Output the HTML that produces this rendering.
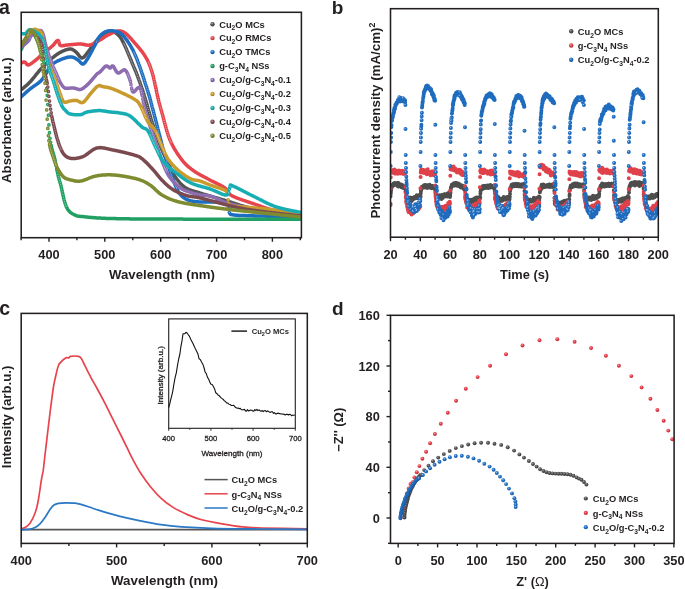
<!DOCTYPE html><html><head><meta charset="utf-8"><style>html,body{margin:0;padding:0;background:#fff;}svg{display:block;will-change:transform;}</style></head><body>
<svg width="685" height="589" viewBox="0 0 685 589" font-family='"Liberation Sans", sans-serif'>
<rect width="685" height="589" fill="#fff"/>
<defs><clipPath id="ca"><rect x="21.2" y="12.3" width="280.2" height="225.4"/></clipPath></defs>
<g clip-path="url(#ca)" fill="none" stroke-linejoin="round" stroke-linecap="round">
<path d="M21 90L21.6 89.5L22.1 89.1L22.7 88.6L23.2 88.1L23.8 87.7L24.4 87.2L24.9 86.7L25.5 86.2L26 85.8L26.6 85.3L27.1 84.8L27.7 84.3L28.3 83.7L28.8 83.2L29.4 82.6L29.9 82.1L30.5 81.5L31.1 80.8L31.6 80.2L32.2 79.5L32.7 78.9L33.3 78.2L33.8 77.5L34.4 76.8L35 76.1L35.5 75.4L36.1 74.7L36.6 74L37.2 73.3L37.8 72.6L38.3 71.9L38.9 71.3L39.4 70.6L40 70L40.5 69.4L41.1 68.8L41.7 68.2L42.2 67.6L42.8 67L43.3 66.4L43.9 65.8L44.5 65.3L45 64.7L45.6 64.1L46.1 63.6L46.7 63.1L47.2 62.5L47.8 62L48.4 61.5L48.9 61L49.5 60.5L50 60L50.6 59.5L51.2 59L51.7 58.5L52.3 58L52.8 57.6L53.4 57.1L54 56.7L54.5 56.2L55.1 55.8L55.6 55.4L56.2 55L56.7 54.6L57.3 54.2L57.9 53.8L58.4 53.4L59 53.1L59.5 52.8L60.1 52.4L60.7 52.1L61.2 51.9L61.8 51.6L62.3 51.3L62.9 51.1L63.4 50.8L64 50.6L64.6 50.4L65.1 50.1L65.7 49.9L66.2 49.8L66.8 49.6L67.4 49.4L67.9 49.3L68.5 49.2L69 49.1L69.6 49L70.1 49L70.7 49L71.3 49.1L71.8 49.2L72.4 49.4L72.9 49.7L73.5 50.1L74.1 50.5L74.6 50.9L75.2 51.4L75.7 51.8L76.3 52.2L76.8 52.8L77.4 53.5L78 54.2L78.5 54.9L79.1 55.7L79.6 56.4L80.2 57L80.8 57.5L81.3 57.8L81.9 58L82.4 57.9L83 57.7L83.6 57.3L84.1 56.9L84.7 56.3L85.2 55.6L85.8 54.9L86.3 54.2L86.9 53.4L87.5 52.7L88 52L88.6 51.3L89.1 50.5L89.7 49.7L90.3 48.9L90.8 48.1L91.4 47.2L91.9 46.4L92.5 45.7L93 44.9L93.6 44.2L94.2 43.6L94.7 42.9L95.3 42.2L95.8 41.5L96.4 40.8L97 40.2L97.5 39.6L98.1 39L98.6 38.4L99.2 37.8L99.7 37.2L100.3 36.7L100.9 36.2L101.4 35.7L102 35.2L102.5 34.8L103.1 34.3L103.7 33.9L104.2 33.5L104.8 33.1L105.3 32.8L105.9 32.5L106.5 32.2L107 32L107.6 31.8L108.1 31.6L108.7 31.5L109.2 31.3L109.8 31.2L110.4 31.2L110.9 31.2L111.5 31.2L112 31.3L112.6 31.4L113.2 31.6L113.7 31.9L114.3 32.1L114.8 32.4L115.4 32.8L115.9 33.1L116.5 33.5L117.1 33.9L117.6 34.3L118.2 34.8L118.7 35.4L119.3 36L119.9 36.7L120.4 37.5L121 38.3L121.5 39.2L122.1 40.2L122.6 41.2L123.2 42.3L123.8 43.4L124.3 44.6L124.9 45.8L125.4 47L126 48.3L126.6 49.6L127.1 50.9L127.7 52.2L128.2 53.5L128.8 54.8L129.3 56.2L129.9 57.5L130.5 58.9L131 60.3L131.6 61.6L132.1 63L132.7 64.3L133.3 65.6L133.8 66.9L134.4 68.2L134.9 69.6L135.5 70.9L136.1 72.3L136.6 73.7L137.2 75.1L137.7 76.6L138.3 78.1L138.8 79.6L139.4 81.1L140 82.7L140.5 84.3L141.1 85.9L141.6 87.5L142.2 89.2L142.8 90.9L143.3 92.6L143.9 94.4L144.4 96.2L145 98L145.5 99.8L146.1 101.7L146.7 103.6L147.2 105.6L147.8 107.6L148.3 109.6L148.9 111.5L149.5 113.5L150 115.4L150.6 117.3L151.1 119.2L151.7 121L152.2 122.8L152.8 124.5L153.4 126.2L153.9 127.9L154.5 129.6L155 131.3L155.6 132.9L156.2 134.5L156.7 136.1L157.3 137.7L157.8 139.2L158.4 140.8L158.9 142.3L159.5 143.7L160.1 145.2L160.6 146.6L161.2 148L161.7 149.3L162.3 150.6L162.9 151.9L163.4 153.2L164 154.4L164.5 155.7L165.1 156.9L165.7 158.1L166.2 159.3L166.8 160.4L167.3 161.6L167.9 162.8L168.4 163.9L169 165.1L169.6 166.3L170.1 167.4L170.7 168.6L171.2 169.7L171.8 170.8L172.4 171.9L172.9 173L173.5 174L174 175L174.6 175.9L175.1 176.8L175.7 177.6L176.3 178.4L176.8 179.1L177.4 179.9L177.9 180.6L178.5 181.2L179.1 181.9L179.6 182.5L180.2 183.2L180.7 183.7L181.3 184.3L181.8 184.8L182.4 185.3L183 185.8L183.5 186.3L184.1 186.7L184.6 187.1L185.2 187.5L185.8 187.8L186.3 188.2L186.9 188.5L187.4 188.8L188 189.1L188.6 189.4L189.1 189.6L189.7 189.8L190.2 190.1L190.8 190.2L191.3 190.4L191.9 190.6L192.5 190.8L193 190.9L193.6 191.1L194.1 191.3L194.7 191.4L195.3 191.6L195.8 191.7L196.4 191.9L196.9 192.1L197.5 192.2L198 192.4L198.6 192.6L199.2 192.7L199.7 192.9L200.3 193.1L200.8 193.3L201.4 193.4L202 193.6L202.5 193.8L203.1 194L203.6 194.1L204.2 194.3L204.7 194.5L205.3 194.6L205.9 194.8L206.4 195L207 195.1L207.5 195.3L208.1 195.5L208.7 195.6L209.2 195.8L209.8 195.9L210.3 196.1L210.9 196.3L211.4 196.4L212 196.6L212.6 196.8L213.1 196.9L213.7 197.1L214.2 197.3L214.8 197.4L215.4 197.6L215.9 197.7L216.5 197.9L217 198.1L217.6 198.2L218.2 198.4L218.7 198.6L219.3 198.7L219.8 198.9L220.4 199L220.9 199.2L221.5 199.4L222.1 199.5L222.6 199.7L223.2 199.9L223.7 200L224.3 200.2L224.9 200.4L225.4 200.5L226 200.7L226.5 200.9L227.1 201L227.6 201.2L228.2 201.4L228.8 201.5L229.3 201.7L229.9 201.9L230.4 202.1L231 202.2L231.6 202.4L232.1 202.6L232.7 202.8L233.2 203L233.8 203.2L234.3 203.3L234.9 203.5L235.5 203.7L236 203.9L236.6 204.1L237.1 204.3L237.7 204.4L238.3 204.6L238.8 204.8L239.4 205L239.9 205.2L240.5 205.4L241 205.5L241.6 205.7L242.2 205.9L242.7 206L243.3 206.2L243.8 206.4L244.4 206.5L245 206.7L245.5 206.9L246.1 207L246.6 207.2L247.2 207.3L247.8 207.5L248.3 207.6L248.9 207.7L249.4 207.9L250 208L250.5 208.1L251.1 208.2L251.7 208.4L252.2 208.5L252.8 208.6L253.3 208.7L253.9 208.8L254.5 208.9L255 209L255.6 209.1L256.1 209.2L256.7 209.3L257.2 209.4L257.8 209.5L258.4 209.6L258.9 209.7L259.5 209.8L260 209.9L260.6 210L261.2 210.1L261.7 210.2L262.3 210.2L262.8 210.3L263.4 210.4L263.9 210.5L264.5 210.6L265.1 210.6L265.6 210.7L266.2 210.8L266.7 210.9L267.3 211L267.9 211L268.4 211.1L269 211.2L269.5 211.3L270.1 211.3L270.6 211.4L271.2 211.5L271.8 211.6L272.3 211.6L272.9 211.7L273.4 211.8L274 211.9L274.6 211.9L275.1 212L275.7 212.1L276.2 212.2L276.8 212.2L277.4 212.3L277.9 212.4L278.5 212.5L279 212.5L279.6 212.6L280.1 212.7L280.7 212.7L281.3 212.8L281.8 212.9L282.4 212.9L282.9 213L283.5 213.1L284.1 213.1L284.6 213.2L285.2 213.3L285.7 213.3L286.3 213.4L286.8 213.4L287.4 213.5L288 213.6L288.5 213.6L289.1 213.7L289.6 213.8L290.2 213.8L290.8 213.9L291.3 213.9L291.9 214L292.4 214.1L293 214.1L293.5 214.2L294.1 214.2L294.7 214.3L295.2 214.4L295.8 214.4L296.3 214.5L296.9 214.5L297.5 214.6L298 214.7L298.6 214.7L299.1 214.8L299.7 214.9L300.2 214.9L300.8 215" stroke="#535353" stroke-width="3.5"/>
<path d="M123.8 43.4h0M124.3 44.6h0M124.9 45.8h0M125.4 47h0M126 48.3h0M126.6 49.6h0M127.1 50.9h0M127.7 52.2h0M128.2 53.5h0M128.8 54.8h0M129.3 56.2h0M129.9 57.5h0M130.5 58.9h0M131 60.3h0M131.6 61.6h0M132.1 63h0M132.7 64.3h0M133.3 65.6h0M133.8 66.9h0M134.4 68.2h0M134.9 69.6h0M135.5 70.9h0M136.1 72.3h0M136.6 73.7h0M137.2 75.1h0M137.7 76.6h0M138.3 78.1h0M138.8 79.6h0M139.4 81.1h0M140 82.7h0M140.5 84.3h0M141.1 85.9h0M141.6 87.5h0M142.2 89.2h0M142.8 90.9h0M143.3 92.6h0M143.9 94.4h0M144.4 96.2h0M145 98h0M145.5 99.8h0M146.1 101.7h0M146.7 103.6h0M147.2 105.6h0M147.8 107.6h0M148.3 109.6h0M148.9 111.5h0M149.5 113.5h0M150 115.4h0M150.6 117.3h0M151.1 119.2h0M151.7 121h0M152.2 122.8h0M152.8 124.5h0M153.4 126.2h0M153.9 127.9h0M154.5 129.6h0M155 131.3h0M155.6 132.9h0M156.2 134.5h0M156.7 136.1h0M157.3 137.7h0M157.8 139.2h0M158.4 140.8h0M158.9 142.3h0M159.5 143.7h0M160.1 145.2h0M160.6 146.6h0M161.2 148h0M161.7 149.3h0M162.3 150.6h0M162.9 151.9h0M163.4 153.2h0M164 154.4h0M164.5 155.7h0M165.1 156.9h0M165.7 158.1h0M166.2 159.3h0M166.8 160.4h0M167.3 161.6h0M167.9 162.8h0M168.4 163.9h0M169 165.1h0M169.6 166.3h0M170.1 167.4h0M170.7 168.6h0" stroke="#fff" stroke-opacity="0.6" stroke-width="1"/>
<path d="M21 63.3L21.6 63L22.1 62.7L22.7 62.5L23.2 62.2L23.8 62.1L24.4 62L24.9 62L25.5 62.5L26 63.2L26.6 64.1L27.1 64.7L27.7 65L28.3 65L28.8 64.9L29.4 64.6L29.9 64.4L30.5 64L31.1 63.7L31.6 63.3L32.2 62.9L32.7 62.5L33.3 62L33.8 61.6L34.4 61.2L35 60.7L35.5 60.3L36.1 59.8L36.6 59.3L37.2 58.8L37.8 58.3L38.3 57.8L38.9 57.3L39.4 56.8L40 56.3L40.5 55.7L41.1 55.2L41.7 54.7L42.2 54.2L42.8 53.7L43.3 53.2L43.9 52.8L44.5 52.3L45 51.9L45.6 51.4L46.1 51L46.7 50.5L47.2 50.1L47.8 49.7L48.4 49.2L48.9 48.8L49.5 48.4L50 47.9L50.6 47.5L51.2 47L51.7 46.5L52.3 46L52.8 45.5L53.4 44.9L54 44.3L54.5 43.6L55.1 42.9L55.6 42.3L56.2 41.6L56.7 41.1L57.3 40.6L57.9 40.4L58.4 40.6L59 42.1L59.5 44.3L60.1 45.3L60.7 45.6L61.2 45.7L61.8 45.8L62.3 45.7L62.9 45.7L63.4 45.6L64 45.5L64.6 45.4L65.1 45.3L65.7 45.2L66.2 45.1L66.8 45L67.4 45L67.9 44.9L68.5 44.9L69 44.8L69.6 44.8L70.1 44.7L70.7 44.7L71.3 44.6L71.8 44.6L72.4 44.5L72.9 44.5L73.5 44.4L74.1 44.3L74.6 44.3L75.2 44.2L75.7 44.2L76.3 44.2L76.8 44.1L77.4 44.1L78 44.1L78.5 44L79.1 44L79.6 44L80.2 44L80.8 44L81.3 44.1L81.9 44.1L82.4 44.2L83 44.3L83.6 44.4L84.1 44.5L84.7 44.6L85.2 44.8L85.8 44.9L86.3 45L86.9 45.1L87.5 45.1L88 45.2L88.6 45.2L89.1 45.1L89.7 45.1L90.3 44.9L90.8 44.8L91.4 44.6L91.9 44.4L92.5 44.2L93 43.9L93.6 43.7L94.2 43.4L94.7 43.1L95.3 42.8L95.8 42.5L96.4 42.1L97 41.8L97.5 41.5L98.1 41.1L98.6 40.8L99.2 40.5L99.7 40.1L100.3 39.8L100.9 39.5L101.4 39.2L102 38.8L102.5 38.4L103.1 38.1L103.7 37.7L104.2 37.3L104.8 36.9L105.3 36.5L105.9 36.2L106.5 35.8L107 35.5L107.6 35.2L108.1 34.9L108.7 34.7L109.2 34.4L109.8 34.1L110.4 33.8L110.9 33.6L111.5 33.3L112 33L112.6 32.8L113.2 32.5L113.7 32.3L114.3 32.1L114.8 31.8L115.4 31.6L115.9 31.5L116.5 31.3L117.1 31.2L117.6 31.1L118.2 31L118.7 30.9L119.3 30.9L119.9 30.9L120.4 31L121 31.1L121.5 31.2L122.1 31.4L122.6 31.6L123.2 31.9L123.8 32.2L124.3 32.6L124.9 32.9L125.4 33.3L126 33.7L126.6 34.2L127.1 34.7L127.7 35.2L128.2 35.7L128.8 36.3L129.3 36.9L129.9 37.5L130.5 38.1L131 38.7L131.6 39.4L132.1 40L132.7 40.7L133.3 41.3L133.8 41.9L134.4 42.6L134.9 43.2L135.5 43.8L136.1 44.5L136.6 45.1L137.2 45.8L137.7 46.4L138.3 47.1L138.8 47.7L139.4 48.4L140 49.1L140.5 49.8L141.1 50.5L141.6 51.2L142.2 51.9L142.8 52.7L143.3 53.5L143.9 54.3L144.4 55.1L145 56L145.5 56.9L146.1 57.9L146.7 58.8L147.2 59.9L147.8 61L148.3 62.1L148.9 63.4L149.5 64.7L150 66.1L150.6 67.7L151.1 69.3L151.7 71L152.2 72.8L152.8 74.8L153.4 77L153.9 79.4L154.5 81.8L155 84.4L155.6 87L156.2 89.6L156.7 92.3L157.3 94.9L157.8 97.3L158.4 99.6L158.9 101.9L159.5 104L160.1 106.1L160.6 108.2L161.2 110.1L161.7 112.1L162.3 114.1L162.9 116.1L163.4 118.3L164 120.4L164.5 122.6L165.1 124.7L165.7 126.7L166.2 128.7L166.8 130.7L167.3 132.5L167.9 134.3L168.4 135.9L169 137.5L169.6 138.9L170.1 140.3L170.7 141.5L171.2 142.7L171.8 143.9L172.4 145L172.9 146.1L173.5 147.1L174 148.1L174.6 149.1L175.1 150L175.7 150.9L176.3 151.8L176.8 152.7L177.4 153.6L177.9 154.4L178.5 155.2L179.1 156L179.6 156.8L180.2 157.6L180.7 158.3L181.3 159.1L181.8 159.8L182.4 160.5L183 161.2L183.5 161.9L184.1 162.5L184.6 163.1L185.2 163.7L185.8 164.3L186.3 164.9L186.9 165.4L187.4 165.9L188 166.4L188.6 166.9L189.1 167.3L189.7 167.8L190.2 168.2L190.8 168.7L191.3 169.1L191.9 169.5L192.5 169.9L193 170.3L193.6 170.7L194.1 171.1L194.7 171.5L195.3 171.9L195.8 172.2L196.4 172.6L196.9 172.9L197.5 173.3L198 173.6L198.6 173.9L199.2 174.2L199.7 174.6L200.3 174.9L200.8 175.2L201.4 175.5L202 175.8L202.5 176.1L203.1 176.4L203.6 176.7L204.2 176.9L204.7 177.2L205.3 177.5L205.9 177.8L206.4 178.1L207 178.4L207.5 178.7L208.1 179L208.7 179.3L209.2 179.6L209.8 179.9L210.3 180.2L210.9 180.5L211.4 180.8L212 181.1L212.6 181.3L213.1 181.6L213.7 181.9L214.2 182.2L214.8 182.4L215.4 182.7L215.9 183L216.5 183.2L217 183.5L217.6 183.8L218.2 184.1L218.7 184.3L219.3 184.6L219.8 184.9L220.4 185.2L220.9 185.5L221.5 185.8L222.1 186.1L222.6 186.4L223.2 186.8L223.7 187.1L224.3 187.5L224.9 187.9L225.4 188.4L226 188.9L226.5 189.6L227.1 190.4L227.6 191.4L228.2 192.3L228.8 193.1L229.3 193.8L229.9 194.3L230.4 194.8L231 195.2L231.6 195.5L232.1 195.9L232.7 196.2L233.2 196.4L233.8 196.7L234.3 196.9L234.9 197.2L235.5 197.4L236 197.7L236.6 197.9L237.1 198.1L237.7 198.3L238.3 198.5L238.8 198.7L239.4 198.9L239.9 199.1L240.5 199.3L241 199.5L241.6 199.7L242.2 199.9L242.7 200.1L243.3 200.3L243.8 200.5L244.4 200.7L245 200.9L245.5 201L246.1 201.2L246.6 201.4L247.2 201.6L247.8 201.8L248.3 202L248.9 202.1L249.4 202.3L250 202.5L250.5 202.7L251.1 202.9L251.7 203.1L252.2 203.3L252.8 203.4L253.3 203.6L253.9 203.8L254.5 204L255 204.2L255.6 204.4L256.1 204.6L256.7 204.8L257.2 205L257.8 205.2L258.4 205.4L258.9 205.6L259.5 205.8L260 206L260.6 206.2L261.2 206.4L261.7 206.6L262.3 206.8L262.8 207L263.4 207.2L263.9 207.4L264.5 207.6L265.1 207.8L265.6 208L266.2 208.1L266.7 208.3L267.3 208.5L267.9 208.7L268.4 208.9L269 209.1L269.5 209.2L270.1 209.4L270.6 209.6L271.2 209.7L271.8 209.9L272.3 210.1L272.9 210.2L273.4 210.4L274 210.5L274.6 210.7L275.1 210.8L275.7 211L276.2 211.1L276.8 211.3L277.4 211.4L277.9 211.5L278.5 211.7L279 211.8L279.6 211.9L280.1 212L280.7 212.2L281.3 212.3L281.8 212.4L282.4 212.5L282.9 212.6L283.5 212.7L284.1 212.9L284.6 213L285.2 213.1L285.7 213.2L286.3 213.3L286.8 213.4L287.4 213.5L288 213.6L288.5 213.7L289.1 213.8L289.6 213.9L290.2 214L290.8 214.1L291.3 214.2L291.9 214.3L292.4 214.4L293 214.5L293.5 214.6L294.1 214.7L294.7 214.8L295.2 214.9L295.8 215L296.3 215.1L296.9 215.2L297.5 215.3L298 215.4L298.6 215.5L299.1 215.6L299.7 215.8L300.2 215.9L300.8 216" stroke="#e8444d" stroke-width="3.5"/>
<path d="M59 42.1h0M148.3 62.1h0M148.9 63.4h0M149.5 64.7h0M150 66.1h0M150.6 67.7h0M151.1 69.3h0M151.7 71h0M152.2 72.8h0M152.8 74.8h0M153.4 77h0M153.9 79.4h0M154.5 81.8h0M155 84.4h0M155.6 87h0M156.2 89.6h0M156.7 92.3h0M157.3 94.9h0M157.8 97.3h0M158.4 99.6h0M158.9 101.9h0M159.5 104h0M160.1 106.1h0M160.6 108.2h0M161.2 110.1h0M161.7 112.1h0M162.3 114.1h0M162.9 116.1h0M163.4 118.3h0M164 120.4h0M164.5 122.6h0M165.1 124.7h0M165.7 126.7h0M166.2 128.7h0M166.8 130.7h0M167.3 132.5h0M167.9 134.3h0M168.4 135.9h0M169 137.5h0M169.6 138.9h0M170.1 140.3h0M170.7 141.5h0M171.2 142.7h0" stroke="#fff" stroke-opacity="0.6" stroke-width="1"/>
<path d="M21 97L21.6 96.5L22.1 96L22.7 95.5L23.2 95L23.8 94.5L24.4 93.9L24.9 93.4L25.5 92.9L26 92.4L26.6 91.9L27.1 91.4L27.7 90.9L28.3 90.5L28.8 90L29.4 89.5L29.9 89.1L30.5 88.6L31.1 88.2L31.6 87.8L32.2 87.4L32.7 87L33.3 86.6L33.8 86.2L34.4 85.8L35 85.5L35.5 85.1L36.1 84.7L36.6 84.3L37.2 83.9L37.8 83.5L38.3 83.1L38.9 82.6L39.4 82.2L40 81.7L40.5 81.2L41.1 80.6L41.7 80L42.2 79.4L42.8 78.7L43.3 77.9L43.9 77.1L44.5 76.3L45 75.4L45.6 74.4L46.1 73.5L46.7 72.5L47.2 71.5L47.8 70.5L48.4 69.5L48.9 68.6L49.5 67.7L50 66.9L50.6 66.2L51.2 65.5L51.7 64.8L52.3 64.3L52.8 63.8L53.4 63.4L54 63L54.5 62.7L55.1 62.4L55.6 62L56.2 61.7L56.7 61.4L57.3 61.2L57.9 60.9L58.4 60.6L59 60.4L59.5 60.1L60.1 59.9L60.7 59.6L61.2 59.4L61.8 59.2L62.3 59L62.9 58.7L63.4 58.5L64 58.3L64.6 58.1L65.1 58L65.7 57.8L66.2 57.6L66.8 57.5L67.4 57.3L67.9 57.2L68.5 57.1L69 57L69.6 56.9L70.1 56.9L70.7 56.9L71.3 56.9L71.8 57L72.4 57.1L72.9 57.2L73.5 57.4L74.1 57.6L74.6 57.9L75.2 58.2L75.7 58.5L76.3 58.9L76.8 59.3L77.4 59.6L78 60L78.5 60.4L79.1 60.9L79.6 61.5L80.2 62.2L80.8 62.8L81.3 63.3L81.9 63.7L82.4 64L83 64L83.6 63.8L84.1 63.4L84.7 62.9L85.2 62.3L85.8 61.5L86.3 60.6L86.9 59.8L87.5 58.9L88 58L88.6 57L89.1 56.1L89.7 55.1L90.3 54L90.8 53L91.4 51.9L91.9 50.9L92.5 49.8L93 48.7L93.6 47.6L94.2 46.6L94.7 45.5L95.3 44.5L95.8 43.4L96.4 42.2L97 41L97.5 39.8L98.1 38.8L98.6 37.8L99.2 37L99.7 36.3L100.3 35.7L100.9 35.1L101.4 34.6L102 34L102.5 33.6L103.1 33.1L103.7 32.7L104.2 32.4L104.8 32.1L105.3 31.8L105.9 31.6L106.5 31.4L107 31.2L107.6 31.1L108.1 31L108.7 30.9L109.2 30.9L109.8 30.8L110.4 30.8L110.9 30.8L111.5 30.8L112 30.8L112.6 30.8L113.2 30.9L113.7 30.9L114.3 31L114.8 31.1L115.4 31.2L115.9 31.3L116.5 31.5L117.1 31.6L117.6 31.8L118.2 32.1L118.7 32.3L119.3 32.6L119.9 32.9L120.4 33.3L121 33.7L121.5 34.1L122.1 34.6L122.6 35.1L123.2 35.7L123.8 36.3L124.3 36.9L124.9 37.6L125.4 38.3L126 39L126.6 39.8L127.1 40.6L127.7 41.4L128.2 42.2L128.8 43.1L129.3 44L129.9 44.9L130.5 45.8L131 46.7L131.6 47.7L132.1 48.7L132.7 49.7L133.3 50.8L133.8 52L134.4 53.2L134.9 54.4L135.5 55.7L136.1 57.1L136.6 58.4L137.2 59.9L137.7 61.3L138.3 62.8L138.8 64.3L139.4 65.8L140 67.4L140.5 69L141.1 70.6L141.6 72.3L142.2 73.9L142.8 75.6L143.3 77.3L143.9 79L144.4 80.7L145 82.5L145.5 84.2L146.1 86L146.7 87.7L147.2 89.5L147.8 91.3L148.3 93.1L148.9 94.9L149.5 96.8L150 98.7L150.6 100.8L151.1 102.9L151.7 105L152.2 107.1L152.8 109.3L153.4 111.4L153.9 113.5L154.5 115.6L155 117.8L155.6 119.9L156.2 122.1L156.7 124.3L157.3 126.4L157.8 128.6L158.4 130.8L158.9 132.9L159.5 135.1L160.1 137.3L160.6 139.4L161.2 141.7L161.7 144L162.3 146.3L162.9 148.5L163.4 150.6L164 152.6L164.5 154.5L165.1 156.3L165.7 158.1L166.2 159.8L166.8 161.5L167.3 163.2L167.9 164.9L168.4 166.5L169 168.2L169.6 169.8L170.1 171.4L170.7 173L171.2 174.6L171.8 176.1L172.4 177.7L172.9 179.2L173.5 180.6L174 182.1L174.6 183.5L175.1 184.9L175.7 186.2L176.3 187.5L176.8 188.7L177.4 189.9L177.9 190.9L178.5 191.9L179.1 192.7L179.6 193.5L180.2 194.2L180.7 194.9L181.3 195.5L181.8 196.1L182.4 196.6L183 197.1L183.5 197.5L184.1 198L184.6 198.3L185.2 198.7L185.8 199L186.3 199.3L186.9 199.5L187.4 199.8L188 200L188.6 200.2L189.1 200.4L189.7 200.6L190.2 200.8L190.8 200.9L191.3 201L191.9 201.1L192.5 201.2L193 201.3L193.6 201.4L194.1 201.5L194.7 201.5L195.3 201.6L195.8 201.7L196.4 201.7L196.9 201.8L197.5 201.8L198 201.8L198.6 201.9L199.2 201.9L199.7 202L200.3 202L200.8 202.1L201.4 202.1L202 202.1L202.5 202.1L203.1 202.1L203.6 202.1L204.2 202.1L204.7 202.1L205.3 202.1L205.9 202.1L206.4 202.1L207 202.1L207.5 202.1L208.1 202.1L208.7 202.1L209.2 202.1L209.8 202.1L210.3 202.1L210.9 202.1L211.4 202.1L212 202.1L212.6 202.1L213.1 202.1L213.7 202.1L214.2 202.1L214.8 202.1L215.4 202.1L215.9 202.1L216.5 202.1L217 202.1L217.6 202.1L218.2 202.1L218.7 202.1L219.3 202.1L219.8 202.2L220.4 202.2L220.9 202.2L221.5 202.3L222.1 202.3L222.6 202.4L223.2 202.4L223.7 202.5L224.3 202.6L224.9 202.7L225.4 202.8L226 203L226.5 203.2L227.1 203.5L227.6 204L228.2 204.6L228.8 206.4M229.3 212.5L229.9 213.8L230.4 214.3L231 214.5L231.6 214.6L232.1 214.7L232.7 214.8L233.2 214.9L233.8 215L234.3 215L234.9 215.1L235.5 215.2L236 215.2L236.6 215.3L237.1 215.3L237.7 215.3L238.3 215.4L238.8 215.4L239.4 215.4L239.9 215.5L240.5 215.5L241 215.5L241.6 215.5L242.2 215.5L242.7 215.6L243.3 215.6L243.8 215.6L244.4 215.6L245 215.6L245.5 215.6L246.1 215.7L246.6 215.7L247.2 215.7L247.8 215.7L248.3 215.7L248.9 215.7L249.4 215.7L250 215.8L250.5 215.8L251.1 215.8L251.7 215.8L252.2 215.8L252.8 215.8L253.3 215.8L253.9 215.8L254.5 215.9L255 215.9L255.6 215.9L256.1 215.9L256.7 215.9L257.2 215.9L257.8 215.9L258.4 216L258.9 216L259.5 216L260 216L260.6 216L261.2 216L261.7 216L262.3 216.1L262.8 216.1L263.4 216.1L263.9 216.1L264.5 216.1L265.1 216.1L265.6 216.2L266.2 216.2L266.7 216.2L267.3 216.2L267.9 216.2L268.4 216.2L269 216.2L269.5 216.3L270.1 216.3L270.6 216.3L271.2 216.3L271.8 216.3L272.3 216.3L272.9 216.3L273.4 216.4L274 216.4L274.6 216.4L275.1 216.4L275.7 216.4L276.2 216.4L276.8 216.4L277.4 216.4L277.9 216.5L278.5 216.5L279 216.5L279.6 216.5L280.1 216.5L280.7 216.5L281.3 216.5L281.8 216.6L282.4 216.6L282.9 216.6L283.5 216.6L284.1 216.6L284.6 216.6L285.2 216.6L285.7 216.6L286.3 216.7L286.8 216.7L287.4 216.7L288 216.7L288.5 216.7L289.1 216.7L289.6 216.7L290.2 216.7L290.8 216.8L291.3 216.8L291.9 216.8L292.4 216.8L293 216.8L293.5 216.8L294.1 216.8L294.7 216.9L295.2 216.9L295.8 216.9L296.3 216.9L296.9 216.9L297.5 216.9L298 216.9L298.6 216.9L299.1 217L299.7 217L300.2 217L300.8 217" stroke="#1d6dc1" stroke-width="3.5"/>
<path d="M96.4 42.2h0M97 41h0M133.8 52h0M134.4 53.2h0M134.9 54.4h0M135.5 55.7h0M136.1 57.1h0M136.6 58.4h0M137.2 59.9h0M137.7 61.3h0M138.3 62.8h0M138.8 64.3h0M139.4 65.8h0M140 67.4h0M140.5 69h0M141.1 70.6h0M141.6 72.3h0M142.2 73.9h0M142.8 75.6h0M143.3 77.3h0M143.9 79h0M144.4 80.7h0M145 82.5h0M145.5 84.2h0M146.1 86h0M146.7 87.7h0M147.2 89.5h0M147.8 91.3h0M148.3 93.1h0M148.9 94.9h0M149.5 96.8h0M150 98.7h0M150.6 100.8h0M151.1 102.9h0M151.7 105h0M152.2 107.1h0M152.8 109.3h0M153.4 111.4h0M153.9 113.5h0M154.5 115.6h0M155 117.8h0M155.6 119.9h0M156.2 122.1h0M156.7 124.3h0M157.3 126.4h0M157.8 128.6h0M158.4 130.8h0M158.9 132.9h0M159.5 135.1h0M160.1 137.3h0M160.6 139.4h0M161.2 141.7h0M161.7 144h0M162.3 146.3h0M162.9 148.5h0M163.4 150.6h0M164 152.6h0M164.5 154.5h0M165.1 156.3h0M165.7 158.1h0M166.2 159.8h0M166.8 161.5h0M167.3 163.2h0M167.9 164.9h0M168.4 166.5h0M169 168.2h0M169.6 169.8h0M170.1 171.4h0M170.7 173h0M171.2 174.6h0M171.8 176.1h0M172.4 177.7h0M172.9 179.2h0M173.5 180.6h0M174 182.1h0M174.6 183.5h0M175.1 184.9h0M175.7 186.2h0M176.3 187.5h0M176.8 188.7h0M228.8 206.4h0M229.3 212.5h0" stroke="#fff" stroke-opacity="0.6" stroke-width="1"/>
<path d="M21 50L21.6 48.9L22.1 47.8L22.7 46.6L23.2 45.5L23.8 44.4L24.4 43.3L24.9 42.2L25.5 41.1L26 39.9L26.6 38.7L27.1 37.3L27.7 35.9L28.3 34.5L28.8 33.3L29.4 32.5L29.9 32L30.5 31.9L31.1 31.9L31.6 32.2L32.2 32.5L32.7 33L33.3 33.6L33.8 34.3L34.4 35.1L35 35.9L35.5 36.9L36.1 37.9L36.6 39.1L37.2 40.3L37.8 41.7L38.3 43.1L38.9 44.6L39.4 46.2L40 48L40.5 49.8L41.1 51.7L41.7 53.8L42.2 56L42.8 58.4L43.3 61.2M51.2 145.4L51.7 147.9L52.3 150.1L52.8 152.1L53.4 154L54 155.9L54.5 158L55.1 160.3L55.6 163L56.2 165.9M56.7 168.8L57.3 171.7L57.9 174.4L58.4 176.7L59 178.8L59.5 180.7L60.1 182.6L60.7 184.7L61.2 186.9L61.8 189.3L62.3 191.9L62.9 194.5L63.4 197L64 199.4L64.6 201.5L65.1 203.4L65.7 205L66.2 206.4L66.8 207.7L67.4 208.7L67.9 209.6L68.5 210.3L69 211L69.6 211.6L70.1 212.2L70.7 212.6L71.3 213L71.8 213.4L72.4 213.7L72.9 214L73.5 214.3L74.1 214.6L74.6 214.8L75.2 215.1L75.7 215.4L76.3 215.7L76.8 215.9L77.4 216.1L78 216.1L78.5 216.2L79.1 216.3L79.6 216.3L80.2 216.4L80.8 216.4L81.3 216.5L81.9 216.5L82.4 216.6L83 216.6L83.6 216.7L84.1 216.8L84.7 216.8L85.2 216.9L85.8 216.9L86.3 217L86.9 217.1L87.5 217.1L88 217.2L88.6 217.2L89.1 217.3L89.7 217.3L90.3 217.4L90.8 217.4L91.4 217.5L91.9 217.5L92.5 217.6L93 217.6L93.6 217.7L94.2 217.7L94.7 217.8L95.3 217.8L95.8 217.8L96.4 217.9L97 217.9L97.5 217.9L98.1 218L98.6 218L99.2 218L99.7 218.1L100.3 218.1L100.9 218.1L101.4 218.2L102 218.2L102.5 218.2L103.1 218.2L103.7 218.3L104.2 218.3L104.8 218.3L105.3 218.3L105.9 218.4L106.5 218.4L107 218.4L107.6 218.4L108.1 218.4L108.7 218.5L109.2 218.5L109.8 218.5L110.4 218.5L110.9 218.5L111.5 218.5L112 218.6L112.6 218.6L113.2 218.6L113.7 218.6L114.3 218.6L114.8 218.6L115.4 218.6L115.9 218.6L116.5 218.7L117.1 218.7L117.6 218.7L118.2 218.7L118.7 218.7L119.3 218.7L119.9 218.7L120.4 218.7L121 218.7L121.5 218.7L122.1 218.8L122.6 218.8L123.2 218.8L123.8 218.8L124.3 218.8L124.9 218.8L125.4 218.8L126 218.8L126.6 218.8L127.1 218.8L127.7 218.8L128.2 218.8L128.8 218.8L129.3 218.8L129.9 218.9L130.5 218.9L131 218.9L131.6 218.9L132.1 218.9L132.7 218.9L133.3 218.9L133.8 218.9L134.4 218.9L134.9 218.9L135.5 218.9L136.1 218.9L136.6 218.9L137.2 218.9L137.7 218.9L138.3 218.9L138.8 218.9L139.4 218.9L140 218.9L140.5 219L141.1 219L141.6 219L142.2 219L142.8 219L143.3 219L143.9 219L144.4 219L145 219L145.5 219L146.1 219L146.7 219L147.2 219L147.8 219L148.3 219L148.9 219L149.5 219L150 219L150.6 219L151.1 219L151.7 219L152.2 219L152.8 219L153.4 219L153.9 219L154.5 219L155 219L155.6 219L156.2 219L156.7 219.1L157.3 219.1L157.8 219.1L158.4 219.1L158.9 219.1L159.5 219.1L160.1 219.1L160.6 219.1L161.2 219.1L161.7 219.1L162.3 219.1L162.9 219.1L163.4 219.1L164 219.1L164.5 219.1L165.1 219.1L165.7 219.1L166.2 219.1L166.8 219.1L167.3 219.1L167.9 219.1L168.4 219.1L169 219.1L169.6 219.1L170.1 219.1L170.7 219.1L171.2 219.1L171.8 219.1L172.4 219.1L172.9 219.1L173.5 219.1L174 219.1L174.6 219.1L175.1 219.1L175.7 219.1L176.3 219.1L176.8 219.1L177.4 219.1L177.9 219.1L178.5 219.1L179.1 219.1L179.6 219.1L180.2 219.1L180.7 219.1L181.3 219.1L181.8 219.1L182.4 219.1L183 219.1L183.5 219.2L184.1 219.2L184.6 219.2L185.2 219.2L185.8 219.2L186.3 219.2L186.9 219.2L187.4 219.2L188 219.2L188.6 219.2L189.1 219.2L189.7 219.2L190.2 219.2L190.8 219.2L191.3 219.2L191.9 219.2L192.5 219.2L193 219.2L193.6 219.2L194.1 219.2L194.7 219.2L195.3 219.2L195.8 219.2L196.4 219.2L196.9 219.2L197.5 219.2L198 219.2L198.6 219.2L199.2 219.2L199.7 219.2L200.3 219.2L200.8 219.2L201.4 219.2L202 219.2L202.5 219.2L203.1 219.2L203.6 219.2L204.2 219.2L204.7 219.2L205.3 219.2L205.9 219.2L206.4 219.2L207 219.2L207.5 219.2L208.1 219.2L208.7 219.2L209.2 219.2L209.8 219.2L210.3 219.2L210.9 219.2L211.4 219.2L212 219.2L212.6 219.2L213.1 219.2L213.7 219.2L214.2 219.2L214.8 219.2L215.4 219.2L215.9 219.2L216.5 219.2L217 219.2L217.6 219.2L218.2 219.2L218.7 219.2L219.3 219.2L219.8 219.2L220.4 219.2L220.9 219.2L221.5 219.2L222.1 219.2L222.6 219.2L223.2 219.2L223.7 219.2L224.3 219.2L224.9 219.2L225.4 219.2L226 219.2L226.5 219.2L227.1 219.2L227.6 219.2L228.2 219.2L228.8 219.2L229.3 219.2L229.9 219.2L230.4 219.2L231 219.2L231.6 219.2L232.1 219.2L232.7 219.2L233.2 219.2L233.8 219.2L234.3 219.2L234.9 219.2L235.5 219.2L236 219.2L236.6 219.2L237.1 219.2L237.7 219.2L238.3 219.2L238.8 219.2L239.4 219.2L239.9 219.2L240.5 219.2L241 219.2L241.6 219.2L242.2 219.2L242.7 219.2L243.3 219.2L243.8 219.2L244.4 219.2L245 219.2L245.5 219.2L246.1 219.2L246.6 219.2L247.2 219.2L247.8 219.2L248.3 219.2L248.9 219.2L249.4 219.2L250 219.2L250.5 219.2L251.1 219.2L251.7 219.2L252.2 219.2L252.8 219.2L253.3 219.2L253.9 219.2L254.5 219.2L255 219.2L255.6 219.2L256.1 219.2L256.7 219.2L257.2 219.2L257.8 219.2L258.4 219.2L258.9 219.2L259.5 219.2L260 219.2L260.6 219.2L261.2 219.2L261.7 219.2L262.3 219.2L262.8 219.2L263.4 219.2L263.9 219.2L264.5 219.2L265.1 219.2L265.6 219.2L266.2 219.2L266.7 219.2L267.3 219.2L267.9 219.2L268.4 219.2L269 219.2L269.5 219.2L270.1 219.2L270.6 219.2L271.2 219.2L271.8 219.2L272.3 219.2L272.9 219.2L273.4 219.2L274 219.2L274.6 219.2L275.1 219.2L275.7 219.2L276.2 219.2L276.8 219.2L277.4 219.2L277.9 219.2L278.5 219.2L279 219.2L279.6 219.2L280.1 219.2L280.7 219.2L281.3 219.2L281.8 219.2L282.4 219.2L282.9 219.2L283.5 219.2L284.1 219.2L284.6 219.2L285.2 219.2L285.7 219.2L286.3 219.2L286.8 219.2L287.4 219.2L288 219.2L288.5 219.2L289.1 219.2L289.6 219.2L290.2 219.2L290.8 219.2L291.3 219.2L291.9 219.2L292.4 219.2L293 219.2L293.5 219.2L294.1 219.2L294.7 219.2L295.2 219.2L295.8 219.2L296.3 219.2L296.9 219.2L297.5 219.2L298 219.2L298.6 219.2L299.1 219.2L299.7 219.2L300.2 219.2L300.8 219.2" stroke="#22a064" stroke-width="3.5"/>
<path d="M43.9 64.4h0M44.5 68h0M45 72.1h0M45.6 76.8h0M46.1 82.2h0M46.7 88.3h0M47.2 95.3h0M47.8 104.6h0M48.4 115.2h0M48.9 124.9h0M49.5 132.7h0M50 138.3h0M50.6 142.3h0" stroke="#22a064" stroke-width="3.7"/>
<path d="M26 39.9h0M26.6 38.7h0M27.1 37.3h0M27.7 35.9h0M28.3 34.5h0M36.6 39.1h0M37.2 40.3h0M37.8 41.7h0M38.3 43.1h0M38.9 44.6h0M39.4 46.2h0M40 48h0M40.5 49.8h0M41.1 51.7h0M41.7 53.8h0M42.2 56h0M42.8 58.4h0M43.3 61.2h0M43.9 64.4h0M44.5 68h0M45 72.1h0M45.6 76.8h0M46.1 82.2h0M46.7 88.3h0M47.2 95.3h0M47.8 104.6h0M48.4 115.2h0M48.9 124.9h0M49.5 132.7h0M50 138.3h0M50.6 142.3h0M51.2 145.4h0M51.7 147.9h0M52.3 150.1h0M52.8 152.1h0M53.4 154h0M54 155.9h0M54.5 158h0M55.1 160.3h0M55.6 163h0M56.2 165.9h0M56.7 168.8h0M57.3 171.7h0M57.9 174.4h0M58.4 176.7h0M59 178.8h0M59.5 180.7h0M60.1 182.6h0M60.7 184.7h0M61.2 186.9h0M61.8 189.3h0M62.3 191.9h0M62.9 194.5h0M63.4 197h0M64 199.4h0M64.6 201.5h0M65.1 203.4h0M65.7 205h0M66.2 206.4h0" stroke="#fff" stroke-opacity="0.6" stroke-width="1"/>
<path d="M21 47.2L21.6 46.8L22.1 46.3L22.7 45.9L23.2 45.5L23.8 45L24.4 44.6L24.9 44.2L25.5 43.7L26 43.2L26.6 42.8L27.1 42.3L27.7 41.7L28.3 41.1L28.8 40.4L29.4 39.3L29.9 38L30.5 36.8L31.1 35.9L31.6 35.3L32.2 34.8L32.7 34.3L33.3 33.9L33.8 33.4L34.4 33L35 32.6L35.5 32.3L36.1 31.9L36.6 31.6L37.2 31.3L37.8 31L38.3 30.7L38.9 30.5L39.4 30.4L40 30.4L40.5 30.4L41.1 30.7L41.7 31.2L42.2 32.2L42.8 33.5L43.3 35L43.9 37.1L44.5 39.6L45 42.2L45.6 44.6L46.1 46.7L46.7 48.6L47.2 50.3L47.8 52L48.4 53.7L48.9 55.3L49.5 56.8L50 58.4L50.6 59.9L51.2 61.4L51.7 62.9L52.3 64.4L52.8 65.9L53.4 67.3L54 68.6L54.5 69.9L55.1 71L55.6 72.1L56.2 73.3L56.7 74.6L57.3 75.9L57.9 77.3L58.4 78.6L59 79.9L59.5 81.1L60.1 82.2L60.7 83.1L61.2 84L61.8 84.9L62.3 85.6L62.9 86.4L63.4 87L64 87.5L64.6 87.9L65.1 88.2L65.7 88.3L66.2 88.3L66.8 88.3L67.4 88.3L67.9 88.3L68.5 88.3L69 88.2L69.6 88.2L70.1 88.1L70.7 88.1L71.3 88L71.8 88L72.4 88L72.9 88L73.5 88L74.1 88.1L74.6 88.2L75.2 88.3L75.7 88.5L76.3 88.7L76.8 88.9L77.4 89.1L78 89.2L78.5 89.4L79.1 89.5L79.6 89.5L80.2 89.5L80.8 89.4L81.3 89.3L81.9 89L82.4 88.7L83 88.4L83.6 88L84.1 87.5L84.7 87.1L85.2 86.6L85.8 86.2L86.3 85.7L86.9 85.2L87.5 84.7L88 84.2L88.6 83.6L89.1 83L89.7 82.4L90.3 81.8L90.8 81.2L91.4 80.5L91.9 79.9L92.5 79.2L93 78.6L93.6 77.9L94.2 77.2L94.7 76.6L95.3 75.9L95.8 75.3L96.4 74.6L97 74L97.5 73.5L98.1 73.1L98.6 72.9L99.2 72.6L99.7 72.2L100.3 71.7L100.9 71.1L101.4 70.5L102 69.8L102.5 69.2L103.1 68.6L103.7 68L104.2 67.4L104.8 66.8L105.3 66.4L105.9 66.1L106.5 65.9L107 66L107.6 66.3L108.1 66.7L108.7 67.2L109.2 67.7L109.8 68L110.4 67.9L110.9 67.4L111.5 66.6L112 66L112.6 65.9L113.2 66.1L113.7 66.8L114.3 67.7L114.8 68.8L115.4 69.8L115.9 70.8L116.5 71.7L117.1 72.3L117.6 72.8L118.2 73L118.7 73L119.3 72.8L119.9 72.5L120.4 72.1L121 71.7L121.5 71.3L122.1 70.9L122.6 70.5L123.2 70.1L123.8 69.9L124.3 69.8L124.9 69.9L125.4 70.3L126 70.9L126.6 71.7L127.1 72.7L127.7 73.9L128.2 75.2L128.8 76.7L129.3 78.2L129.9 79.7L130.5 81.6M131.6 88.1L132.1 90.5L132.7 91.7L133.3 92.1L133.8 92L134.4 91.6L134.9 91.1L135.5 90.4L136.1 89.8L136.6 89.1L137.2 88.5L137.7 88L138.3 87.6L138.8 87.4L139.4 87.4L140 88L140.5 89L141.1 90.7L141.6 93L142.2 95.8M143.9 105.1L144.4 107.7L145 110L145.5 111.9L146.1 113.8L146.7 115.7L147.2 117.5L147.8 119.2L148.3 121L148.9 122.7L149.5 124.4L150 126.1L150.6 127.8L151.1 129.4L151.7 131.1L152.2 132.8L152.8 134.4L153.4 136.1L153.9 137.7L154.5 139.4L155 141L155.6 142.6L156.2 144.2L156.7 145.8L157.3 147.3L157.8 148.9L158.4 150.5L158.9 152L159.5 153.6L160.1 155.2L160.6 156.8L161.2 158.5L161.7 160.2L162.3 161.8L162.9 163.2L163.4 164.6L164 165.9L164.5 167.2L165.1 168.5L165.7 169.8L166.2 171L166.8 172.2L167.3 173.3L167.9 174.3L168.4 175.3L169 176.1L169.6 177L170.1 177.7L170.7 178.4L171.2 179.1L171.8 179.8L172.4 180.5L172.9 181.1L173.5 181.7L174 182.3L174.6 182.8L175.1 183.4L175.7 183.9L176.3 184.5L176.8 185L177.4 185.5L177.9 186L178.5 186.4L179.1 186.9L179.6 187.3L180.2 187.8L180.7 188.2L181.3 188.5L181.8 188.9L182.4 189.2L183 189.5L183.5 189.8L184.1 190L184.6 190.3L185.2 190.5L185.8 190.7L186.3 191L186.9 191.2L187.4 191.3L188 191.5L188.6 191.7L189.1 191.9L189.7 192.1L190.2 192.3L190.8 192.5L191.3 192.6L191.9 192.8L192.5 193L193 193.2L193.6 193.4L194.1 193.6L194.7 193.7L195.3 193.9L195.8 194L196.4 194.1L196.9 194.3L197.5 194.4L198 194.5L198.6 194.6L199.2 194.7L199.7 194.8L200.3 194.9L200.8 195L201.4 195.1L202 195.2L202.5 195.2L203.1 195.2L203.6 195.3L204.2 195.3L204.7 195.3L205.3 195.4L205.9 195.4L206.4 195.4L207 195.5L207.5 195.6L208.1 195.6L208.7 195.7L209.2 195.8L209.8 195.9L210.3 196.1L210.9 196.2L211.4 196.4L212 196.6L212.6 196.8L213.1 197L213.7 197.3L214.2 197.5L214.8 197.7L215.4 198L215.9 198.2L216.5 198.4L217 198.7L217.6 198.9L218.2 199.2L218.7 199.4L219.3 199.7L219.8 199.9L220.4 200.2L220.9 200.4L221.5 200.7L222.1 201.1L222.6 201.4L223.2 201.7L223.7 201.9L224.3 202.2L224.9 202.4L225.4 202.5L226 202.7L226.5 202.9L227.1 203L227.6 203.2L228.2 203.3L228.8 203.5L229.3 203.6L229.9 203.8L230.4 203.9L231 204.1L231.6 204.2L232.1 204.4L232.7 204.5L233.2 204.6L233.8 204.8L234.3 204.9L234.9 205.1L235.5 205.2L236 205.3L236.6 205.4L237.1 205.6L237.7 205.7L238.3 205.8L238.8 205.9L239.4 206L239.9 206.2L240.5 206.3L241 206.4L241.6 206.5L242.2 206.6L242.7 206.7L243.3 206.8L243.8 206.9L244.4 207L245 207.1L245.5 207.2L246.1 207.3L246.6 207.4L247.2 207.5L247.8 207.6L248.3 207.7L248.9 207.8L249.4 207.9L250 208L250.5 208.1L251.1 208.2L251.7 208.3L252.2 208.3L252.8 208.4L253.3 208.5L253.9 208.6L254.5 208.7L255 208.8L255.6 208.9L256.1 208.9L256.7 209L257.2 209.1L257.8 209.2L258.4 209.3L258.9 209.3L259.5 209.4L260 209.5L260.6 209.6L261.2 209.7L261.7 209.7L262.3 209.8L262.8 209.9L263.4 210L263.9 210L264.5 210.1L265.1 210.2L265.6 210.3L266.2 210.4L266.7 210.4L267.3 210.5L267.9 210.6L268.4 210.7L269 210.7L269.5 210.8L270.1 210.9L270.6 211L271.2 211L271.8 211.1L272.3 211.2L272.9 211.3L273.4 211.3L274 211.4L274.6 211.5L275.1 211.6L275.7 211.6L276.2 211.7L276.8 211.8L277.4 211.9L277.9 211.9L278.5 212L279 212.1L279.6 212.2L280.1 212.2L280.7 212.3L281.3 212.4L281.8 212.5L282.4 212.5L282.9 212.6L283.5 212.7L284.1 212.8L284.6 212.8L285.2 212.9L285.7 213L286.3 213.1L286.8 213.1L287.4 213.2L288 213.3L288.5 213.3L289.1 213.4L289.6 213.5L290.2 213.6L290.8 213.6L291.3 213.7L291.9 213.8L292.4 213.9L293 213.9L293.5 214L294.1 214.1L294.7 214.2L295.2 214.2L295.8 214.3L296.3 214.4L296.9 214.4L297.5 214.5L298 214.6L298.6 214.7L299.1 214.7L299.7 214.8L300.2 214.9L300.8 215" stroke="#8d6cb0" stroke-width="3.5"/>
<path d="M131 84.6h0M142.8 99h0M143.3 102.2h0" stroke="#8d6cb0" stroke-width="3.7"/>
<path d="M29.9 38h0M42.8 33.5h0M43.3 35h0M43.9 37.1h0M44.5 39.6h0M45 42.2h0M45.6 44.6h0M46.1 46.7h0M46.7 48.6h0M47.2 50.3h0M47.8 52h0M48.4 53.7h0M48.9 55.3h0M49.5 56.8h0M50 58.4h0M50.6 59.9h0M51.2 61.4h0M51.7 62.9h0M52.3 64.4h0M52.8 65.9h0M53.4 67.3h0M54 68.6h0M54.5 69.9h0M55.1 71h0M55.6 72.1h0M56.2 73.3h0M56.7 74.6h0M57.3 75.9h0M57.9 77.3h0M58.4 78.6h0M59 79.9h0M127.7 73.9h0M128.2 75.2h0M128.8 76.7h0M129.3 78.2h0M129.9 79.7h0M130.5 81.6h0M131 84.6h0M131.6 88.1h0M132.1 90.5h0M141.1 90.7h0M141.6 93h0M142.2 95.8h0M142.8 99h0M143.3 102.2h0M143.9 105.1h0M144.4 107.7h0M145 110h0M145.5 111.9h0M146.1 113.8h0M146.7 115.7h0M147.2 117.5h0M147.8 119.2h0M148.3 121h0M148.9 122.7h0M149.5 124.4h0M150 126.1h0M150.6 127.8h0M151.1 129.4h0M151.7 131.1h0M152.2 132.8h0M152.8 134.4h0M153.4 136.1h0M153.9 137.7h0M154.5 139.4h0M155 141h0M155.6 142.6h0M156.2 144.2h0M156.7 145.8h0M157.3 147.3h0M157.8 148.9h0M158.4 150.5h0M158.9 152h0M159.5 153.6h0M160.1 155.2h0M160.6 156.8h0M161.2 158.5h0M161.7 160.2h0M162.3 161.8h0M162.9 163.2h0M163.4 164.6h0M164 165.9h0M164.5 167.2h0M165.1 168.5h0M165.7 169.8h0M166.2 171h0" stroke="#fff" stroke-opacity="0.6" stroke-width="1"/>
<path d="M21 45L21.6 44.2L22.1 43.4L22.7 42.5L23.2 41.7L23.8 40.9L24.4 40.2L24.9 39.4L25.5 38.7L26 38L26.6 37.3L27.1 36.6L27.7 35.9L28.3 35.1L28.8 34.5L29.4 33.8L29.9 33.1L30.5 32.5L31.1 31.8L31.6 31.2L32.2 30.7L32.7 30.2L33.3 29.8L33.8 29.5L34.4 29.3L35 29.3L35.5 29.3L36.1 29.5L36.6 29.8L37.2 30.1L37.8 30.4L38.3 30.6L38.9 30.8L39.4 31L40 31.2L40.5 31.7L41.1 32.6L41.7 34L42.2 36.4M43.9 46.2L44.5 48.6L45 50.9L45.6 53.1L46.1 55.2L46.7 57.2L47.2 59.2L47.8 61.1L48.4 62.9L48.9 64.7L49.5 66.3L50 67.8L50.6 69.2L51.2 70.6L51.7 71.9L52.3 73.1L52.8 74.3L53.4 75.6L54 76.8L54.5 78.1L55.1 79.4L55.6 80.9L56.2 82.4L56.7 84L57.3 85.7L57.9 87.3L58.4 89L59 90.6L59.5 92.1L60.1 93.6L60.7 95.2L61.2 96.8L61.8 98.3L62.3 99.6L62.9 100.7L63.4 101.4L64 102L64.6 102.2L65.1 102.3L65.7 102.3L66.2 102.2L66.8 102L67.4 101.8L67.9 101.6L68.5 101.4L69 101.2L69.6 101.1L70.1 101L70.7 100.9L71.3 100.8L71.8 100.7L72.4 100.6L72.9 100.6L73.5 100.5L74.1 100.4L74.6 100.4L75.2 100.3L75.7 100.4L76.3 100.4L76.8 100.5L77.4 100.7L78 101L78.5 101.3L79.1 101.6L79.6 102L80.2 102.2L80.8 102.5L81.3 102.6L81.9 102.7L82.4 102.6L83 102.4L83.6 102.1L84.1 101.6L84.7 101.1L85.2 100.5L85.8 99.8L86.3 99.1L86.9 98.4L87.5 97.6L88 96.9L88.6 96.1L89.1 95.4L89.7 94.7L90.3 94L90.8 93.4L91.4 92.7L91.9 92.1L92.5 91.5L93 90.8L93.6 90.2L94.2 89.5L94.7 88.9L95.3 88.3L95.8 87.8L96.4 87.2L97 86.7L97.5 86.3L98.1 86L98.6 85.7L99.2 85.6L99.7 85.6L100.3 85.7L100.9 85.9L101.4 86.2L102 86.4L102.5 86.6L103.1 86.7L103.7 86.8L104.2 86.9L104.8 87L105.3 87L105.9 87.1L106.5 87.2L107 87.3L107.6 87.4L108.1 87.5L108.7 87.6L109.2 87.8L109.8 87.9L110.4 88.1L110.9 88.3L111.5 88.5L112 88.7L112.6 88.9L113.2 89.1L113.7 89.3L114.3 89.5L114.8 89.8L115.4 90L115.9 90.2L116.5 90.4L117.1 90.7L117.6 90.9L118.2 91.2L118.7 91.4L119.3 91.7L119.9 91.9L120.4 92.2L121 92.4L121.5 92.7L122.1 93L122.6 93.2L123.2 93.5L123.8 93.7L124.3 94L124.9 94.2L125.4 94.5L126 94.8L126.6 95L127.1 95.3L127.7 95.6L128.2 95.9L128.8 96.1L129.3 96.4L129.9 96.7L130.5 97L131 97.3L131.6 97.6L132.1 97.9L132.7 98.2L133.3 98.5L133.8 98.9L134.4 99.2L134.9 99.6L135.5 100L136.1 100.3L136.6 100.7L137.2 101.2L137.7 101.7L138.3 102.4L138.8 103.2L139.4 104L140 104.9L140.5 105.9L141.1 107L141.6 108.2L142.2 109.4L142.8 110.6L143.3 111.9L143.9 113.2L144.4 114.5L145 115.8L145.5 117.1L146.1 118.3L146.7 119.5L147.2 120.6L147.8 121.6L148.3 122.5L148.9 123.3L149.5 124L150 124.7L150.6 125.2L151.1 125.8L151.7 126.2L152.2 126.7L152.8 127.2L153.4 127.8L153.9 128.4L154.5 129.2L155 130.1L155.6 131.1L156.2 132.2L156.7 133.4L157.3 134.8L157.8 136.1L158.4 137.6L158.9 139L159.5 140.4L160.1 141.8L160.6 143.1L161.2 144.4L161.7 145.7L162.3 147.1L162.9 148.4L163.4 149.8L164 151.1L164.5 152.4L165.1 153.7L165.7 154.8L166.2 156L166.8 157L167.3 157.9L167.9 158.8L168.4 159.7L169 160.4L169.6 161.2L170.1 161.9L170.7 162.6L171.2 163.3L171.8 163.9L172.4 164.5L172.9 165.1L173.5 165.7L174 166.3L174.6 166.9L175.1 167.4L175.7 168L176.3 168.5L176.8 169L177.4 169.6L177.9 170.1L178.5 170.6L179.1 171L179.6 171.5L180.2 172L180.7 172.4L181.3 172.9L181.8 173.3L182.4 173.7L183 174.1L183.5 174.5L184.1 174.9L184.6 175.3L185.2 175.7L185.8 176L186.3 176.4L186.9 176.7L187.4 177.1L188 177.4L188.6 177.7L189.1 178L189.7 178.3L190.2 178.6L190.8 178.9L191.3 179.2L191.9 179.4L192.5 179.6L193 179.8L193.6 179.9L194.1 180L194.7 180.1L195.3 180.2L195.8 180.3L196.4 180.3L196.9 180.4L197.5 180.5L198 180.5L198.6 180.6L199.2 180.8L199.7 180.9L200.3 181.1L200.8 181.3L201.4 181.5L202 181.7L202.5 181.9L203.1 182.1L203.6 182.4L204.2 182.6L204.7 182.8L205.3 183.1L205.9 183.3L206.4 183.5L207 183.8L207.5 184L208.1 184.2L208.7 184.5L209.2 184.7L209.8 184.9L210.3 185.1L210.9 185.3L211.4 185.5L212 185.7L212.6 185.9L213.1 186.1L213.7 186.2L214.2 186.4L214.8 186.6L215.4 186.8L215.9 186.9L216.5 187.1L217 187.3L217.6 187.5L218.2 187.6L218.7 187.8L219.3 188L219.8 188.2L220.4 188.4L220.9 188.6L221.5 188.8L222.1 189L222.6 189.2L223.2 189.5L223.7 189.7L224.3 190L224.9 190.3L225.4 190.6L226 191L226.5 191.5L227.1 192.2L227.6 193.5M228.8 203.7L229.3 204.5L229.9 204.9L230.4 205.2L231 205.5L231.6 205.7L232.1 205.8L232.7 206L233.2 206.1L233.8 206.2L234.3 206.3L234.9 206.4L235.5 206.4L236 206.5L236.6 206.5L237.1 206.6L237.7 206.6L238.3 206.7L238.8 206.7L239.4 206.8L239.9 206.8L240.5 206.8L241 206.9L241.6 206.9L242.2 206.9L242.7 207L243.3 207L243.8 207L244.4 207.1L245 207.1L245.5 207.1L246.1 207.2L246.6 207.2L247.2 207.3L247.8 207.3L248.3 207.3L248.9 207.4L249.4 207.4L250 207.5L250.5 207.6L251.1 207.6L251.7 207.7L252.2 207.7L252.8 207.8L253.3 207.8L253.9 207.9L254.5 207.9L255 208L255.6 208L256.1 208.1L256.7 208.1L257.2 208.2L257.8 208.3L258.4 208.3L258.9 208.4L259.5 208.4L260 208.5L260.6 208.5L261.2 208.6L261.7 208.6L262.3 208.7L262.8 208.7L263.4 208.8L263.9 208.8L264.5 208.9L265.1 208.9L265.6 209L266.2 209.1L266.7 209.1L267.3 209.2L267.9 209.2L268.4 209.3L269 209.3L269.5 209.4L270.1 209.5L270.6 209.5L271.2 209.6L271.8 209.6L272.3 209.7L272.9 209.8L273.4 209.8L274 209.9L274.6 209.9L275.1 210L275.7 210.1L276.2 210.1L276.8 210.2L277.4 210.3L277.9 210.4L278.5 210.4L279 210.5L279.6 210.6L280.1 210.6L280.7 210.7L281.3 210.8L281.8 210.9L282.4 210.9L282.9 211L283.5 211.1L284.1 211.2L284.6 211.2L285.2 211.3L285.7 211.4L286.3 211.5L286.8 211.5L287.4 211.6L288 211.7L288.5 211.8L289.1 211.8L289.6 211.9L290.2 212L290.8 212.1L291.3 212.1L291.9 212.2L292.4 212.3L293 212.4L293.5 212.5L294.1 212.5L294.7 212.6L295.2 212.7L295.8 212.8L296.3 212.9L296.9 212.9L297.5 213L298 213.1L298.6 213.2L299.1 213.2L299.7 213.3L300.2 213.4L300.8 213.5" stroke="#c99a2c" stroke-width="3.5"/>
<path d="M42.8 39.7h0M43.3 43.2h0M228.2 199.8h0" stroke="#c99a2c" stroke-width="3.7"/>
<path d="M41.7 34h0M42.2 36.4h0M42.8 39.7h0M43.3 43.2h0M43.9 46.2h0M44.5 48.6h0M45 50.9h0M45.6 53.1h0M46.1 55.2h0M46.7 57.2h0M47.2 59.2h0M47.8 61.1h0M48.4 62.9h0M48.9 64.7h0M49.5 66.3h0M50 67.8h0M50.6 69.2h0M51.2 70.6h0M51.7 71.9h0M52.3 73.1h0M52.8 74.3h0M53.4 75.6h0M54 76.8h0M54.5 78.1h0M55.1 79.4h0M55.6 80.9h0M56.2 82.4h0M56.7 84h0M57.3 85.7h0M57.9 87.3h0M58.4 89h0M59 90.6h0M59.5 92.1h0M60.1 93.6h0M60.7 95.2h0M61.2 96.8h0M61.8 98.3h0M141.6 108.2h0M142.2 109.4h0M142.8 110.6h0M143.3 111.9h0M143.9 113.2h0M144.4 114.5h0M145 115.8h0M145.5 117.1h0M146.1 118.3h0M156.2 132.2h0M156.7 133.4h0M157.3 134.8h0M157.8 136.1h0M158.4 137.6h0M158.9 139h0M159.5 140.4h0M160.1 141.8h0M160.6 143.1h0M161.2 144.4h0M161.7 145.7h0M162.3 147.1h0M162.9 148.4h0M163.4 149.8h0M164 151.1h0M164.5 152.4h0M165.1 153.7h0M227.6 193.5h0M228.2 199.8h0" stroke="#fff" stroke-opacity="0.6" stroke-width="1"/>
<path d="M21 33.6L21.6 33.6L22.1 33.7L22.7 33.8L23.2 33.8L23.8 33.8L24.4 33.8L24.9 33.8L25.5 33.6L26 33.3L26.6 32.8L27.1 32L27.7 31.1L28.3 30.6L28.8 30.1L29.4 29.8L29.9 29.7L30.5 29.8L31.1 29.9L31.6 30.1L32.2 30.3L32.7 30.6L33.3 30.8L33.8 31.1L34.4 31.4L35 31.7L35.5 32L36.1 32.3L36.6 32.7L37.2 33L37.8 33.4L38.3 33.8L38.9 34.3L39.4 34.9L40 35.6L40.5 36.3L41.1 37L41.7 37.8L42.2 38.8L42.8 40L43.3 41.5L43.9 43.5L44.5 45.9L45 48.5L45.6 51.4L46.1 54.3L46.7 57.2L47.2 59.9L47.8 62.8L48.4 65.6L48.9 68.2L49.5 70.3L50 72.1L50.6 73.6L51.2 75L51.7 76.4L52.3 77.9L52.8 79.5L53.4 81.2L54 83L54.5 84.8L55.1 86.7L55.6 88.5L56.2 90.3L56.7 92.1L57.3 93.9L57.9 95.6L58.4 97.2L59 98.8L59.5 100.3L60.1 101.8L60.7 103.1L61.2 104.4L61.8 105.6L62.3 106.6L62.9 107.5L63.4 108.3L64 109L64.6 109.6L65.1 110.1L65.7 110.7L66.2 111.2L66.8 111.8L67.4 112.4L67.9 112.9L68.5 113.3L69 113.6L69.6 113.8L70.1 114L70.7 114.1L71.3 114.2L71.8 114.3L72.4 114.4L72.9 114.5L73.5 114.6L74.1 114.6L74.6 114.7L75.2 114.7L75.7 114.7L76.3 114.8L76.8 114.8L77.4 114.8L78 114.8L78.5 114.8L79.1 114.8L79.6 114.8L80.2 114.7L80.8 114.6L81.3 114.5L81.9 114.4L82.4 114.1L83 113.9L83.6 113.5L84.1 113.2L84.7 112.9L85.2 112.6L85.8 112.4L86.3 112.2L86.9 112.1L87.5 111.9L88 111.8L88.6 111.7L89.1 111.6L89.7 111.5L90.3 111.4L90.8 111.4L91.4 111.3L91.9 111.2L92.5 111.1L93 111.1L93.6 111L94.2 110.9L94.7 110.9L95.3 110.8L95.8 110.8L96.4 110.7L97 110.7L97.5 110.7L98.1 110.6L98.6 110.6L99.2 110.6L99.7 110.6L100.3 110.6L100.9 110.6L101.4 110.7L102 110.7L102.5 110.8L103.1 110.9L103.7 110.9L104.2 111L104.8 111.1L105.3 111.2L105.9 111.3L106.5 111.4L107 111.5L107.6 111.6L108.1 111.7L108.7 111.8L109.2 111.9L109.8 112L110.4 112L110.9 112.1L111.5 112.1L112 112.2L112.6 112.2L113.2 112.3L113.7 112.3L114.3 112.3L114.8 112.4L115.4 112.4L115.9 112.5L116.5 112.5L117.1 112.6L117.6 112.6L118.2 112.7L118.7 112.8L119.3 112.9L119.9 113L120.4 113.1L121 113.2L121.5 113.3L122.1 113.4L122.6 113.5L123.2 113.5L123.8 113.6L124.3 113.8L124.9 113.9L125.4 114L126 114.2L126.6 114.3L127.1 114.5L127.7 114.8L128.2 115L128.8 115.3L129.3 115.6L129.9 115.9L130.5 116.3L131 116.7L131.6 117.2L132.1 117.6L132.7 118.1L133.3 118.6L133.8 119.1L134.4 119.6L134.9 120.2L135.5 120.7L136.1 121.2L136.6 121.8L137.2 122.4L137.7 122.9L138.3 123.5L138.8 124L139.4 124.6L140 125.1L140.5 125.7L141.1 126.2L141.6 126.7L142.2 127.2L142.8 127.6L143.3 127.9L143.9 128.2L144.4 128.4L145 128.5L145.5 128.7L146.1 129L146.7 129.4L147.2 130L147.8 130.7L148.3 131.5L148.9 132.5L149.5 133.6L150 134.7L150.6 135.9L151.1 137.1L151.7 138.4L152.2 139.7L152.8 141L153.4 142.2L153.9 143.5L154.5 144.8L155 146L155.6 147.2L156.2 148.3L156.7 149.5L157.3 150.6L157.8 151.8L158.4 153L158.9 154.2L159.5 155.3L160.1 156.4L160.6 157.5L161.2 158.5L161.7 159.4L162.3 160.2L162.9 161L163.4 161.8L164 162.5L164.5 163.1L165.1 163.7L165.7 164.3L166.2 164.8L166.8 165.4L167.3 165.9L167.9 166.4L168.4 166.9L169 167.3L169.6 167.8L170.1 168.3L170.7 168.7L171.2 169.1L171.8 169.6L172.4 170L172.9 170.4L173.5 170.9L174 171.3L174.6 171.7L175.1 172.1L175.7 172.6L176.3 173L176.8 173.4L177.4 173.8L177.9 174.3L178.5 174.7L179.1 175.1L179.6 175.6L180.2 176L180.7 176.4L181.3 176.9L181.8 177.3L182.4 177.7L183 178.1L183.5 178.5L184.1 178.9L184.6 179.3L185.2 179.7L185.8 180L186.3 180.4L186.9 180.7L187.4 181.1L188 181.4L188.6 181.7L189.1 182L189.7 182.3L190.2 182.6L190.8 182.9L191.3 183.2L191.9 183.4L192.5 183.7L193 183.9L193.6 184.1L194.1 184.3L194.7 184.5L195.3 184.7L195.8 184.9L196.4 185.1L196.9 185.3L197.5 185.4L198 185.6L198.6 185.8L199.2 185.9L199.7 186.1L200.3 186.2L200.8 186.4L201.4 186.5L202 186.7L202.5 186.8L203.1 187L203.6 187.1L204.2 187.3L204.7 187.4L205.3 187.6L205.9 187.7L206.4 187.9L207 188.1L207.5 188.2L208.1 188.4L208.7 188.6L209.2 188.7L209.8 188.9L210.3 189.1L210.9 189.3L211.4 189.5L212 189.7L212.6 190L213.1 190.2L213.7 190.4L214.2 190.7L214.8 190.9L215.4 191.2L215.9 191.4L216.5 191.7L217 191.9L217.6 192.2L218.2 192.4L218.7 192.7L219.3 192.9L219.8 193.2L220.4 193.4L220.9 193.6L221.5 193.9L222.1 194.1L222.6 194.3L223.2 194.5L223.7 194.6L224.3 194.8L224.9 194.9L225.4 195L226 195L226.5 195L227.1 194.8L227.6 194.5L228.2 193.9L228.8 192.6M229.3 189.5L229.9 186.7L230.4 185L231 185.2L231.6 185.4L232.1 185.6L232.7 185.9L233.2 186.1L233.8 186.3L234.3 186.6L234.9 186.9L235.5 187.1L236 187.4L236.6 187.7L237.1 187.9L237.7 188.2L238.3 188.5L238.8 188.8L239.4 189.1L239.9 189.4L240.5 189.6L241 189.9L241.6 190.2L242.2 190.5L242.7 190.8L243.3 191.1L243.8 191.4L244.4 191.6L245 191.9L245.5 192.2L246.1 192.5L246.6 192.8L247.2 193.1L247.8 193.4L248.3 193.7L248.9 193.9L249.4 194.2L250 194.5L250.5 194.8L251.1 195.1L251.7 195.3L252.2 195.6L252.8 195.9L253.3 196.2L253.9 196.4L254.5 196.7L255 197L255.6 197.3L256.1 197.6L256.7 197.8L257.2 198.1L257.8 198.4L258.4 198.7L258.9 199L259.5 199.3L260 199.6L260.6 199.9L261.2 200.1L261.7 200.4L262.3 200.7L262.8 201L263.4 201.3L263.9 201.6L264.5 201.9L265.1 202.1L265.6 202.4L266.2 202.7L266.7 203L267.3 203.2L267.9 203.5L268.4 203.7L269 204L269.5 204.3L270.1 204.5L270.6 204.7L271.2 205L271.8 205.2L272.3 205.4L272.9 205.7L273.4 205.9L274 206.1L274.6 206.3L275.1 206.5L275.7 206.7L276.2 206.9L276.8 207.1L277.4 207.2L277.9 207.4L278.5 207.6L279 207.7L279.6 207.9L280.1 208L280.7 208.2L281.3 208.3L281.8 208.5L282.4 208.6L282.9 208.7L283.5 208.9L284.1 209L284.6 209.1L285.2 209.3L285.7 209.4L286.3 209.5L286.8 209.6L287.4 209.8L288 209.9L288.5 210L289.1 210.1L289.6 210.2L290.2 210.3L290.8 210.5L291.3 210.6L291.9 210.7L292.4 210.8L293 210.9L293.5 211L294.1 211.1L294.7 211.2L295.2 211.3L295.8 211.4L296.3 211.6L296.9 211.7L297.5 211.8L298 211.9L298.6 212L299.1 212.1L299.7 212.2L300.2 212.3L300.8 212.5" stroke="#18adb2" stroke-width="3.5"/>
<path d="M42.8 40h0M43.3 41.5h0M43.9 43.5h0M44.5 45.9h0M45 48.5h0M45.6 51.4h0M46.1 54.3h0M46.7 57.2h0M47.2 59.9h0M47.8 62.8h0M48.4 65.6h0M48.9 68.2h0M49.5 70.3h0M50 72.1h0M50.6 73.6h0M51.2 75h0M51.7 76.4h0M52.3 77.9h0M52.8 79.5h0M53.4 81.2h0M54 83h0M54.5 84.8h0M55.1 86.7h0M55.6 88.5h0M56.2 90.3h0M56.7 92.1h0M57.3 93.9h0M57.9 95.6h0M58.4 97.2h0M59 98.8h0M59.5 100.3h0M60.1 101.8h0M60.7 103.1h0M61.2 104.4h0M150 134.7h0M150.6 135.9h0M151.1 137.1h0M151.7 138.4h0M152.2 139.7h0M152.8 141h0M153.4 142.2h0M153.9 143.5h0M154.5 144.8h0M155 146h0M155.6 147.2h0M156.2 148.3h0M156.7 149.5h0M157.3 150.6h0M157.8 151.8h0M158.4 153h0M158.9 154.2h0M228.8 192.6h0M229.3 189.5h0M229.9 186.7h0" stroke="#fff" stroke-opacity="0.6" stroke-width="1"/>
<path d="M21 46L21.6 45.1L22.1 44.2L22.7 43.3L23.2 42.4L23.8 41.6L24.4 40.7L24.9 39.8L25.5 38.9L26 38L26.6 37L27.1 35.8L27.7 34.7L28.3 33.5L28.8 32.4L29.4 31.5L29.9 30.9L30.5 30.5L31.1 30.4L31.6 30.7L32.2 31.1L32.7 31.8L33.3 32.6L33.8 33.4L34.4 34.2L35 34.9L35.5 35.6L36.1 36.3L36.6 36.9L37.2 37.5L37.8 38.1L38.3 38.7L38.9 39.4L39.4 40.2L40 41.1L40.5 42.1L41.1 43.4L41.7 45L42.2 47.5M45 74.1L45.6 76.5L46.1 78.7L46.7 80.9L47.2 83.6M51.7 116L52.3 118.8L52.8 121.3L53.4 123.7L54 126L54.5 128.3L55.1 130.6L55.6 132.8L56.2 134.9L56.7 137L57.3 139L57.9 140.8L58.4 142.6L59 144.3L59.5 145.8L60.1 147.2L60.7 148.5L61.2 149.7L61.8 150.9L62.3 151.9L62.9 152.8L63.4 153.7L64 154.4L64.6 155.1L65.1 155.6L65.7 156.1L66.2 156.5L66.8 156.9L67.4 157.2L67.9 157.5L68.5 157.7L69 157.9L69.6 158.1L70.1 158.2L70.7 158.3L71.3 158.4L71.8 158.4L72.4 158.5L72.9 158.5L73.5 158.5L74.1 158.5L74.6 158.5L75.2 158.4L75.7 158.4L76.3 158.3L76.8 158.2L77.4 158.1L78 158L78.5 157.9L79.1 157.8L79.6 157.7L80.2 157.5L80.8 157.4L81.3 157.2L81.9 157L82.4 156.8L83 156.6L83.6 156.3L84.1 156L84.7 155.7L85.2 155.4L85.8 155L86.3 154.6L86.9 154.2L87.5 153.8L88 153.4L88.6 153L89.1 152.5L89.7 152.1L90.3 151.7L90.8 151.3L91.4 150.9L91.9 150.5L92.5 150.1L93 149.7L93.6 149.4L94.2 149.1L94.7 148.8L95.3 148.6L95.8 148.3L96.4 148.2L97 148L97.5 147.9L98.1 147.8L98.6 147.7L99.2 147.7L99.7 147.7L100.3 147.6L100.9 147.7L101.4 147.7L102 147.7L102.5 147.8L103.1 147.9L103.7 148L104.2 148L104.8 148.2L105.3 148.3L105.9 148.4L106.5 148.5L107 148.6L107.6 148.8L108.1 148.9L108.7 149L109.2 149.2L109.8 149.3L110.4 149.4L110.9 149.6L111.5 149.7L112 149.8L112.6 149.9L113.2 150L113.7 150.1L114.3 150.2L114.8 150.4L115.4 150.5L115.9 150.6L116.5 150.7L117.1 150.8L117.6 150.9L118.2 151.1L118.7 151.2L119.3 151.3L119.9 151.4L120.4 151.6L121 151.7L121.5 151.8L122.1 151.9L122.6 152.1L123.2 152.2L123.8 152.3L124.3 152.5L124.9 152.6L125.4 152.7L126 152.9L126.6 153L127.1 153.1L127.7 153.3L128.2 153.4L128.8 153.6L129.3 153.7L129.9 153.9L130.5 154L131 154.2L131.6 154.3L132.1 154.5L132.7 154.6L133.3 154.8L133.8 154.9L134.4 155.1L134.9 155.3L135.5 155.5L136.1 155.6L136.6 155.8L137.2 156L137.7 156.2L138.3 156.4L138.8 156.6L139.4 156.9L140 157.3L140.5 157.6L141.1 158.1L141.6 158.5L142.2 158.9L142.8 159.3L143.3 159.8L143.9 160.3L144.4 160.8L145 161.3L145.5 161.8L146.1 162.4L146.7 162.9L147.2 163.5L147.8 164.1L148.3 164.6L148.9 165.2L149.5 165.8L150 166.4L150.6 167L151.1 167.6L151.7 168.2L152.2 168.8L152.8 169.4L153.4 170L153.9 170.6L154.5 171.3L155 171.9L155.6 172.6L156.2 173.3L156.7 174L157.3 174.7L157.8 175.4L158.4 176.1L158.9 176.8L159.5 177.4L160.1 178.1L160.6 178.7L161.2 179.3L161.7 179.9L162.3 180.5L162.9 181.1L163.4 181.6L164 182.2L164.5 182.7L165.1 183.3L165.7 183.8L166.2 184.3L166.8 184.8L167.3 185.3L167.9 185.8L168.4 186.3L169 186.8L169.6 187.2L170.1 187.6L170.7 188.1L171.2 188.5L171.8 188.8L172.4 189.2L172.9 189.6L173.5 189.9L174 190.2L174.6 190.6L175.1 190.9L175.7 191.2L176.3 191.4L176.8 191.7L177.4 192L177.9 192.3L178.5 192.5L179.1 192.8L179.6 193L180.2 193.3L180.7 193.5L181.3 193.7L181.8 193.9L182.4 194.2L183 194.4L183.5 194.6L184.1 194.8L184.6 195L185.2 195.1L185.8 195.3L186.3 195.5L186.9 195.7L187.4 195.8L188 196L188.6 196.1L189.1 196.2L189.7 196.3L190.2 196.4L190.8 196.5L191.3 196.6L191.9 196.6L192.5 196.7L193 196.7L193.6 196.8L194.1 196.9L194.7 196.9L195.3 197L195.8 197.1L196.4 197.2L196.9 197.3L197.5 197.4L198 197.5L198.6 197.6L199.2 197.7L199.7 197.8L200.3 198L200.8 198.1L201.4 198.2L202 198.4L202.5 198.5L203.1 198.7L203.6 198.8L204.2 198.9L204.7 199.1L205.3 199.2L205.9 199.4L206.4 199.5L207 199.7L207.5 199.8L208.1 200L208.7 200.1L209.2 200.3L209.8 200.4L210.3 200.6L210.9 200.7L211.4 200.9L212 201L212.6 201.2L213.1 201.3L213.7 201.5L214.2 201.6L214.8 201.8L215.4 201.9L215.9 202.1L216.5 202.2L217 202.4L217.6 202.5L218.2 202.7L218.7 202.8L219.3 203L219.8 203.1L220.4 203.3L220.9 203.4L221.5 203.6L222.1 203.7L222.6 203.9L223.2 204L223.7 204.2L224.3 204.3L224.9 204.5L225.4 204.6L226 204.7L226.5 204.9L227.1 205L227.6 205.2L228.2 205.3L228.8 205.4L229.3 205.6L229.9 205.7L230.4 205.9L231 206L231.6 206.1L232.1 206.3L232.7 206.4L233.2 206.5L233.8 206.7L234.3 206.8L234.9 206.9L235.5 207.1L236 207.2L236.6 207.3L237.1 207.5L237.7 207.6L238.3 207.7L238.8 207.8L239.4 207.9L239.9 208L240.5 208.2L241 208.3L241.6 208.4L242.2 208.5L242.7 208.6L243.3 208.7L243.8 208.8L244.4 208.9L245 209L245.5 209.1L246.1 209.2L246.6 209.3L247.2 209.4L247.8 209.5L248.3 209.6L248.9 209.6L249.4 209.7L250 209.8L250.5 209.9L251.1 210L251.7 210.1L252.2 210.1L252.8 210.2L253.3 210.3L253.9 210.4L254.5 210.5L255 210.5L255.6 210.6L256.1 210.7L256.7 210.8L257.2 210.9L257.8 210.9L258.4 211L258.9 211.1L259.5 211.2L260 211.2L260.6 211.3L261.2 211.4L261.7 211.4L262.3 211.5L262.8 211.6L263.4 211.7L263.9 211.7L264.5 211.8L265.1 211.9L265.6 211.9L266.2 212L266.7 212.1L267.3 212.2L267.9 212.2L268.4 212.3L269 212.4L269.5 212.4L270.1 212.5L270.6 212.6L271.2 212.6L271.8 212.7L272.3 212.8L272.9 212.9L273.4 212.9L274 213L274.6 213.1L275.1 213.1L275.7 213.2L276.2 213.2L276.8 213.3L277.4 213.4L277.9 213.4L278.5 213.5L279 213.6L279.6 213.6L280.1 213.7L280.7 213.8L281.3 213.8L281.8 213.9L282.4 213.9L282.9 214L283.5 214.1L284.1 214.1L284.6 214.2L285.2 214.3L285.7 214.3L286.3 214.4L286.8 214.4L287.4 214.5L288 214.6L288.5 214.6L289.1 214.7L289.6 214.8L290.2 214.8L290.8 214.9L291.3 214.9L291.9 215L292.4 215.1L293 215.1L293.5 215.2L294.1 215.2L294.7 215.3L295.2 215.4L295.8 215.4L296.3 215.5L296.9 215.5L297.5 215.6L298 215.7L298.6 215.7L299.1 215.8L299.7 215.9L300.2 215.9L300.8 216" stroke="#7b4a50" stroke-width="3.5"/>
<path d="M42.8 51.5h0M43.3 58.4h0M43.9 66.4h0M44.5 71h0M47.8 87h0M48.4 91.4h0M48.9 96.3h0M49.5 101.1h0M50 105.3h0M50.6 109.1h0M51.2 112.8h0" stroke="#7b4a50" stroke-width="3.7"/>
<path d="M27.7 34.7h0M41.1 43.4h0M41.7 45h0M42.2 47.5h0M42.8 51.5h0M43.3 58.4h0M43.9 66.4h0M44.5 71h0M45 74.1h0M45.6 76.5h0M46.1 78.7h0M46.7 80.9h0M47.2 83.6h0M47.8 87h0M48.4 91.4h0M48.9 96.3h0M49.5 101.1h0M50 105.3h0M50.6 109.1h0M51.2 112.8h0M51.7 116h0M52.3 118.8h0M52.8 121.3h0M53.4 123.7h0M54 126h0M54.5 128.3h0M55.1 130.6h0M55.6 132.8h0M56.2 134.9h0M56.7 137h0M57.3 139h0M57.9 140.8h0M58.4 142.6h0M59 144.3h0M59.5 145.8h0M60.1 147.2h0M60.7 148.5h0M61.2 149.7h0" stroke="#fff" stroke-opacity="0.6" stroke-width="1"/>
<path d="M21 45.5L21.6 44.7L22.1 44L22.7 43.2L23.2 42.5L23.8 41.7L24.4 40.9L24.9 40.2L25.5 39.4L26 38.5L26.6 37.7L27.1 36.6L27.7 35.5L28.3 34.2L28.8 32.9L29.4 31.7L29.9 30.8L30.5 30.3L31.1 30.2L31.6 30.4L32.2 30.8L32.7 31.5L33.3 32.3L33.8 33.2L34.4 34.2L35 35.2L35.5 36.3L36.1 37.5L36.6 38.8L37.2 40.2L37.8 41.8L38.3 43.5L38.9 45.3L39.4 47.3L40 49.6L40.5 52.1M49.5 144.2L50 146.9L50.6 149.2L51.2 151.1L51.7 152.7L52.3 154.3L52.8 156L53.4 157.8L54 159.5L54.5 161.2L55.1 162.8L55.6 164.3L56.2 165.6L56.7 166.8L57.3 167.9L57.9 168.9L58.4 169.9L59 170.9L59.5 171.8L60.1 172.7L60.7 173.5L61.2 174.3L61.8 175L62.3 175.7L62.9 176.3L63.4 176.8L64 177.3L64.6 177.7L65.1 178.1L65.7 178.4L66.2 178.6L66.8 178.9L67.4 179.1L67.9 179.2L68.5 179.4L69 179.5L69.6 179.7L70.1 179.8L70.7 179.9L71.3 180.1L71.8 180.2L72.4 180.3L72.9 180.5L73.5 180.6L74.1 180.7L74.6 180.9L75.2 181L75.7 181L76.3 181.1L76.8 181.2L77.4 181.2L78 181.2L78.5 181.2L79.1 181.2L79.6 181.2L80.2 181.1L80.8 181L81.3 180.9L81.9 180.8L82.4 180.7L83 180.5L83.6 180.3L84.1 180.2L84.7 180L85.2 179.7L85.8 179.5L86.3 179.3L86.9 179.1L87.5 178.8L88 178.6L88.6 178.4L89.1 178.2L89.7 177.9L90.3 177.7L90.8 177.5L91.4 177.3L91.9 177.1L92.5 176.9L93 176.7L93.6 176.6L94.2 176.4L94.7 176.3L95.3 176.1L95.8 176L96.4 175.9L97 175.8L97.5 175.7L98.1 175.6L98.6 175.6L99.2 175.5L99.7 175.4L100.3 175.3L100.9 175.3L101.4 175.2L102 175.1L102.5 175.1L103.1 175L103.7 175L104.2 175L104.8 174.9L105.3 174.9L105.9 174.9L106.5 174.8L107 174.8L107.6 174.8L108.1 174.8L108.7 174.8L109.2 174.8L109.8 174.8L110.4 174.8L110.9 174.8L111.5 174.9L112 174.9L112.6 174.9L113.2 174.9L113.7 175L114.3 175L114.8 175.1L115.4 175.1L115.9 175.2L116.5 175.2L117.1 175.3L117.6 175.3L118.2 175.4L118.7 175.5L119.3 175.6L119.9 175.6L120.4 175.7L121 175.8L121.5 175.9L122.1 176L122.6 176L123.2 176.1L123.8 176.2L124.3 176.3L124.9 176.4L125.4 176.5L126 176.6L126.6 176.7L127.1 176.8L127.7 176.9L128.2 177L128.8 177.1L129.3 177.2L129.9 177.3L130.5 177.5L131 177.6L131.6 177.7L132.1 177.8L132.7 177.9L133.3 178.1L133.8 178.2L134.4 178.3L134.9 178.5L135.5 178.6L136.1 178.7L136.6 178.9L137.2 179L137.7 179.2L138.3 179.4L138.8 179.5L139.4 179.7L140 179.9L140.5 180.1L141.1 180.3L141.6 180.5L142.2 180.7L142.8 181L143.3 181.2L143.9 181.5L144.4 181.7L145 182L145.5 182.3L146.1 182.6L146.7 182.9L147.2 183.3L147.8 183.6L148.3 184L148.9 184.3L149.5 184.7L150 185L150.6 185.4L151.1 185.8L151.7 186.2L152.2 186.7L152.8 187.1L153.4 187.6L153.9 188.2L154.5 188.7L155 189.2L155.6 189.8L156.2 190.3L156.7 190.8L157.3 191.3L157.8 191.8L158.4 192.3L158.9 192.8L159.5 193.3L160.1 193.7L160.6 194.1L161.2 194.5L161.7 194.8L162.3 195.2L162.9 195.5L163.4 195.8L164 196.1L164.5 196.4L165.1 196.7L165.7 197L166.2 197.3L166.8 197.6L167.3 197.9L167.9 198.1L168.4 198.4L169 198.6L169.6 198.9L170.1 199.1L170.7 199.3L171.2 199.5L171.8 199.7L172.4 199.9L172.9 200.1L173.5 200.3L174 200.5L174.6 200.7L175.1 200.9L175.7 201L176.3 201.2L176.8 201.4L177.4 201.5L177.9 201.7L178.5 201.8L179.1 202L179.6 202.1L180.2 202.2L180.7 202.4L181.3 202.5L181.8 202.6L182.4 202.7L183 202.8L183.5 203L184.1 203.1L184.6 203.2L185.2 203.3L185.8 203.4L186.3 203.5L186.9 203.6L187.4 203.7L188 203.8L188.6 203.9L189.1 203.9L189.7 204L190.2 204.1L190.8 204.2L191.3 204.3L191.9 204.4L192.5 204.5L193 204.5L193.6 204.6L194.1 204.7L194.7 204.8L195.3 204.9L195.8 205L196.4 205L196.9 205.1L197.5 205.2L198 205.3L198.6 205.4L199.2 205.4L199.7 205.5L200.3 205.6L200.8 205.7L201.4 205.8L202 205.8L202.5 205.9L203.1 206L203.6 206.1L204.2 206.2L204.7 206.3L205.3 206.3L205.9 206.4L206.4 206.5L207 206.6L207.5 206.7L208.1 206.8L208.7 206.8L209.2 206.9L209.8 207L210.3 207.1L210.9 207.2L211.4 207.2L212 207.3L212.6 207.4L213.1 207.5L213.7 207.5L214.2 207.6L214.8 207.7L215.4 207.8L215.9 207.8L216.5 207.9L217 208L217.6 208.1L218.2 208.1L218.7 208.2L219.3 208.3L219.8 208.3L220.4 208.4L220.9 208.5L221.5 208.5L222.1 208.6L222.6 208.7L223.2 208.7L223.7 208.8L224.3 208.9L224.9 208.9L225.4 209L226 209.1L226.5 209.1L227.1 209.2L227.6 209.3L228.2 209.3L228.8 209.4L229.3 209.5L229.9 209.5L230.4 209.6L231 209.7L231.6 209.7L232.1 209.8L232.7 209.9L233.2 209.9L233.8 210L234.3 210L234.9 210.1L235.5 210.2L236 210.2L236.6 210.3L237.1 210.3L237.7 210.4L238.3 210.5L238.8 210.5L239.4 210.6L239.9 210.7L240.5 210.7L241 210.8L241.6 210.8L242.2 210.9L242.7 211L243.3 211L243.8 211.1L244.4 211.1L245 211.2L245.5 211.3L246.1 211.3L246.6 211.4L247.2 211.4L247.8 211.5L248.3 211.5L248.9 211.6L249.4 211.7L250 211.7L250.5 211.8L251.1 211.8L251.7 211.9L252.2 212L252.8 212L253.3 212.1L253.9 212.1L254.5 212.2L255 212.3L255.6 212.3L256.1 212.4L256.7 212.4L257.2 212.5L257.8 212.5L258.4 212.6L258.9 212.7L259.5 212.7L260 212.8L260.6 212.8L261.2 212.9L261.7 212.9L262.3 213L262.8 213.1L263.4 213.1L263.9 213.2L264.5 213.2L265.1 213.3L265.6 213.4L266.2 213.4L266.7 213.5L267.3 213.5L267.9 213.6L268.4 213.6L269 213.7L269.5 213.8L270.1 213.8L270.6 213.9L271.2 213.9L271.8 214L272.3 214L272.9 214.1L273.4 214.2L274 214.2L274.6 214.3L275.1 214.3L275.7 214.4L276.2 214.5L276.8 214.5L277.4 214.6L277.9 214.6L278.5 214.7L279 214.7L279.6 214.8L280.1 214.9L280.7 214.9L281.3 215L281.8 215L282.4 215.1L282.9 215.1L283.5 215.2L284.1 215.3L284.6 215.3L285.2 215.4L285.7 215.4L286.3 215.5L286.8 215.5L287.4 215.6L288 215.7L288.5 215.7L289.1 215.8L289.6 215.8L290.2 215.9L290.8 215.9L291.3 216L291.9 216.1L292.4 216.1L293 216.2L293.5 216.2L294.1 216.3L294.7 216.3L295.2 216.4L295.8 216.5L296.3 216.5L296.9 216.6L297.5 216.6L298 216.7L298.6 216.7L299.1 216.8L299.7 216.9L300.2 216.9L300.8 217" stroke="#7e8b30" stroke-width="3.5"/>
<path d="M41.1 55.3h0M41.7 59.6h0M42.2 64.6h0M42.8 68.7h0M43.3 71.9h0M43.9 75h0M44.5 78.4h0M45 83.2h0M45.6 90.5h0M46.1 100.1h0M46.7 109.9h0M47.2 119.2h0M47.8 128.4h0M48.4 135.7h0M48.9 140.7h0" stroke="#7e8b30" stroke-width="3.7"/>
<path d="M27.7 35.5h0M28.3 34.2h0M28.8 32.9h0M36.1 37.5h0M36.6 38.8h0M37.2 40.2h0M37.8 41.8h0M38.3 43.5h0M38.9 45.3h0M39.4 47.3h0M40 49.6h0M40.5 52.1h0M41.1 55.3h0M41.7 59.6h0M42.2 64.6h0M42.8 68.7h0M43.3 71.9h0M43.9 75h0M44.5 78.4h0M45 83.2h0M45.6 90.5h0M46.1 100.1h0M46.7 109.9h0M47.2 119.2h0M47.8 128.4h0M48.4 135.7h0M48.9 140.7h0M49.5 144.2h0M50 146.9h0M50.6 149.2h0M51.2 151.1h0M51.7 152.7h0M52.3 154.3h0M52.8 156h0M53.4 157.8h0M54 159.5h0M54.5 161.2h0M55.1 162.8h0M55.6 164.3h0M56.2 165.6h0" stroke="#fff" stroke-opacity="0.6" stroke-width="1"/>
</g>
<rect x="21.2" y="12.3" width="280.2" height="225.4" fill="none" stroke="#231f20" stroke-width="1.55"/>
<path d="M21.1 237.7L21.1 240.2" stroke="#231f20" stroke-width="1.4"/>
<path d="M49 237.7L49 241.7" stroke="#231f20" stroke-width="1.4"/>
<path d="M76.9 237.7L76.9 240.2" stroke="#231f20" stroke-width="1.4"/>
<path d="M104.8 237.7L104.8 241.7" stroke="#231f20" stroke-width="1.4"/>
<path d="M132.8 237.7L132.8 240.2" stroke="#231f20" stroke-width="1.4"/>
<path d="M160.7 237.7L160.7 241.7" stroke="#231f20" stroke-width="1.4"/>
<path d="M188.6 237.7L188.6 240.2" stroke="#231f20" stroke-width="1.4"/>
<path d="M216.6 237.7L216.6 241.7" stroke="#231f20" stroke-width="1.4"/>
<path d="M244.5 237.7L244.5 240.2" stroke="#231f20" stroke-width="1.4"/>
<path d="M272.4 237.7L272.4 241.7" stroke="#231f20" stroke-width="1.4"/>
<path d="M300.3 237.7L300.3 240.2" stroke="#231f20" stroke-width="1.4"/>
<text x="49" y="258.8" font-size="12.8" font-weight="bold" text-anchor="middle" fill="#231f20">400</text>
<text x="104.8" y="258.8" font-size="12.8" font-weight="bold" text-anchor="middle" fill="#231f20">500</text>
<text x="160.7" y="258.8" font-size="12.8" font-weight="bold" text-anchor="middle" fill="#231f20">600</text>
<text x="216.6" y="258.8" font-size="12.8" font-weight="bold" text-anchor="middle" fill="#231f20">700</text>
<text x="272.4" y="258.8" font-size="12.8" font-weight="bold" text-anchor="middle" fill="#231f20">800</text>
<text x="162" y="279.4" font-size="12.8" font-weight="bold" text-anchor="middle" fill="#231f20" textLength="106" lengthAdjust="spacingAndGlyphs">Wavelength (nm)</text>
<text transform="translate(10.9 120.2) rotate(-90)" x="0" y="0" font-size="13.3" font-weight="bold" text-anchor="middle" fill="#231f20">Absorbance (arb.u.)</text>
<text x="-1" y="13.7" font-size="19.5" font-weight="bold" text-anchor="start" fill="#231f20">a</text>
<defs><radialGradient id="g0" cx="0.4" cy="0.35" r="0.65"><stop offset="0" stop-color="#b1b1b1"/><stop offset="0.45" stop-color="#535353"/><stop offset="1" stop-color="#424242"/></radialGradient></defs>
<circle cx="212.5" cy="24.2" r="2.2" fill="url(#g0)"/>
<text x="219.2" y="27.5" font-size="9.3" font-weight="bold" text-anchor="start" fill="#231f20">Cu<tspan dy="2.8" font-size="6.7">2</tspan><tspan dy="-2.8">O MCs</tspan></text>
<defs><radialGradient id="g1" cx="0.4" cy="0.35" r="0.65"><stop offset="0" stop-color="#f4aaae"/><stop offset="0.45" stop-color="#e8444d"/><stop offset="1" stop-color="#b9363d"/></radialGradient></defs>
<circle cx="212.5" cy="38.1" r="2.2" fill="url(#g1)"/>
<text x="219.2" y="41.4" font-size="9.3" font-weight="bold" text-anchor="start" fill="#231f20">Cu<tspan dy="2.8" font-size="6.7">2</tspan><tspan dy="-2.8">O RMCs</tspan></text>
<defs><radialGradient id="g2" cx="0.4" cy="0.35" r="0.65"><stop offset="0" stop-color="#99bde3"/><stop offset="0.45" stop-color="#1d6dc1"/><stop offset="1" stop-color="#17579a"/></radialGradient></defs>
<circle cx="212.5" cy="52.1" r="2.2" fill="url(#g2)"/>
<text x="219.2" y="55.4" font-size="9.3" font-weight="bold" text-anchor="start" fill="#231f20">Cu<tspan dy="2.8" font-size="6.7">2</tspan><tspan dy="-2.8">O TMCs</tspan></text>
<defs><radialGradient id="g3" cx="0.4" cy="0.35" r="0.65"><stop offset="0" stop-color="#9bd4b9"/><stop offset="0.45" stop-color="#22a064"/><stop offset="1" stop-color="#1b8050"/></radialGradient></defs>
<circle cx="212.5" cy="66" r="2.2" fill="url(#g3)"/>
<text x="219.2" y="69.3" font-size="9.3" font-weight="bold" text-anchor="start" fill="#231f20">g-C<tspan dy="2.8" font-size="6.7">3</tspan><tspan dy="-2.8">N<tspan dy="2.8" font-size="6.7">4</tspan><tspan dy="-2.8"> NSs</tspan></tspan></text>
<defs><radialGradient id="g4" cx="0.4" cy="0.35" r="0.65"><stop offset="0" stop-color="#cbbcdb"/><stop offset="0.45" stop-color="#8d6cb0"/><stop offset="1" stop-color="#70568c"/></radialGradient></defs>
<circle cx="212.5" cy="80" r="2.2" fill="url(#g4)"/>
<text x="219.2" y="83.3" font-size="9.3" font-weight="bold" text-anchor="start" fill="#231f20">Cu<tspan dy="2.8" font-size="6.7">2</tspan><tspan dy="-2.8">O/g-C<tspan dy="2.8" font-size="6.7">3</tspan><tspan dy="-2.8">N<tspan dy="2.8" font-size="6.7">4</tspan><tspan dy="-2.8">-0.1</tspan></tspan></tspan></text>
<defs><radialGradient id="g5" cx="0.4" cy="0.35" r="0.65"><stop offset="0" stop-color="#e6d1a0"/><stop offset="0.45" stop-color="#c99a2c"/><stop offset="1" stop-color="#a07b23"/></radialGradient></defs>
<circle cx="212.5" cy="94" r="2.2" fill="url(#g5)"/>
<text x="219.2" y="97.2" font-size="9.3" font-weight="bold" text-anchor="start" fill="#231f20">Cu<tspan dy="2.8" font-size="6.7">2</tspan><tspan dy="-2.8">O/g-C<tspan dy="2.8" font-size="6.7">3</tspan><tspan dy="-2.8">N<tspan dy="2.8" font-size="6.7">4</tspan><tspan dy="-2.8">-0.2</tspan></tspan></tspan></text>
<defs><radialGradient id="g6" cx="0.4" cy="0.35" r="0.65"><stop offset="0" stop-color="#97dadc"/><stop offset="0.45" stop-color="#18adb2"/><stop offset="1" stop-color="#138a8e"/></radialGradient></defs>
<circle cx="212.5" cy="107.9" r="2.2" fill="url(#g6)"/>
<text x="219.2" y="111.2" font-size="9.3" font-weight="bold" text-anchor="start" fill="#231f20">Cu<tspan dy="2.8" font-size="6.7">2</tspan><tspan dy="-2.8">O/g-C<tspan dy="2.8" font-size="6.7">3</tspan><tspan dy="-2.8">N<tspan dy="2.8" font-size="6.7">4</tspan><tspan dy="-2.8">-0.3</tspan></tspan></tspan></text>
<defs><radialGradient id="g7" cx="0.4" cy="0.35" r="0.65"><stop offset="0" stop-color="#c3adb0"/><stop offset="0.45" stop-color="#7b4a50"/><stop offset="1" stop-color="#623b40"/></radialGradient></defs>
<circle cx="212.5" cy="121.8" r="2.2" fill="url(#g7)"/>
<text x="219.2" y="125.1" font-size="9.3" font-weight="bold" text-anchor="start" fill="#231f20">Cu<tspan dy="2.8" font-size="6.7">2</tspan><tspan dy="-2.8">O/g-C<tspan dy="2.8" font-size="6.7">3</tspan><tspan dy="-2.8">N<tspan dy="2.8" font-size="6.7">4</tspan><tspan dy="-2.8">-0.4</tspan></tspan></tspan></text>
<defs><radialGradient id="g8" cx="0.4" cy="0.35" r="0.65"><stop offset="0" stop-color="#c4caa1"/><stop offset="0.45" stop-color="#7e8b30"/><stop offset="1" stop-color="#646f26"/></radialGradient></defs>
<circle cx="212.5" cy="135.8" r="2.2" fill="url(#g8)"/>
<text x="219.2" y="139.1" font-size="9.3" font-weight="bold" text-anchor="start" fill="#231f20">Cu<tspan dy="2.8" font-size="6.7">2</tspan><tspan dy="-2.8">O/g-C<tspan dy="2.8" font-size="6.7">3</tspan><tspan dy="-2.8">N<tspan dy="2.8" font-size="6.7">4</tspan><tspan dy="-2.8">-0.5</tspan></tspan></tspan></text>
<defs><clipPath id="cb"><rect x="390.5" y="8.7" width="267.8" height="228.5"/></clipPath></defs>
<g clip-path="url(#cb)" fill="none" stroke-linecap="round" stroke-width="4">
<path d="M390.5 196.4h0M390.6 194.4h0M390.8 193.1h0M390.9 192h0M391.1 190.4h0M391.2 189h0M391.4 188.4h0M391.5 186.2h0M391.7 187.2h0M391.8 186.1h0M392 185.7h0M392.1 186.7h0M392.3 185.3h0M392.4 185.5h0M392.6 184.8h0M392.7 185.2h0M392.9 184.9h0M393 184.5h0M393.2 185h0M393.3 185.2h0M393.5 185.5h0M393.6 183.5h0M393.8 184h0M393.9 183.9h0M394.1 183.2h0M394.2 184.5h0M394.4 184.3h0M394.5 184.7h0M394.7 184.2h0M394.8 184.4h0M395 182.9h0M395.1 184.4h0M395.3 184.6h0M395.4 184.7h0M395.6 184.4h0M395.7 184.5h0M395.9 183.6h0M396 184.1h0M396.2 185.1h0M396.3 184h0M396.5 185.1h0M396.6 183.3h0M396.7 185h0M396.9 184.3h0M397 184.2h0M397.2 184.3h0M397.3 185.8h0M397.5 184.2h0M397.6 184.2h0M397.8 182.7h0M397.9 184.8h0M398.1 185.1h0M398.2 186.4h0M398.4 184.7h0M398.5 182.9h0M398.7 184h0M398.8 185.5h0M399 184.7h0M399.1 185.8h0M399.3 184.1h0M399.4 185.3h0M399.6 185.4h0M399.7 185.2h0M399.9 185.2h0M400 186.1h0M400.2 186h0M400.3 184.5h0M400.5 185h0M400.6 186.6h0M400.8 185.1h0M400.9 186.4h0M401.1 187h0M401.2 184.6h0M401.4 185.7h0M401.5 187.2h0M401.7 187.3h0M401.8 185.8h0M402 186.5h0M402.1 184.9h0M402.3 187.1h0M402.4 186.6h0M402.6 187.6h0M402.7 187.8h0M402.8 187.5h0M403 185.6h0M403.1 187h0M403.3 186.7h0M403.4 187.2h0M403.6 187.1h0M403.7 188h0M403.9 188.1h0M404 188h0M404.2 186.4h0M404.3 187.2h0M404.5 186.6h0M404.6 188h0M404.8 187.3h0M404.9 187.6h0M405.1 188.1h0M405.2 188.5h0M405.4 188.3h0M405.5 191.6h0M405.7 192.5h0M405.8 197h0M406 196.4h0M406.1 196h0M406.3 197.2h0M406.4 198.3h0M406.6 198h0M406.7 199.6h0M406.9 198.2h0M407 199.1h0M407.2 201.1h0M407.3 196.9h0M407.5 200.3h0M407.6 199.4h0M407.8 199.3h0M407.9 200.4h0M408.1 199.2h0M408.2 198.2h0M408.4 198h0M408.5 199.8h0M408.7 198.3h0M408.8 198.4h0M408.9 198.4h0M409.1 199.3h0M409.2 198.7h0M409.4 198.3h0M409.5 198.9h0M409.7 199.1h0M409.8 199.3h0M410 198.8h0M410.1 197.5h0M410.3 199.6h0M410.4 198.1h0M410.6 197.9h0M410.7 199.4h0M410.9 199.5h0M411 200.2h0M411.2 198h0M411.3 198.6h0M411.5 199.6h0M411.6 199.8h0M411.8 200.9h0M411.9 199.6h0M412.1 198.9h0M412.2 199.3h0M412.4 199.1h0M412.5 198.5h0M412.7 198.1h0M412.8 198.2h0M413 199h0M413.1 198.3h0M413.3 198.9h0M413.4 198.3h0M413.6 199.1h0M413.7 198.8h0M413.9 197.4h0M414 198.3h0M414.2 198.7h0M414.3 197.1h0M414.5 197.2h0M414.6 198.4h0M414.8 198h0M414.9 197.9h0M415 198.2h0M415.2 197.7h0M415.3 197.8h0M415.5 197.8h0M415.6 197.4h0M415.8 197.6h0M415.9 197.5h0M416.1 196.9h0M416.2 196.8h0M416.4 197h0M416.5 197h0M416.7 198.1h0M416.8 195.3h0M417 197.6h0M417.1 198.1h0M417.3 197.4h0M417.4 196.1h0M417.6 197.1h0M417.7 196.9h0M417.9 196.2h0M418 197.3h0M418.2 198h0M418.3 196.3h0M418.5 197.1h0M418.6 197.1h0M418.8 195.9h0M418.9 196.7h0M419.1 196h0M419.2 197h0M419.4 194.9h0M419.5 195.3h0M419.7 197.1h0M419.8 195.9h0M420 196.1h0M420.1 196.3h0M420.3 197.8h0M420.4 196.8h0M420.6 196.4h0M420.7 193.7h0M420.9 191.7h0M421 190.6h0M421.1 190.4h0M421.3 189.5h0M421.4 188.6h0M421.6 188.8h0M421.7 188.2h0M421.9 187.2h0M422 186.8h0M422.2 187.8h0M422.3 187.5h0M422.5 187h0M422.6 186.8h0M422.8 187.2h0M422.9 186.8h0M423.1 186.8h0M423.2 186.5h0M423.4 187.4h0M423.5 186.8h0M423.7 186.5h0M423.8 187.2h0M424 185.2h0M424.1 187.3h0M424.3 187.6h0M424.4 186.4h0M424.6 185.2h0M424.7 185.1h0M424.9 186.3h0M425 185.8h0M425.2 185.7h0M425.3 186.1h0M425.5 185.7h0M425.6 185h0M425.8 186.3h0M425.9 186.1h0M426.1 186.7h0M426.2 186.4h0M426.4 186h0M426.5 186.3h0M426.7 187.2h0M426.8 185.6h0M427 186.8h0M427.1 186.5h0M427.2 187.9h0M427.4 186.8h0M427.5 185.3h0M427.7 186.7h0M427.8 187.7h0M428 185.8h0M428.1 186.6h0M428.3 186.1h0M428.4 186.1h0M428.6 185.4h0M428.7 185.6h0M428.9 185.2h0M429 186.9h0M429.2 185.2h0M429.3 186.1h0M429.5 186.8h0M429.6 184.8h0M429.8 187.3h0M429.9 187.5h0M430.1 187.6h0M430.2 185.9h0M430.4 186.5h0M430.5 186h0M430.7 185.7h0M430.8 186.3h0M431 187h0M431.1 186.1h0M431.3 186.6h0M431.4 187.7h0M431.6 187.4h0M431.7 188.3h0M431.9 186.6h0M432 187.1h0M432.2 186.7h0M432.3 186h0M432.5 186.5h0M432.6 186.2h0M432.8 186.7h0M432.9 187.3h0M433.1 186.2h0M433.2 188.1h0M433.3 187.2h0M433.5 186.8h0M433.6 187.7h0M433.8 187h0M433.9 187.8h0M434.1 186.6h0M434.2 186.8h0M434.4 186.8h0M434.5 187.1h0M434.7 187.3h0M434.8 186.7h0M435 187h0M435.1 186.5h0M435.3 190.2h0M435.4 191.4h0M435.6 194.1h0M435.7 195.4h0M435.9 195.1h0M436 195.4h0M436.2 198.3h0M436.3 196.2h0M436.5 194.9h0M436.6 196.9h0M436.8 197.1h0M436.9 195.6h0M437.1 197.1h0M437.2 195.9h0M437.4 197.6h0M437.5 197.4h0M437.7 196.8h0M437.8 197.7h0M438 197.4h0M438.1 196.7h0M438.3 196.6h0M438.4 197.2h0M438.6 196.4h0M438.7 197.2h0M438.9 197.8h0M439 197.4h0M439.2 195.3h0M439.3 197h0M439.4 196.7h0M439.6 196.5h0M439.7 197.5h0M439.9 196.2h0M440 197.2h0M440.2 197.1h0M440.3 197.1h0M440.5 197.5h0M440.6 197.4h0M440.8 196.7h0M440.9 195.5h0M441.1 196.1h0M441.2 196.7h0M441.4 196.7h0M441.5 198.9h0M441.7 197.2h0M441.8 195h0M442 196.7h0M442.1 196.3h0M442.3 194.9h0M442.4 197.2h0M442.6 197.1h0M442.7 198.1h0M442.9 197.2h0M443 197.1h0M443.2 197.1h0M443.3 195.6h0M443.5 195.8h0M443.6 195.7h0M443.8 195.4h0M443.9 196.4h0M444.1 196.4h0M444.2 194.3h0M444.4 196h0M444.5 196.1h0M444.7 194.2h0M444.8 196.3h0M445 196.6h0M445.1 196.2h0M445.3 195.3h0M445.4 195h0M445.5 195.6h0M445.7 196.2h0M445.8 195h0M446 195.5h0M446.1 194.8h0M446.3 194.8h0M446.4 196.2h0M446.6 195.5h0M446.7 196.2h0M446.9 194.9h0M447 193.9h0M447.2 194.5h0M447.3 196.5h0M447.5 193.6h0M447.6 194.8h0M447.8 193.9h0M447.9 194.7h0M448.1 195.8h0M448.2 194.4h0M448.4 194.2h0M448.5 194.4h0M448.7 194.3h0M448.8 194.3h0M449 192.4h0M449.1 194.8h0M449.3 196h0M449.4 193.1h0M449.6 194.4h0M449.7 192.9h0M449.9 193.7h0M450 196.9h0M450.2 195.4h0M450.3 193.4h0M450.5 192.7h0M450.6 190.5h0M450.8 188.9h0M450.9 187.6h0M451.1 187.8h0M451.2 187.6h0M451.4 187.1h0M451.5 186.5h0M451.6 186h0M451.8 184.7h0M451.9 184.9h0M452.1 185.2h0M452.2 185.7h0M452.4 184.7h0M452.5 185.2h0M452.7 185.2h0M452.8 184.7h0M453 183.9h0M453.1 184.3h0M453.3 184.5h0M453.4 184.2h0M453.6 185h0M453.7 184.2h0M453.9 183.3h0M454 185.7h0M454.2 183.8h0M454.3 184.6h0M454.5 183.6h0M454.6 183.5h0M454.8 184.2h0M454.9 183.9h0M455.1 184.7h0M455.2 185h0M455.4 182.9h0M455.5 183.1h0M455.7 184.9h0M455.8 183.1h0M456 184.3h0M456.1 184.7h0M456.3 184.4h0M456.4 183h0M456.6 184.3h0M456.7 184.3h0M456.9 185.5h0M457 185.5h0M457.2 185.7h0M457.3 183.8h0M457.4 184.9h0M457.6 184.7h0M457.7 184.4h0M457.9 184.1h0M458 183.8h0M458.2 184.4h0M458.3 184.5h0M458.5 183.5h0M458.6 185.7h0M458.8 184.5h0M458.9 185.8h0M459.1 184.1h0M459.2 184.6h0M459.4 184.9h0M459.5 185.8h0M459.7 184.8h0M459.8 186.4h0M460 186.7h0M460.1 186.5h0M460.3 185.5h0M460.4 186.3h0M460.6 186.8h0M460.7 185.1h0M460.9 187.5h0M461 186.1h0M461.2 186.3h0M461.3 186h0M461.5 187.5h0M461.6 186.7h0M461.8 186.9h0M461.9 187h0M462.1 186.9h0M462.2 186.2h0M462.4 185.7h0M462.5 186.6h0M462.7 186.4h0M462.8 186.7h0M463 187.3h0M463.1 187.1h0M463.3 188h0M463.4 187h0M463.5 186.8h0M463.7 188.5h0M463.8 188.6h0M464 189.3h0M464.1 187.3h0M464.3 187.9h0M464.4 188.2h0M464.6 188.6h0M464.7 187.2h0M464.9 186.5h0M465 190.4h0M465.2 196.9h0M465.3 197.7h0M465.5 199.4h0M465.6 199.2h0M465.8 200.4h0M465.9 200h0M466.1 200.8h0M466.2 202.5h0M466.4 201.2h0M466.5 200.4h0M466.7 200.9h0M466.8 202.1h0M467 199.3h0M467.1 200.1h0M467.3 200.9h0M467.4 200.2h0M467.6 201.7h0M467.7 201.2h0M467.9 201.5h0M468 201.4h0M468.2 201h0M468.3 200.2h0M468.5 201.6h0M468.6 200.1h0M468.8 201.3h0M468.9 201.6h0M469.1 201h0M469.2 200.2h0M469.4 200.4h0M469.5 200.6h0M469.6 200.5h0M469.8 201h0M469.9 201.2h0M470.1 200.5h0M470.2 199.7h0M470.4 200.7h0M470.5 201.7h0M470.7 201.9h0M470.8 201h0M471 201.6h0M471.1 200.9h0M471.3 201.7h0M471.4 201h0M471.6 200.8h0M471.7 200.8h0M471.9 202.1h0M472 200.8h0M472.2 200.6h0M472.3 201h0M472.5 200.5h0M472.6 199.6h0M472.8 200.4h0M472.9 200.3h0M473.1 200.5h0M473.2 201.5h0M473.4 200h0M473.5 201h0M473.7 201.1h0M473.8 201h0M474 199h0M474.1 199.6h0M474.3 202h0M474.4 198.5h0M474.6 201.4h0M474.7 199.4h0M474.9 198.9h0M475 198.7h0M475.2 200.3h0M475.3 200.1h0M475.5 201h0M475.6 198h0M475.7 200.3h0M475.9 197.8h0M476 198h0M476.2 200.5h0M476.3 198.3h0M476.5 199.3h0M476.6 199.3h0M476.8 199.8h0M476.9 197.5h0M477.1 198.3h0M477.2 199.1h0M477.4 199.9h0M477.5 198h0M477.7 198.9h0M477.8 199.5h0M478 198.1h0M478.1 198.4h0M478.3 199h0M478.4 197.9h0M478.6 197.5h0M478.7 199.2h0M478.9 198.5h0M479 198.5h0M479.2 197.6h0M479.3 198.4h0M479.5 197.6h0M479.6 198h0M479.8 198.9h0M479.9 198.4h0M480.1 196.8h0M480.2 197.5h0M480.4 193.4h0M480.5 191.7h0M480.7 189.8h0M480.8 190.4h0M481 188h0M481.1 189.3h0M481.3 188.3h0M481.4 189h0M481.6 188.6h0M481.7 188h0M481.8 187.7h0M482 189.3h0M482.1 189.2h0M482.3 188h0M482.4 188.3h0M482.6 186.7h0M482.7 186.5h0M482.9 187.1h0M483 186.1h0M483.2 186.9h0M483.3 187.3h0M483.5 187.2h0M483.6 188.2h0M483.8 188.1h0M483.9 186.3h0M484.1 186.7h0M484.2 188.3h0M484.4 187.2h0M484.5 186.6h0M484.7 186.8h0M484.8 186.1h0M485 187.1h0M485.1 187.4h0M485.3 186.4h0M485.4 187.8h0M485.6 187h0M485.7 186.2h0M485.9 185.9h0M486 185.8h0M486.2 186.6h0M486.3 186.5h0M486.5 187.5h0M486.6 186.7h0M486.8 187.1h0M486.9 187.9h0M487.1 186.1h0M487.2 186.7h0M487.4 187.5h0M487.5 185.4h0M487.7 185.8h0M487.8 187.2h0M487.9 185.8h0M488.1 186.7h0M488.2 186.8h0M488.4 188h0M488.5 186.6h0M488.7 186.8h0M488.8 186.6h0M489 185.9h0M489.1 185.9h0M489.3 187.1h0M489.4 185.5h0M489.6 187.4h0M489.7 187.5h0M489.9 187.2h0M490 185.4h0M490.2 186.1h0M490.3 184.9h0M490.5 185.2h0M490.6 187.5h0M490.8 186.3h0M490.9 186.3h0M491.1 186.6h0M491.2 187.1h0M491.4 186.5h0M491.5 187.2h0M491.7 186.6h0M491.8 186.5h0M492 186.3h0M492.1 186h0M492.3 186.5h0M492.4 187.4h0M492.6 186.5h0M492.7 186.3h0M492.9 187h0M493 186.6h0M493.2 187.2h0M493.3 185.8h0M493.5 187.8h0M493.6 186.1h0M493.8 187.2h0M493.9 186h0M494 186.7h0M494.2 185.9h0M494.3 188.7h0M494.5 186.8h0M494.6 187.3h0M494.8 191.4h0M494.9 193.5h0M495.1 197.4h0M495.2 199.1h0M495.4 198.9h0M495.5 200h0M495.7 199.9h0M495.8 198.4h0M496 200.2h0M496.1 199.8h0M496.3 200.1h0M496.4 200h0M496.6 200.3h0M496.7 199.5h0M496.9 199.9h0M497 200.6h0M497.2 200.4h0M497.3 200h0M497.5 200.6h0M497.6 199.8h0M497.8 200.8h0M497.9 199.9h0M498.1 200.2h0M498.2 199.6h0M498.4 197.2h0M498.5 199.9h0M498.7 199.3h0M498.8 201.6h0M499 200.6h0M499.1 200.6h0M499.3 200.9h0M499.4 200.4h0M499.6 198.5h0M499.7 200.6h0M499.9 199.6h0M500 199.2h0M500.1 200.6h0M500.3 200.5h0M500.4 200.1h0M500.6 199.1h0M500.7 199.7h0M500.9 200.6h0M501 200.5h0M501.2 198.9h0M501.3 198.7h0M501.5 200.9h0M501.6 199h0M501.8 200h0M501.9 200h0M502.1 199.4h0M502.2 199.7h0M502.4 198.8h0M502.5 199.8h0M502.7 200.4h0M502.8 198.6h0M503 199.9h0M503.1 198.2h0M503.3 199.5h0M503.4 198.5h0M503.6 198.5h0M503.7 197.1h0M503.9 199.8h0M504 198.4h0M504.2 199.1h0M504.3 198.6h0M504.5 198.7h0M504.6 198h0M504.8 198.9h0M504.9 198.3h0M505.1 199.2h0M505.2 198.2h0M505.4 199.5h0M505.5 198.6h0M505.7 198.9h0M505.8 197.5h0M506 199.7h0M506.1 197.6h0M506.2 198.3h0M506.4 198.9h0M506.5 198.5h0M506.7 198.3h0M506.8 197.8h0M507 197h0M507.1 197.5h0M507.3 198.4h0M507.4 198.8h0M507.6 197h0M507.7 197.9h0M507.9 198.4h0M508 198.3h0M508.2 198.6h0M508.3 197.9h0M508.5 196.9h0M508.6 197.9h0M508.8 197.7h0M508.9 196.8h0M509.1 197h0M509.2 197.1h0M509.4 196.8h0M509.5 199.6h0M509.7 197.4h0M509.8 196.7h0M510 194h0M510.1 191h0M510.3 190.1h0M510.4 188h0M510.6 189h0M510.7 188.1h0M510.9 187.9h0M511 186.8h0M511.2 186.8h0M511.3 186.8h0M511.5 187.3h0M511.6 184.8h0M511.8 187h0M511.9 186.2h0M512.1 185.8h0M512.2 184.5h0M512.3 186.6h0M512.5 185.3h0M512.6 185h0M512.8 185.7h0M512.9 185.3h0M513.1 185.1h0M513.2 184.7h0M513.4 185.8h0M513.5 183.9h0M513.7 185.9h0M513.8 185.1h0M514 185.4h0M514.1 185.5h0M514.3 186h0M514.4 184.6h0M514.6 185.3h0M514.7 186.2h0M514.9 185.6h0M515 185.6h0M515.2 185.2h0M515.3 185.9h0M515.5 183.9h0M515.6 185h0M515.8 185.3h0M515.9 185.4h0M516.1 183.7h0M516.2 185.6h0M516.4 185.5h0M516.5 184.5h0M516.7 186.1h0M516.8 184.2h0M517 184.1h0M517.1 184.3h0M517.3 185.6h0M517.4 185h0M517.6 185.8h0M517.7 184.7h0M517.9 185.1h0M518 185.4h0M518.2 186.2h0M518.3 184.8h0M518.4 184.1h0M518.6 185h0M518.7 185h0M518.9 184.9h0M519 185h0M519.2 186.2h0M519.3 185.1h0M519.5 185.1h0M519.6 185.1h0M519.8 184.6h0M519.9 185.5h0M520.1 186.3h0M520.2 186.1h0M520.4 184.8h0M520.5 185.7h0M520.7 186.5h0M520.8 185.8h0M521 184.6h0M521.1 186.4h0M521.3 185.3h0M521.4 185.7h0M521.6 184.5h0M521.7 185.2h0M521.9 186.6h0M522 185.9h0M522.2 185.7h0M522.3 185.4h0M522.5 186.6h0M522.6 186.2h0M522.8 186.4h0M522.9 185h0M523.1 186.3h0M523.2 186.7h0M523.4 186.2h0M523.5 184h0M523.7 185.5h0M523.8 185.4h0M524 185.5h0M524.1 186.5h0M524.3 185.9h0M524.4 186.9h0M524.5 191h0M524.7 195.1h0M524.8 197.7h0M525 199.5h0M525.1 198.9h0M525.3 200h0M525.4 198.8h0M525.6 200.6h0M525.7 200.6h0M525.9 201.1h0M526 201.8h0M526.2 201.3h0M526.3 200.8h0M526.5 201.7h0M526.6 200.4h0M526.8 201h0M526.9 198.7h0M527.1 201.1h0M527.2 200.9h0M527.4 202h0M527.5 201.2h0M527.7 200.5h0M527.8 200.2h0M528 201.5h0M528.1 202.1h0M528.3 202.3h0M528.4 200.5h0M528.6 200.7h0M528.7 199.9h0M528.9 201.1h0M529 200.7h0M529.2 201.1h0M529.3 200.4h0M529.5 201.2h0M529.6 200.8h0M529.8 200.7h0M529.9 201.4h0M530.1 199.8h0M530.2 199.5h0M530.4 201.3h0M530.5 200.9h0M530.6 201.4h0M530.8 200.4h0M530.9 199.8h0M531.1 200.5h0M531.2 200.5h0M531.4 200.5h0M531.5 201.6h0M531.7 201.1h0M531.8 201.8h0M532 200.2h0M532.1 200.8h0M532.3 200h0M532.4 200.1h0M532.6 201.3h0M532.7 200.3h0M532.9 200.1h0M533 200.6h0M533.2 200.5h0M533.3 199.9h0M533.5 199.5h0M533.6 199.4h0M533.8 200.1h0M533.9 197.7h0M534.1 198h0M534.2 199.9h0M534.4 199.9h0M534.5 199.7h0M534.7 200.1h0M534.8 199.9h0M535 200.3h0M535.1 199.9h0M535.3 199.5h0M535.4 198.8h0M535.6 198.8h0M535.7 198.4h0M535.9 200.2h0M536 199.6h0M536.2 200h0M536.3 200h0M536.5 199.1h0M536.6 199.8h0M536.7 198.9h0M536.9 201.3h0M537 199.6h0M537.2 198.2h0M537.3 198.5h0M537.5 198.7h0M537.6 197.8h0M537.8 197.7h0M537.9 197.5h0M538.1 198h0M538.2 198.3h0M538.4 199.7h0M538.5 199h0M538.7 198.5h0M538.8 197.2h0M539 196.5h0M539.1 198.2h0M539.3 199.9h0M539.4 198.2h0M539.6 196.9h0M539.7 197.2h0M539.9 192.3h0M540 191.5h0M540.2 190.4h0M540.3 189.9h0M540.5 188.7h0M540.6 188.9h0M540.8 189.7h0M540.9 187.5h0M541.1 187.6h0M541.2 186.4h0M541.4 187h0M541.5 186h0M541.7 184.8h0M541.8 186.1h0M542 187.4h0M542.1 186h0M542.3 186.3h0M542.4 186.2h0M542.6 186.5h0M542.7 186.7h0M542.8 185.9h0M543 185.4h0M543.1 187.6h0M543.3 186.4h0M543.4 184.6h0M543.6 185.8h0M543.7 185.1h0M543.9 185.5h0M544 185.2h0M544.2 185.7h0M544.3 186h0M544.5 185.9h0M544.6 185.4h0M544.8 186h0M544.9 186.9h0M545.1 186.5h0M545.2 185.6h0M545.4 185.9h0M545.5 186.2h0M545.7 186.1h0M545.8 185.9h0M546 185.5h0M546.1 186h0M546.3 185.5h0M546.4 185.7h0M546.6 185.7h0M546.7 186.7h0M546.9 185.7h0M547 186.3h0M547.2 184.9h0M547.3 186.5h0M547.5 185.7h0M547.6 186h0M547.8 185h0M547.9 185.2h0M548.1 186.2h0M548.2 185.6h0M548.4 185.7h0M548.5 185.1h0M548.7 186.8h0M548.8 186h0M548.9 186.2h0M549.1 186h0M549.2 184.5h0M549.4 184.8h0M549.5 185.4h0M549.7 184.6h0M549.8 186.9h0M550 186h0M550.1 186.8h0M550.3 185h0M550.4 185h0M550.6 185.8h0M550.7 185.4h0M550.9 185.9h0M551 185.6h0M551.2 185.1h0M551.3 186.4h0M551.5 184.9h0M551.6 185.9h0M551.8 185.6h0M551.9 185.2h0M552.1 185.4h0M552.2 186.4h0M552.4 185.7h0M552.5 185.6h0M552.7 186.9h0M552.8 184.2h0M553 186.3h0M553.1 185.7h0M553.3 185.6h0M553.4 186.6h0M553.6 185h0M553.7 185.7h0M553.9 185.5h0M554 186.1h0M554.2 186.2h0M554.3 190.8h0M554.5 197.7h0M554.6 200.8h0M554.8 203h0M554.9 204h0M555 203.6h0M555.2 203h0M555.3 203.4h0M555.5 204.6h0M555.6 204.1h0M555.8 204.2h0M555.9 204.5h0M556.1 203.8h0M556.2 203.6h0M556.4 204.9h0M556.5 204.7h0M556.7 204.3h0M556.8 204.2h0M557 204.4h0M557.1 205.7h0M557.3 204.2h0M557.4 202.8h0M557.6 203.9h0M557.7 204.8h0M557.9 204.6h0M558 204.3h0M558.2 202.7h0M558.3 203.5h0M558.5 204.9h0M558.6 204.8h0M558.8 203.8h0M558.9 205.7h0M559.1 204.6h0M559.2 204.3h0M559.4 203h0M559.5 204.6h0M559.7 203.2h0M559.8 204.7h0M560 204h0M560.1 203.9h0M560.3 202.5h0M560.4 203.3h0M560.6 204.2h0M560.7 203.9h0M560.9 204h0M561 203.4h0M561.1 203.6h0M561.3 204.7h0M561.4 202.7h0M561.6 202.9h0M561.7 203.6h0M561.9 203.2h0M562 203.5h0M562.2 203h0M562.3 203.6h0M562.5 205.2h0M562.6 202.3h0M562.8 201.5h0M562.9 203.5h0M563.1 202h0M563.2 202.8h0M563.4 202.8h0M563.5 203.9h0M563.7 202.2h0M563.8 202.2h0M564 201.6h0M564.1 203.7h0M564.3 202.6h0M564.4 202.6h0M564.6 203.1h0M564.7 200.8h0M564.9 201.3h0M565 202.8h0M565.2 201.8h0M565.3 201.4h0M565.5 203.2h0M565.6 203.1h0M565.8 202.2h0M565.9 201.4h0M566.1 202.5h0M566.2 201.5h0M566.4 202.3h0M566.5 201.1h0M566.7 202.6h0M566.8 202h0M567 201.5h0M567.1 200.3h0M567.2 202.2h0M567.4 202.1h0M567.5 201.1h0M567.7 202.3h0M567.8 201.8h0M568 202.1h0M568.1 200.5h0M568.3 202.2h0M568.4 201.7h0M568.6 200.4h0M568.7 200.5h0M568.9 201.8h0M569 201.7h0M569.2 203h0M569.3 199.6h0M569.5 195.9h0M569.6 194.4h0M569.8 190.6h0M569.9 189.3h0M570.1 189h0M570.2 187.8h0M570.4 187.1h0M570.5 186.5h0M570.7 187.8h0M570.8 185.5h0M571 186h0M571.1 186.5h0M571.3 186.2h0M571.4 186.5h0M571.6 185.7h0M571.7 185.9h0M571.9 187.3h0M572 186h0M572.2 185.1h0M572.3 185.7h0M572.5 185.8h0M572.6 186.7h0M572.8 184.3h0M572.9 185.5h0M573.1 184.1h0M573.2 184.5h0M573.3 184.4h0M573.5 184.6h0M573.6 185.4h0M573.8 186.3h0M573.9 185.8h0M574.1 183.9h0M574.2 185.5h0M574.4 183.6h0M574.5 185.1h0M574.7 184.6h0M574.8 185.2h0M575 186.3h0M575.1 184.3h0M575.3 185.5h0M575.4 183.7h0M575.6 184.2h0M575.7 184.8h0M575.9 183.7h0M576 185.1h0M576.2 184.2h0M576.3 184.2h0M576.5 185.9h0M576.6 185h0M576.8 184.3h0M576.9 185.1h0M577.1 183.4h0M577.2 185h0M577.4 184.6h0M577.5 185.5h0M577.7 185.4h0M577.8 186.4h0M578 185.5h0M578.1 184.7h0M578.3 186.4h0M578.4 185.5h0M578.6 185.4h0M578.7 185h0M578.9 184.4h0M579 184.3h0M579.2 186.6h0M579.3 185.8h0M579.4 185.2h0M579.6 184.2h0M579.7 184.5h0M579.9 184.8h0M580 186.3h0M580.2 185.6h0M580.3 185.8h0M580.5 186.4h0M580.6 184.8h0M580.8 185.8h0M580.9 185.4h0M581.1 185.3h0M581.2 186.2h0M581.4 185.8h0M581.5 186.5h0M581.7 185.6h0M581.8 186.4h0M582 186.5h0M582.1 185.6h0M582.3 184.6h0M582.4 185.9h0M582.6 185h0M582.7 185.3h0M582.9 186h0M583 185.5h0M583.2 185.4h0M583.3 184.4h0M583.5 186.1h0M583.6 185.8h0M583.8 184.5h0M583.9 185.7h0M584.1 190.2h0M584.2 194.5h0M584.4 196.4h0M584.5 195.8h0M584.7 196.6h0M584.8 197.7h0M585 198.2h0M585.1 198.2h0M585.3 200.1h0M585.4 200.1h0M585.5 198.8h0M585.7 199.1h0M585.8 197.6h0M586 199.3h0M586.1 198.8h0M586.3 199.1h0M586.4 200.2h0M586.6 199.5h0M586.7 199.1h0M586.9 200.2h0M587 200.3h0M587.2 200.1h0M587.3 197.9h0M587.5 197.6h0M587.6 199h0M587.8 199.2h0M587.9 198.8h0M588.1 199h0M588.2 197.7h0M588.4 198.7h0M588.5 199.2h0M588.7 198.8h0M588.8 197.4h0M589 198.5h0M589.1 198.5h0M589.3 199h0M589.4 199.1h0M589.6 198.1h0M589.7 199.5h0M589.9 198.7h0M590 198.1h0M590.2 198.2h0M590.3 199.5h0M590.5 197.6h0M590.6 199.4h0M590.8 199.4h0M590.9 198.5h0M591.1 200h0M591.2 198h0M591.3 199.2h0M591.5 197.4h0M591.6 198.8h0M591.8 197.5h0M591.9 198h0M592.1 199.1h0M592.2 197.2h0M592.4 197.8h0M592.5 197.5h0M592.7 198.5h0M592.8 198.8h0M593 195.7h0M593.1 197.6h0M593.3 196.6h0M593.4 199.1h0M593.6 198.5h0M593.7 196.8h0M593.9 197.1h0M594 197.8h0M594.2 198h0M594.3 198.8h0M594.5 198.9h0M594.6 197.2h0M594.8 196.6h0M594.9 198h0M595.1 197.1h0M595.2 198.1h0M595.4 196.6h0M595.5 197.5h0M595.7 196.2h0M595.8 197.3h0M596 196.9h0M596.1 197h0M596.3 197h0M596.4 196h0M596.6 197.8h0M596.7 196.3h0M596.9 198.1h0M597 196.6h0M597.2 197.1h0M597.3 195.9h0M597.4 196.2h0M597.6 196.4h0M597.7 196.5h0M597.9 196.6h0M598 196.3h0M598.2 196.4h0M598.3 196.8h0M598.5 196.6h0M598.6 195h0M598.8 196.7h0M598.9 196.4h0M599.1 194.9h0M599.2 193.9h0M599.4 191.2h0M599.5 190.3h0M599.7 189h0M599.8 188.6h0M600 187.7h0M600.1 187.4h0M600.3 186.7h0M600.4 186.9h0M600.6 186.6h0M600.7 185.7h0M600.9 187.2h0M601 185.5h0M601.2 186h0M601.3 185.6h0M601.5 185.3h0M601.6 186.7h0M601.8 184.6h0M601.9 185.5h0M602.1 183.6h0M602.2 185.4h0M602.4 185.4h0M602.5 185.1h0M602.7 184.8h0M602.8 185.9h0M603 185.7h0M603.1 185h0M603.3 184h0M603.4 185.4h0M603.5 185.2h0M603.7 184.9h0M603.8 185h0M604 184.6h0M604.1 184.3h0M604.3 184.9h0M604.4 186.5h0M604.6 185.1h0M604.7 186.4h0M604.9 185.4h0M605 184.5h0M605.2 185.3h0M605.3 185.5h0M605.5 184.9h0M605.6 184.6h0M605.8 184.5h0M605.9 184h0M606.1 185.5h0M606.2 184.4h0M606.4 185h0M606.5 184.7h0M606.7 184.7h0M606.8 185.5h0M607 186h0M607.1 184.9h0M607.3 184h0M607.4 185.1h0M607.6 185.1h0M607.7 185.8h0M607.9 184.7h0M608 184.6h0M608.2 185h0M608.3 183.8h0M608.5 183.7h0M608.6 184.5h0M608.8 186.1h0M608.9 185.4h0M609.1 183.8h0M609.2 185.9h0M609.4 184.4h0M609.5 185.5h0M609.6 185h0M609.8 185.1h0M609.9 186.1h0M610.1 184.6h0M610.2 185.7h0M610.4 185.3h0M610.5 185.3h0M610.7 184.9h0M610.8 184.4h0M611 185.8h0M611.1 185.1h0M611.3 184.9h0M611.4 183.8h0M611.6 185.4h0M611.7 183.8h0M611.9 184.5h0M612 185.3h0M612.2 184.7h0M612.3 185.7h0M612.5 186.1h0M612.6 185.6h0M612.8 183.9h0M612.9 185.6h0M613.1 185.3h0M613.2 183.7h0M613.4 185.2h0M613.5 186h0M613.7 185.4h0M613.8 190.2h0M614 195.2h0M614.1 197.3h0M614.3 198.9h0M614.4 200.1h0M614.6 199.9h0M614.7 200.5h0M614.9 201.1h0M615 200.7h0M615.2 201.8h0M615.3 200.4h0M615.5 200.2h0M615.6 199.9h0M615.7 201.2h0M615.9 201.6h0M616 200.5h0M616.2 201.1h0M616.3 201.4h0M616.5 201.6h0M616.6 200.6h0M616.8 201.5h0M616.9 200.6h0M617.1 200.4h0M617.2 201.4h0M617.4 200.9h0M617.5 199.9h0M617.7 200.5h0M617.8 201.3h0M618 201.7h0M618.1 201.9h0M618.3 201h0M618.4 201h0M618.6 201.6h0M618.7 201.4h0M618.9 201.7h0M619 201h0M619.2 201.6h0M619.3 199.7h0M619.5 200.4h0M619.6 201.2h0M619.8 199.9h0M619.9 200h0M620.1 201.6h0M620.2 199.5h0M620.4 200.3h0M620.5 200.4h0M620.7 201h0M620.8 199.4h0M621 201.8h0M621.1 199.5h0M621.3 199.7h0M621.4 201.7h0M621.6 200.6h0M621.7 200.8h0M621.8 200.5h0M622 200.5h0M622.1 199.5h0M622.3 198.4h0M622.4 200.9h0M622.6 199.4h0M622.7 199.7h0M622.9 199.2h0M623 198.6h0M623.2 199.5h0M623.3 201.1h0M623.5 201.1h0M623.6 198.6h0M623.8 199.9h0M623.9 199.8h0M624.1 200.9h0M624.2 201.4h0M624.4 199.8h0M624.5 199.6h0M624.7 200.5h0M624.8 198.1h0M625 200.8h0M625.1 199.3h0M625.3 198.6h0M625.4 197.9h0M625.6 199.2h0M625.7 200.6h0M625.9 198.8h0M626 197.9h0M626.2 199.3h0M626.3 197.9h0M626.5 198.8h0M626.6 198.4h0M626.8 199.2h0M626.9 197.2h0M627.1 199.5h0M627.2 198.1h0M627.4 199.9h0M627.5 199.1h0M627.7 198.4h0M627.8 198.8h0M627.9 196.1h0M628.1 198.2h0M628.2 198.8h0M628.4 198.3h0M628.5 200.4h0M628.7 198.4h0M628.8 197.3h0M629 192.6h0M629.1 189.7h0M629.3 188.3h0M629.4 187.1h0M629.6 186.2h0M629.7 186.6h0M629.9 185.5h0M630 186.5h0M630.2 185.7h0M630.3 185.6h0M630.5 184.1h0M630.6 184.1h0M630.8 184.7h0M630.9 183.2h0M631.1 183.2h0M631.2 183.8h0M631.4 184.9h0M631.5 183.9h0M631.7 182.7h0M631.8 184.3h0M632 182.9h0M632.1 184.1h0M632.3 183h0M632.4 184.6h0M632.6 182.7h0M632.7 184.2h0M632.9 184.5h0M633 183.7h0M633.2 183.2h0M633.3 182.4h0M633.5 184.7h0M633.6 183.5h0M633.8 183.1h0M633.9 182.5h0M634 183.5h0M634.2 183.4h0M634.3 183.6h0M634.5 184.2h0M634.6 182.1h0M634.8 183.6h0M634.9 185.6h0M635.1 182.9h0M635.2 182.7h0M635.4 183.7h0M635.5 182.2h0M635.7 183h0M635.8 183h0M636 182.9h0M636.1 183.7h0M636.3 184.1h0M636.4 183.6h0M636.6 183.5h0M636.7 182.4h0M636.9 184.4h0M637 183h0M637.2 183.9h0M637.3 183.8h0M637.5 183.4h0M637.6 183.4h0M637.8 184.7h0M637.9 183.8h0M638.1 183.1h0M638.2 182.2h0M638.4 183.2h0M638.5 183.6h0M638.7 183.9h0M638.8 183.5h0M639 182.6h0M639.1 183.6h0M639.3 183.2h0M639.4 186h0M639.6 184.1h0M639.7 182.3h0M639.9 184.7h0M640 183.7h0M640.1 183.5h0M640.3 183.7h0M640.4 183.2h0M640.6 184.6h0M640.7 184.5h0M640.9 183h0M641 182.7h0M641.2 184h0M641.3 183.5h0M641.5 183.6h0M641.6 183.5h0M641.8 184.3h0M641.9 183.4h0M642.1 183.3h0M642.2 183.3h0M642.4 184.3h0M642.5 183.4h0M642.7 185.5h0M642.8 184.9h0M643 184.2h0M643.1 184.1h0M643.3 182.9h0M643.4 183.6h0M643.6 188.7h0M643.7 194.5h0M643.9 195.4h0M644 196.3h0M644.2 195.5h0M644.3 196.8h0M644.5 196.4h0M644.6 197.1h0M644.8 197h0M644.9 196.8h0M645.1 197h0M645.2 199.8h0M645.4 197.2h0M645.5 197.7h0M645.7 197h0M645.8 197.6h0M646 198.5h0M646.1 197.6h0M646.2 196.2h0M646.4 196.9h0M646.5 198.4h0M646.7 198.8h0M646.8 197h0M647 197.5h0M647.1 198.8h0M647.3 198.5h0M647.4 196.9h0M647.6 197h0M647.7 197.4h0M647.9 196.7h0M648 197.7h0M648.2 198.1h0M648.3 198.2h0M648.5 197.2h0M648.6 197.9h0M648.8 197.9h0M648.9 197.9h0M649.1 198.1h0M649.2 197.7h0M649.4 196.3h0M649.5 198.5h0M649.7 197.8h0M649.8 198.5h0M650 197.8h0M650.1 197.5h0M650.3 198.1h0M650.4 197h0M650.6 197.5h0M650.7 197.9h0M650.9 197.6h0M651 197.2h0M651.2 197.2h0M651.3 197h0M651.5 197.1h0M651.6 197.2h0M651.8 194.7h0M651.9 196.7h0M652.1 197.6h0M652.2 197.8h0M652.3 196.7h0M652.5 196.3h0M652.6 195.9h0M652.8 198h0M652.9 196.7h0M653.1 196.1h0M653.2 195.5h0M653.4 196.6h0M653.5 196.7h0M653.7 195.6h0M653.8 197.2h0M654 196.2h0M654.1 196.9h0M654.3 197h0M654.4 195.7h0M654.6 196.3h0M654.7 197.3h0M654.9 197.1h0M655 195h0M655.2 196.8h0M655.3 196.6h0M655.5 195h0M655.6 195.3h0M655.8 194.7h0M655.9 195.1h0M656.1 195.6h0M656.2 194.4h0M656.4 194.6h0M656.5 196.1h0M656.7 193.9h0M656.8 196h0M657 194.3h0M657.1 194.5h0M657.3 194.3h0M657.4 194.1h0M657.6 194.8h0M657.7 194.6h0M657.9 195h0M658 195.1h0M658.2 194h0M658.3 195.6h0" stroke="#4d4d4d"/>
<path d="M390.5 203.8h0M390.6 188.8h0M390.8 177.3h0M390.9 172.7h0M391.1 172.7h0M391.2 172.1h0M391.4 172.5h0M391.5 170.2h0M391.7 171.3h0M391.8 172.2h0M392 172.1h0M392.1 172.3h0M392.3 171.1h0M392.4 172.4h0M392.6 171h0M392.7 171.1h0M392.9 170.5h0M393 170h0M393.2 171.1h0M393.3 170.5h0M393.5 172.7h0M393.6 172h0M393.8 171.3h0M393.9 171h0M394.1 170.1h0M394.2 173.2h0M394.4 169.6h0M394.5 170.9h0M394.7 172.1h0M394.8 173.4h0M395 172.4h0M395.1 172.8h0M395.3 171.4h0M395.4 171.8h0M395.6 173.4h0M395.7 172.3h0M395.9 173h0M396 172.9h0M396.2 172.9h0M396.3 170.8h0M396.5 171.8h0M396.6 173.2h0M396.7 172.6h0M396.9 172.4h0M397 172.6h0M397.2 172.6h0M397.3 172.6h0M397.5 171.7h0M397.6 172.9h0M397.8 173.7h0M397.9 172.3h0M398.1 171.7h0M398.2 171.6h0M398.4 171.6h0M398.5 172.1h0M398.7 173h0M398.8 173h0M399 170.6h0M399.1 172.7h0M399.3 173.2h0M399.4 170.8h0M399.6 172.1h0M399.7 172.3h0M399.9 173.1h0M400 171.2h0M400.2 172.3h0M400.3 172.8h0M400.5 172.8h0M400.6 170.9h0M400.8 173.6h0M400.9 171.2h0M401.1 171.5h0M401.2 172.1h0M401.4 172.2h0M401.5 172.7h0M401.7 173.3h0M401.8 172.1h0M402 172.4h0M402.1 172.1h0M402.3 170.7h0M402.4 171.8h0M402.6 172.4h0M402.7 173.3h0M402.8 171.8h0M403 171.4h0M403.1 171.3h0M403.3 172.4h0M403.4 174h0M403.6 173.3h0M403.7 171.9h0M403.9 171.9h0M404 172.4h0M404.2 171.4h0M404.3 173.3h0M404.5 171.8h0M404.6 171.4h0M404.8 172.8h0M404.9 173.1h0M405.1 171.7h0M405.2 173.2h0M405.4 173.2h0M405.5 186.9h0M405.7 192.9h0M405.8 196.9h0M406 197.7h0M406.1 201.2h0M406.3 202.8h0M406.4 203.3h0M406.6 203.4h0M406.7 203.7h0M406.9 204.1h0M407 206h0M407.2 205h0M407.3 207.2h0M407.5 207.7h0M407.6 207.7h0M407.8 209.4h0M407.9 210.1h0M408.1 208.6h0M408.2 209.2h0M408.4 211h0M408.5 211.9h0M408.7 211.3h0M408.8 208.5h0M408.9 211.4h0M409.1 211.5h0M409.2 211.3h0M409.4 211.3h0M409.5 211.3h0M409.7 211.4h0M409.8 210.3h0M410 212h0M410.1 210.7h0M410.3 210.8h0M410.4 209.2h0M410.6 211.5h0M410.7 212.4h0M410.9 213.4h0M411 212.6h0M411.2 213h0M411.3 212.7h0M411.5 212.6h0M411.6 214.5h0M411.8 212.1h0M411.9 212.8h0M412.1 210.8h0M412.2 213h0M412.4 212.7h0M412.5 211.9h0M412.7 210.7h0M412.8 210.2h0M413 211h0M413.1 211.5h0M413.3 213.3h0M413.4 210.5h0M413.6 212.1h0M413.7 211.2h0M413.9 209.3h0M414 209.7h0M414.2 211.6h0M414.3 212.1h0M414.5 209.7h0M414.6 210.7h0M414.8 209.3h0M414.9 210.2h0M415 211.1h0M415.2 209.6h0M415.3 209.1h0M415.5 210.2h0M415.6 209.6h0M415.8 210.4h0M415.9 209.5h0M416.1 209.8h0M416.2 209h0M416.4 209.1h0M416.5 209.6h0M416.7 208.7h0M416.8 210h0M417 209h0M417.1 208.9h0M417.3 209.4h0M417.4 208.8h0M417.6 207.2h0M417.7 207.8h0M417.9 207.9h0M418 208.4h0M418.2 209.4h0M418.3 207.8h0M418.5 206.7h0M418.6 206.6h0M418.8 207.1h0M418.9 207h0M419.1 208h0M419.2 206.8h0M419.4 206.6h0M419.5 207.9h0M419.7 204.8h0M419.8 206.3h0M420 205.1h0M420.1 206h0M420.3 206.4h0M420.4 188.2h0M420.6 177h0M420.7 172.5h0M420.9 170.5h0M421 170.1h0M421.1 171.5h0M421.3 170.4h0M421.4 169.4h0M421.6 171.2h0M421.7 171.4h0M421.9 169.4h0M422 170.3h0M422.2 170.6h0M422.3 171.5h0M422.5 170h0M422.6 170.8h0M422.8 170.6h0M422.9 170.9h0M423.1 172.8h0M423.2 170.8h0M423.4 169.9h0M423.5 169.9h0M423.7 171.9h0M423.8 171.4h0M424 170.7h0M424.1 171.9h0M424.3 171.9h0M424.4 171.1h0M424.6 170.8h0M424.7 172h0M424.9 171.3h0M425 171.7h0M425.2 173.1h0M425.3 171.2h0M425.5 173.3h0M425.6 172.1h0M425.8 171.4h0M425.9 170.2h0M426.1 171.6h0M426.2 171.5h0M426.4 171.5h0M426.5 172h0M426.7 172.4h0M426.8 174.3h0M427 172.4h0M427.1 170.4h0M427.2 172.9h0M427.4 172.6h0M427.5 173.9h0M427.7 169.3h0M427.8 173.3h0M428 172.2h0M428.1 171.9h0M428.3 172.6h0M428.4 173h0M428.6 172.5h0M428.7 173h0M428.9 173h0M429 173h0M429.2 172.6h0M429.3 172.8h0M429.5 172.9h0M429.6 172.8h0M429.8 173.5h0M429.9 172.8h0M430.1 173.6h0M430.2 174h0M430.4 172.9h0M430.5 175.2h0M430.7 173.5h0M430.8 173.6h0M431 171.7h0M431.1 172.5h0M431.3 173.9h0M431.4 173.7h0M431.6 173.6h0M431.7 172.1h0M431.9 171.5h0M432 174.2h0M432.2 172.4h0M432.3 172.4h0M432.5 171.7h0M432.6 173.9h0M432.8 173.1h0M432.9 173.5h0M433.1 175.1h0M433.2 171.3h0M433.3 173.6h0M433.5 174.1h0M433.6 173.9h0M433.8 174.4h0M433.9 174.1h0M434.1 174.6h0M434.2 173.1h0M434.4 174.2h0M434.5 173.2h0M434.7 174.3h0M434.8 175.2h0M435 174.8h0M435.1 173.7h0M435.3 185.6h0M435.4 192.7h0M435.6 196.5h0M435.7 197h0M435.9 198.8h0M436 201.3h0M436.2 200h0M436.3 202.9h0M436.5 204.7h0M436.6 203.7h0M436.8 206h0M436.9 205.3h0M437.1 204.4h0M437.2 205.6h0M437.4 207.2h0M437.5 207.3h0M437.7 204.5h0M437.8 207.8h0M438 207.6h0M438.1 206.7h0M438.3 208.8h0M438.4 207.3h0M438.6 208.4h0M438.7 209.5h0M438.9 208.7h0M439 208.5h0M439.2 208.4h0M439.3 209.1h0M439.4 209.2h0M439.6 208.3h0M439.7 207.9h0M439.9 209.8h0M440 210.6h0M440.2 209.4h0M440.3 208.8h0M440.5 209.5h0M440.6 210.4h0M440.8 209.5h0M440.9 209.3h0M441.1 209.5h0M441.2 210h0M441.4 206.9h0M441.5 210.5h0M441.7 209.6h0M441.8 210h0M442 209.8h0M442.1 210h0M442.3 208.8h0M442.4 209.5h0M442.6 209.2h0M442.7 210.4h0M442.9 207.1h0M443 209.9h0M443.2 208.2h0M443.3 207h0M443.5 210.7h0M443.6 208.9h0M443.8 208.5h0M443.9 207.9h0M444.1 208.1h0M444.2 206.4h0M444.4 207.4h0M444.5 208.6h0M444.7 207.3h0M444.8 208.3h0M445 207.6h0M445.1 208.4h0M445.3 208.8h0M445.4 206.6h0M445.5 209h0M445.7 208.3h0M445.8 205.7h0M446 208.3h0M446.1 206.4h0M446.3 208.1h0M446.4 208.6h0M446.6 205.7h0M446.7 206.8h0M446.9 206.6h0M447 207.2h0M447.2 206.1h0M447.3 206.5h0M447.5 205.9h0M447.6 205.5h0M447.8 205.2h0M447.9 205.6h0M448.1 204.2h0M448.2 203.1h0M448.4 203.8h0M448.5 203.5h0M448.7 205.2h0M448.8 204.3h0M449 204.2h0M449.1 203.3h0M449.3 204.2h0M449.4 202.8h0M449.6 201.9h0M449.7 201.8h0M449.9 202.8h0M450 203.8h0M450.2 190.7h0M450.3 175.8h0M450.5 169.3h0M450.6 167.5h0M450.8 168.1h0M450.9 166.7h0M451.1 169.1h0M451.2 169.3h0M451.4 169.7h0M451.5 167h0M451.6 168.4h0M451.8 166.9h0M451.9 167.8h0M452.1 168.6h0M452.2 168.1h0M452.4 168.6h0M452.5 168.1h0M452.7 168.4h0M452.8 169.6h0M453 169.4h0M453.1 168.3h0M453.3 168.6h0M453.4 169.6h0M453.6 166.6h0M453.7 167.5h0M453.9 170.2h0M454 169.1h0M454.2 169.9h0M454.3 170.4h0M454.5 170.2h0M454.6 168.9h0M454.8 170.1h0M454.9 169.8h0M455.1 170.4h0M455.2 168.4h0M455.4 170.8h0M455.5 169.9h0M455.7 170.6h0M455.8 169.3h0M456 170.9h0M456.1 170.9h0M456.3 169.8h0M456.4 169.8h0M456.6 170.8h0M456.7 169.9h0M456.9 171h0M457 172.4h0M457.2 171.1h0M457.3 170.6h0M457.4 172h0M457.6 170.6h0M457.7 171.8h0M457.9 170.3h0M458 172h0M458.2 171.9h0M458.3 170.5h0M458.5 170.9h0M458.6 169.9h0M458.8 170.7h0M458.9 172.6h0M459.1 171.8h0M459.2 171h0M459.4 170.9h0M459.5 169.8h0M459.7 171.9h0M459.8 171.9h0M460 172.7h0M460.1 171.5h0M460.3 170.6h0M460.4 172h0M460.6 170.3h0M460.7 173.5h0M460.9 174.1h0M461 172.6h0M461.2 173.3h0M461.3 173.1h0M461.5 172.7h0M461.6 172.2h0M461.8 172.2h0M461.9 173.8h0M462.1 171.6h0M462.2 175.1h0M462.4 173.6h0M462.5 173.1h0M462.7 173.4h0M462.8 172.5h0M463 172.6h0M463.1 173.2h0M463.3 173h0M463.4 173.9h0M463.5 175h0M463.7 174.1h0M463.8 174.6h0M464 173.5h0M464.1 173.3h0M464.3 174h0M464.4 173.5h0M464.6 173h0M464.7 172.7h0M464.9 173h0M465 186.3h0M465.2 192.9h0M465.3 194.5h0M465.5 196.1h0M465.6 198.2h0M465.8 199.8h0M465.9 200.6h0M466.1 200.1h0M466.2 201.4h0M466.4 201.3h0M466.5 201.5h0M466.7 204h0M466.8 203h0M467 203.5h0M467.1 207.4h0M467.3 205.4h0M467.4 204.1h0M467.6 205h0M467.7 205.8h0M467.9 205.1h0M468 205.7h0M468.2 205.8h0M468.3 206.6h0M468.5 206.5h0M468.6 208.3h0M468.8 208.7h0M468.9 206.4h0M469.1 208h0M469.2 206.8h0M469.4 208.7h0M469.5 206.7h0M469.6 207.4h0M469.8 206.8h0M469.9 207.9h0M470.1 205.7h0M470.2 208.7h0M470.4 207.7h0M470.5 207.5h0M470.7 206.2h0M470.8 208.5h0M471 206.8h0M471.1 209h0M471.3 206.7h0M471.4 207.6h0M471.6 207.4h0M471.7 209.4h0M471.9 209.6h0M472 207.9h0M472.2 207h0M472.3 209.3h0M472.5 205.7h0M472.6 206.5h0M472.8 208.1h0M472.9 207.4h0M473.1 207.5h0M473.2 206.7h0M473.4 208.9h0M473.5 206.2h0M473.7 207.6h0M473.8 205.9h0M474 206h0M474.1 208.3h0M474.3 206.2h0M474.4 205.9h0M474.6 207.5h0M474.7 205.5h0M474.9 207h0M475 204.3h0M475.2 205.1h0M475.3 204.6h0M475.5 203.7h0M475.6 206.3h0M475.7 205h0M475.9 204.4h0M476 205.5h0M476.2 205.5h0M476.3 204.5h0M476.5 204h0M476.6 206.2h0M476.8 206h0M476.9 203.6h0M477.1 205.1h0M477.2 204.2h0M477.4 204.6h0M477.5 204.8h0M477.7 203.8h0M477.8 203.5h0M478 203.5h0M478.1 202.7h0M478.3 206.1h0M478.4 202.2h0M478.6 203.1h0M478.7 202.2h0M478.9 202.6h0M479 203.1h0M479.2 200.5h0M479.3 202.9h0M479.5 201.4h0M479.6 203.8h0M479.8 203.2h0M479.9 187.3h0M480.1 177h0M480.2 171h0M480.4 170.3h0M480.5 171.2h0M480.7 172.5h0M480.8 170.7h0M481 169.4h0M481.1 171.2h0M481.3 170.7h0M481.4 170.2h0M481.6 171h0M481.7 171.2h0M481.8 171h0M482 170.5h0M482.1 171.5h0M482.3 169.8h0M482.4 172.9h0M482.6 170.2h0M482.7 171.7h0M482.9 170.9h0M483 171h0M483.2 172.7h0M483.3 171.7h0M483.5 170.7h0M483.6 170.6h0M483.8 173h0M483.9 171.1h0M484.1 171.5h0M484.2 169.6h0M484.4 171.5h0M484.5 171.8h0M484.7 170.8h0M484.8 171.8h0M485 171.6h0M485.1 172h0M485.3 171.3h0M485.4 172.3h0M485.6 171.1h0M485.7 170.9h0M485.9 172.3h0M486 172.2h0M486.2 172.1h0M486.3 171.7h0M486.5 171h0M486.6 171.7h0M486.8 171.3h0M486.9 172.5h0M487.1 172.3h0M487.2 173h0M487.4 172.3h0M487.5 172.7h0M487.7 173.2h0M487.8 173.7h0M487.9 171.7h0M488.1 171.9h0M488.2 171.9h0M488.4 172.1h0M488.5 172.2h0M488.7 173.3h0M488.8 171.6h0M489 173.1h0M489.1 172.3h0M489.3 172.1h0M489.4 172.5h0M489.6 173h0M489.7 171.7h0M489.9 171.6h0M490 171.4h0M490.2 172.5h0M490.3 173.2h0M490.5 173.1h0M490.6 170.8h0M490.8 174.5h0M490.9 173.4h0M491.1 172.1h0M491.2 172.9h0M491.4 174h0M491.5 172h0M491.7 172.7h0M491.8 172h0M492 170.6h0M492.1 172.2h0M492.3 173.4h0M492.4 173.9h0M492.6 173.7h0M492.7 173.7h0M492.9 173.1h0M493 173.6h0M493.2 173.7h0M493.3 171.8h0M493.5 173.3h0M493.6 173.1h0M493.8 172.6h0M493.9 174h0M494 173.7h0M494.2 172.4h0M494.3 172.4h0M494.5 174.5h0M494.6 173.3h0M494.8 184.9h0M494.9 192.8h0M495.1 196.7h0M495.2 198.5h0M495.4 198.6h0M495.5 199h0M495.7 199.5h0M495.8 201.5h0M496 201.2h0M496.1 203.4h0M496.3 203.6h0M496.4 201.6h0M496.6 204.3h0M496.7 204.4h0M496.9 205.9h0M497 205h0M497.2 206.9h0M497.3 205.6h0M497.5 207.7h0M497.6 206.8h0M497.8 207h0M497.9 208.2h0M498.1 208.7h0M498.2 206.8h0M498.4 207.2h0M498.5 206.9h0M498.7 207.3h0M498.8 206.9h0M499 207.3h0M499.1 207.5h0M499.3 207.7h0M499.4 207.4h0M499.6 208.7h0M499.7 209.2h0M499.9 208.6h0M500 210.1h0M500.1 206.2h0M500.3 209.4h0M500.4 208.9h0M500.6 208.1h0M500.7 211.5h0M500.9 207.5h0M501 210.4h0M501.2 209.7h0M501.3 208.3h0M501.5 208.7h0M501.6 208.2h0M501.8 209.2h0M501.9 208.3h0M502.1 206.9h0M502.2 207.5h0M502.4 208.7h0M502.5 207.6h0M502.7 210.2h0M502.8 207.9h0M503 210.2h0M503.1 206.9h0M503.3 208.1h0M503.4 207.2h0M503.6 208.2h0M503.7 206.3h0M503.9 207.7h0M504 206.9h0M504.2 205.7h0M504.3 208h0M504.5 208.1h0M504.6 206.9h0M504.8 206.7h0M504.9 208.2h0M505.1 207h0M505.2 206.9h0M505.4 207.4h0M505.5 206.8h0M505.7 204.5h0M505.8 205.6h0M506 204.2h0M506.1 208.2h0M506.2 205.2h0M506.4 204.8h0M506.5 204.9h0M506.7 204.9h0M506.8 203.9h0M507 206.7h0M507.1 204.1h0M507.3 205.1h0M507.4 204h0M507.6 205.3h0M507.7 204.3h0M507.9 204.9h0M508 203.9h0M508.2 203.1h0M508.3 204.4h0M508.5 204.1h0M508.6 202.4h0M508.8 202.8h0M508.9 203h0M509.1 204.8h0M509.2 203.5h0M509.4 203.7h0M509.5 203.8h0M509.7 189.2h0M509.8 178.2h0M510 171.6h0M510.1 172h0M510.3 173.2h0M510.4 173.5h0M510.6 173h0M510.7 173.4h0M510.9 173.8h0M511 172.8h0M511.2 172h0M511.3 172.8h0M511.5 172.6h0M511.6 172.8h0M511.8 172.3h0M511.9 172.1h0M512.1 172.9h0M512.2 172.6h0M512.3 174.3h0M512.5 172.5h0M512.6 173.5h0M512.8 173h0M512.9 172h0M513.1 172.3h0M513.2 173h0M513.4 174.1h0M513.5 174.8h0M513.7 174.1h0M513.8 172.9h0M514 174h0M514.1 174h0M514.3 174h0M514.4 173.7h0M514.6 173.3h0M514.7 173.7h0M514.9 174.9h0M515 173.6h0M515.2 173.2h0M515.3 173.8h0M515.5 172.4h0M515.6 173.3h0M515.8 175.4h0M515.9 173.3h0M516.1 175.1h0M516.2 175.4h0M516.4 173.8h0M516.5 173.3h0M516.7 172.9h0M516.8 174.4h0M517 174.7h0M517.1 173h0M517.3 174.6h0M517.4 174.1h0M517.6 172.1h0M517.7 174.5h0M517.9 174.3h0M518 172.9h0M518.2 174.1h0M518.3 174.4h0M518.4 173.6h0M518.6 174.2h0M518.7 173.8h0M518.9 174.9h0M519 176.5h0M519.2 172.8h0M519.3 174.8h0M519.5 173.6h0M519.6 175.7h0M519.8 174.2h0M519.9 175.4h0M520.1 174h0M520.2 174.1h0M520.4 175.5h0M520.5 175.4h0M520.7 174.3h0M520.8 175h0M521 174.9h0M521.1 175.2h0M521.3 175.8h0M521.4 174.8h0M521.6 175.8h0M521.7 175.2h0M521.9 175.2h0M522 174.8h0M522.2 175h0M522.3 175.4h0M522.5 176.2h0M522.6 175.6h0M522.8 174.5h0M522.9 176.3h0M523.1 174.6h0M523.2 174.7h0M523.4 174h0M523.5 175.4h0M523.7 175.4h0M523.8 174.1h0M524 177h0M524.1 176.1h0M524.3 174.8h0M524.4 175.9h0M524.5 187.4h0M524.7 193.5h0M524.8 197.5h0M525 198.4h0M525.1 198.1h0M525.3 200h0M525.4 201.2h0M525.6 201.6h0M525.7 203.9h0M525.9 202.3h0M526 202.6h0M526.2 204.8h0M526.3 206.6h0M526.5 205.4h0M526.6 205.7h0M526.8 207.1h0M526.9 206.3h0M527.1 206.9h0M527.2 206h0M527.4 206.8h0M527.5 206.7h0M527.7 205.7h0M527.8 206.2h0M528 207.1h0M528.1 205.8h0M528.3 207.2h0M528.4 206.7h0M528.6 207h0M528.7 208.5h0M528.9 207.3h0M529 209h0M529.2 210.4h0M529.3 208.8h0M529.5 208.7h0M529.6 209.4h0M529.8 209.5h0M529.9 208h0M530.1 206.1h0M530.2 210h0M530.4 209.7h0M530.5 208.2h0M530.6 209.1h0M530.8 208h0M530.9 207.1h0M531.1 208.1h0M531.2 208.3h0M531.4 206.6h0M531.5 209h0M531.7 207.4h0M531.8 207.6h0M532 207.5h0M532.1 209.2h0M532.3 208.6h0M532.4 207.5h0M532.6 208.1h0M532.7 208.3h0M532.9 206.8h0M533 208.1h0M533.2 207.3h0M533.3 206.3h0M533.5 207h0M533.6 207.3h0M533.8 205.6h0M533.9 207.6h0M534.1 207.3h0M534.2 207h0M534.4 207h0M534.5 207.4h0M534.7 206.1h0M534.8 207.5h0M535 206.1h0M535.1 206.6h0M535.3 203.8h0M535.4 206.1h0M535.6 205.7h0M535.7 206h0M535.9 207.5h0M536 206.7h0M536.2 206.4h0M536.3 203.3h0M536.5 204.5h0M536.6 204.8h0M536.7 205.4h0M536.9 203.6h0M537 205.8h0M537.2 204.9h0M537.3 202.4h0M537.5 202h0M537.6 205.3h0M537.8 202h0M537.9 205.7h0M538.1 204h0M538.2 201h0M538.4 205.4h0M538.5 203.4h0M538.7 203.6h0M538.8 202.6h0M539 202.5h0M539.1 202.8h0M539.3 204.3h0M539.4 188.8h0M539.6 174.3h0M539.7 165.5h0M539.9 165.7h0M540 167.2h0M540.2 166.2h0M540.3 166.9h0M540.5 165.4h0M540.6 166.7h0M540.8 166.5h0M540.9 165.1h0M541.1 166.2h0M541.2 166.6h0M541.4 166.3h0M541.5 165.3h0M541.7 165.7h0M541.8 165.7h0M542 164.7h0M542.1 167.5h0M542.3 167.1h0M542.4 165.8h0M542.6 166.7h0M542.7 167.7h0M542.8 167.6h0M543 166.8h0M543.1 166.6h0M543.3 167.7h0M543.4 165.4h0M543.6 169.2h0M543.7 167.8h0M543.9 167.9h0M544 167.4h0M544.2 169.5h0M544.3 167h0M544.5 168.4h0M544.6 169.6h0M544.8 168.5h0M544.9 169.6h0M545.1 169.2h0M545.2 169.2h0M545.4 170.3h0M545.5 169.6h0M545.7 169.8h0M545.8 169h0M546 171.4h0M546.1 168h0M546.3 169.2h0M546.4 169.1h0M546.6 170.5h0M546.7 170.4h0M546.9 170.3h0M547 169.9h0M547.2 170h0M547.3 170.7h0M547.5 169.3h0M547.6 169.8h0M547.8 170h0M547.9 171.1h0M548.1 171.7h0M548.2 172.4h0M548.4 172.1h0M548.5 171.2h0M548.7 171.1h0M548.8 172.6h0M548.9 171.7h0M549.1 169.7h0M549.2 172.1h0M549.4 171.1h0M549.5 172.1h0M549.7 172.2h0M549.8 172.5h0M550 172.5h0M550.1 171.1h0M550.3 172.1h0M550.4 173h0M550.6 174.3h0M550.7 172.3h0M550.9 175.5h0M551 173.6h0M551.2 173.7h0M551.3 173h0M551.5 174.3h0M551.6 172.8h0M551.8 172.6h0M551.9 173.7h0M552.1 173.8h0M552.2 173.1h0M552.4 172.9h0M552.5 173.6h0M552.7 173.6h0M552.8 173h0M553 172.5h0M553.1 174.6h0M553.3 174.6h0M553.4 174.2h0M553.6 174.9h0M553.7 173.5h0M553.9 175.1h0M554 174.6h0M554.2 175.3h0M554.3 183.7h0M554.5 193.1h0M554.6 198.2h0M554.8 197.5h0M554.9 199.5h0M555 199.7h0M555.2 200.3h0M555.3 202.2h0M555.5 201.7h0M555.6 202.7h0M555.8 204.4h0M555.9 204.9h0M556.1 203.5h0M556.2 205.2h0M556.4 203.8h0M556.5 205.5h0M556.7 204.9h0M556.8 204.4h0M557 205.9h0M557.1 206.6h0M557.3 206.5h0M557.4 205.2h0M557.6 209.4h0M557.7 207h0M557.9 209.3h0M558 207.7h0M558.2 207.8h0M558.3 207.1h0M558.5 208.4h0M558.6 209.1h0M558.8 209.1h0M558.9 209.5h0M559.1 210.1h0M559.2 208.8h0M559.4 208.2h0M559.5 209.4h0M559.7 209.7h0M559.8 209h0M560 209.2h0M560.1 206.6h0M560.3 208.9h0M560.4 207.3h0M560.6 210.3h0M560.7 209.6h0M560.9 208.5h0M561 207.9h0M561.1 207.6h0M561.3 208.5h0M561.4 208.4h0M561.6 208.8h0M561.7 207.3h0M561.9 209.2h0M562 208.4h0M562.2 207.9h0M562.3 208.5h0M562.5 206.6h0M562.6 207.8h0M562.8 208.2h0M562.9 206.3h0M563.1 208.6h0M563.2 208.4h0M563.4 208.8h0M563.5 206.7h0M563.7 208.5h0M563.8 205.5h0M564 207.7h0M564.1 206.2h0M564.3 207.2h0M564.4 206.2h0M564.6 206.5h0M564.7 206.5h0M564.9 205.6h0M565 207.2h0M565.2 207.7h0M565.3 206h0M565.5 205h0M565.6 204h0M565.8 205.9h0M565.9 204.3h0M566.1 204.8h0M566.2 206.5h0M566.4 205.6h0M566.5 203.7h0M566.7 205.7h0M566.8 205h0M567 205.3h0M567.1 206.3h0M567.2 203.2h0M567.4 203.6h0M567.5 204.1h0M567.7 203.7h0M567.8 201.8h0M568 204.4h0M568.1 204.1h0M568.3 204.8h0M568.4 204.4h0M568.6 203.9h0M568.7 202.3h0M568.9 202.6h0M569 202.1h0M569.2 190.9h0M569.3 179.3h0M569.5 171.5h0M569.6 173.1h0M569.8 171.7h0M569.9 172.4h0M570.1 172.1h0M570.2 172.5h0M570.4 173.7h0M570.5 172.8h0M570.7 172.5h0M570.8 173.3h0M571 174.4h0M571.1 172.8h0M571.3 172.1h0M571.4 173.6h0M571.6 172.6h0M571.7 172.8h0M571.9 173.8h0M572 173.3h0M572.2 172.8h0M572.3 173.6h0M572.5 173.6h0M572.6 173.7h0M572.8 173.7h0M572.9 172.9h0M573.1 172.2h0M573.2 173.2h0M573.3 174.8h0M573.5 172.8h0M573.6 173h0M573.8 172h0M573.9 174h0M574.1 173.4h0M574.2 174.2h0M574.4 172h0M574.5 172.4h0M574.7 174.8h0M574.8 174.2h0M575 174.2h0M575.1 173.3h0M575.3 174.1h0M575.4 173.9h0M575.6 173h0M575.7 174.3h0M575.9 174.1h0M576 174.8h0M576.2 175.2h0M576.3 172.1h0M576.5 174.7h0M576.6 172.6h0M576.8 172.5h0M576.9 174.4h0M577.1 172.8h0M577.2 173.1h0M577.4 174.3h0M577.5 174h0M577.7 174.9h0M577.8 173.4h0M578 174.5h0M578.1 173.4h0M578.3 174.4h0M578.4 175.7h0M578.6 175.6h0M578.7 174.3h0M578.9 173.2h0M579 173.7h0M579.2 174.5h0M579.3 174.2h0M579.4 174.6h0M579.6 174.3h0M579.7 174h0M579.9 174.8h0M580 174.9h0M580.2 174.3h0M580.3 174.6h0M580.5 173.9h0M580.6 176.4h0M580.8 173.1h0M580.9 176.3h0M581.1 173.3h0M581.2 175.2h0M581.4 174.5h0M581.5 173.4h0M581.7 173.7h0M581.8 175.5h0M582 175.2h0M582.1 173h0M582.3 175h0M582.4 174.9h0M582.6 175h0M582.7 175.8h0M582.9 173.9h0M583 174.9h0M583.2 176h0M583.3 175.7h0M583.5 175h0M583.6 175.7h0M583.8 173.7h0M583.9 175.1h0M584.1 186.8h0M584.2 191.8h0M584.4 196.9h0M584.5 198.5h0M584.7 199.3h0M584.8 198.7h0M585 200.7h0M585.1 201.7h0M585.3 202.3h0M585.4 201.8h0M585.5 203.2h0M585.7 207h0M585.8 205h0M586 203.8h0M586.1 207.2h0M586.3 205.8h0M586.4 206.4h0M586.6 205.8h0M586.7 206.8h0M586.9 206.4h0M587 207.8h0M587.2 208.3h0M587.3 209.2h0M587.5 207.6h0M587.6 206.3h0M587.8 206.8h0M587.9 207.1h0M588.1 208.1h0M588.2 209h0M588.4 208.3h0M588.5 207.9h0M588.7 208.2h0M588.8 208.2h0M589 208.1h0M589.1 208.6h0M589.3 206.9h0M589.4 209.1h0M589.6 207.4h0M589.7 207.5h0M589.9 206.9h0M590 210.3h0M590.2 208.4h0M590.3 206.8h0M590.5 210.8h0M590.6 208.6h0M590.8 209.3h0M590.9 210h0M591.1 207.8h0M591.2 208.5h0M591.3 209.4h0M591.5 210h0M591.6 209.8h0M591.8 208.5h0M591.9 209.3h0M592.1 207.2h0M592.2 207.8h0M592.4 205.6h0M592.5 209h0M592.7 208.3h0M592.8 209.7h0M593 206.8h0M593.1 208.3h0M593.3 207.2h0M593.4 207.9h0M593.6 207.2h0M593.7 206.6h0M593.9 205.6h0M594 207h0M594.2 206.2h0M594.3 207.2h0M594.5 206.1h0M594.6 206.6h0M594.8 205.7h0M594.9 205.5h0M595.1 205.9h0M595.2 205h0M595.4 205.2h0M595.5 205.5h0M595.7 204.6h0M595.8 204.6h0M596 206h0M596.1 203.8h0M596.3 206.7h0M596.4 206.5h0M596.6 205.6h0M596.7 205.3h0M596.9 204.2h0M597 205h0M597.2 204.2h0M597.3 204.5h0M597.4 203.9h0M597.6 202h0M597.7 203h0M597.9 203.7h0M598 202.6h0M598.2 204.2h0M598.3 202.3h0M598.5 202.4h0M598.6 202.8h0M598.8 204.3h0M598.9 189.3h0M599.1 178.3h0M599.2 170.1h0M599.4 170.5h0M599.5 170.7h0M599.7 169.7h0M599.8 169.4h0M600 171.5h0M600.1 171.3h0M600.3 170.4h0M600.4 171.3h0M600.6 169.2h0M600.7 169.3h0M600.9 171.6h0M601 170.9h0M601.2 170.1h0M601.3 170.7h0M601.5 170.7h0M601.6 171h0M601.8 169.4h0M601.9 172.7h0M602.1 171.6h0M602.2 167.8h0M602.4 170.2h0M602.5 171.6h0M602.7 172.9h0M602.8 169.9h0M603 170.8h0M603.1 172h0M603.3 171.7h0M603.4 171.2h0M603.5 172.4h0M603.7 169.6h0M603.8 170.6h0M604 170h0M604.1 171.9h0M604.3 171.6h0M604.4 170.6h0M604.6 171.1h0M604.7 171.7h0M604.9 170.1h0M605 169.7h0M605.2 171.6h0M605.3 170.1h0M605.5 171.7h0M605.6 172h0M605.8 170.9h0M605.9 172.1h0M606.1 172.6h0M606.2 170.5h0M606.4 172.3h0M606.5 170h0M606.7 172.9h0M606.8 172.3h0M607 169.4h0M607.1 171h0M607.3 170.6h0M607.4 171.9h0M607.6 171.9h0M607.7 172h0M607.9 172.6h0M608 172.7h0M608.2 171.4h0M608.3 171.1h0M608.5 171.8h0M608.6 170.7h0M608.8 172.2h0M608.9 172.4h0M609.1 172.8h0M609.2 171.4h0M609.4 171.7h0M609.5 171.8h0M609.6 172.5h0M609.8 173.3h0M609.9 173.5h0M610.1 171.8h0M610.2 171.5h0M610.4 172h0M610.5 172.2h0M610.7 171h0M610.8 171.9h0M611 172.1h0M611.1 172.6h0M611.3 171.3h0M611.4 172.6h0M611.6 172.8h0M611.7 172.7h0M611.9 172.6h0M612 172.6h0M612.2 172h0M612.3 172.2h0M612.5 172h0M612.6 172.5h0M612.8 171.3h0M612.9 172.6h0M613.1 171.8h0M613.2 172.7h0M613.4 170.2h0M613.5 171.9h0M613.7 173.8h0M613.8 185.9h0M614 191.9h0M614.1 198h0M614.3 197.4h0M614.4 199.8h0M614.6 198.9h0M614.7 199.5h0M614.9 202.4h0M615 202.3h0M615.2 202.4h0M615.3 201.8h0M615.5 206.1h0M615.6 204.2h0M615.7 204.9h0M615.9 205.1h0M616 205.1h0M616.2 206.8h0M616.3 207.3h0M616.5 208.1h0M616.6 207h0M616.8 207.3h0M616.9 207.6h0M617.1 209h0M617.2 208.1h0M617.4 207.6h0M617.5 209.5h0M617.7 208.3h0M617.8 206.5h0M618 207.6h0M618.1 209.6h0M618.3 208.9h0M618.4 208.9h0M618.6 207.7h0M618.7 208.2h0M618.9 209.5h0M619 210.3h0M619.2 207.3h0M619.3 209.7h0M619.5 209.6h0M619.6 208.4h0M619.8 210.9h0M619.9 210h0M620.1 210.9h0M620.2 208.4h0M620.4 207.9h0M620.5 208.9h0M620.7 208.3h0M620.8 209.6h0M621 208.1h0M621.1 207.8h0M621.3 208.9h0M621.4 207.3h0M621.6 206.2h0M621.7 208.1h0M621.8 208.2h0M622 208.3h0M622.1 207.2h0M622.3 208.6h0M622.4 209h0M622.6 208.9h0M622.7 209.4h0M622.9 205.8h0M623 207.1h0M623.2 206.8h0M623.3 207.8h0M623.5 208.5h0M623.6 207.1h0M623.8 206.3h0M623.9 206.3h0M624.1 206.7h0M624.2 205.7h0M624.4 205.3h0M624.5 203.8h0M624.7 205.2h0M624.8 207h0M625 207.2h0M625.1 205.5h0M625.3 206.5h0M625.4 203.3h0M625.6 205.2h0M625.7 205h0M625.9 202.6h0M626 204.5h0M626.2 203.4h0M626.3 205.3h0M626.5 203.9h0M626.6 204.3h0M626.8 204.2h0M626.9 203.9h0M627.1 204.2h0M627.2 202.1h0M627.4 203.3h0M627.5 203.3h0M627.7 203.7h0M627.8 201.8h0M627.9 200.9h0M628.1 204.5h0M628.2 203.5h0M628.4 202.2h0M628.5 203.2h0M628.7 189.3h0M628.8 178.2h0M629 171h0M629.1 171h0M629.3 170.4h0M629.4 169.8h0M629.6 170.5h0M629.7 169.6h0M629.9 170.7h0M630 171.4h0M630.2 170.3h0M630.3 169.6h0M630.5 170h0M630.6 169.2h0M630.8 168.3h0M630.9 171.5h0M631.1 169.8h0M631.2 169.7h0M631.4 171h0M631.5 171.4h0M631.7 170.8h0M631.8 170.1h0M632 170.2h0M632.1 169.9h0M632.3 170.1h0M632.4 169.6h0M632.6 170.7h0M632.7 171.7h0M632.9 171h0M633 171.4h0M633.2 171.3h0M633.3 172.9h0M633.5 170.5h0M633.6 170.6h0M633.8 169.4h0M633.9 172.2h0M634 169.8h0M634.2 171.4h0M634.3 170.1h0M634.5 171.8h0M634.6 169.3h0M634.8 170.6h0M634.9 172.1h0M635.1 171.3h0M635.2 172h0M635.4 172.5h0M635.5 171.3h0M635.7 170.7h0M635.8 170.8h0M636 173.3h0M636.1 171.1h0M636.3 170.7h0M636.4 171.8h0M636.6 173.4h0M636.7 172.5h0M636.9 169.9h0M637 171.3h0M637.2 171.4h0M637.3 171h0M637.5 173.4h0M637.6 173.4h0M637.8 173h0M637.9 172.1h0M638.1 173.5h0M638.2 173.4h0M638.4 171.4h0M638.5 172.1h0M638.7 172.2h0M638.8 171.6h0M639 172.1h0M639.1 172.9h0M639.3 172h0M639.4 173.9h0M639.6 171.4h0M639.7 171.1h0M639.9 170.7h0M640 172.6h0M640.1 172.4h0M640.3 172.5h0M640.4 172.1h0M640.6 174.3h0M640.7 174.2h0M640.9 172.6h0M641 172.5h0M641.2 174.5h0M641.3 173h0M641.5 173.8h0M641.6 173.8h0M641.8 172.3h0M641.9 174h0M642.1 172.7h0M642.2 173.6h0M642.4 174.2h0M642.5 173.1h0M642.7 173.5h0M642.8 173.9h0M643 172.9h0M643.1 172.2h0M643.3 174.1h0M643.4 172.7h0M643.6 185.4h0M643.7 191.8h0M643.9 195.3h0M644 199h0M644.2 198.9h0M644.3 200.7h0M644.5 201.6h0M644.6 203.3h0M644.8 204.6h0M644.9 204.4h0M645.1 205.2h0M645.2 204.9h0M645.4 205.4h0M645.5 205.4h0M645.7 205.1h0M645.8 208.3h0M646 207.1h0M646.1 208.4h0M646.2 207.8h0M646.4 206.5h0M646.5 208.4h0M646.7 210.4h0M646.8 210.8h0M647 209.9h0M647.1 208.6h0M647.3 210.4h0M647.4 209.8h0M647.6 212.4h0M647.7 209.4h0M647.9 209.3h0M648 211.3h0M648.2 210h0M648.3 208.8h0M648.5 208.7h0M648.6 210.5h0M648.8 209.3h0M648.9 209.2h0M649.1 210.9h0M649.2 210.6h0M649.4 209.1h0M649.5 210.3h0M649.7 210.1h0M649.8 210.4h0M650 209.2h0M650.1 209.7h0M650.3 209.6h0M650.4 209h0M650.6 210.3h0M650.7 208.6h0M650.9 210.8h0M651 210h0M651.2 209h0M651.3 208.6h0M651.5 209.5h0M651.6 210.3h0M651.8 208h0M651.9 209.9h0M652.1 207.8h0M652.2 209.2h0M652.3 211.1h0M652.5 209.5h0M652.6 208.1h0M652.8 207.8h0M652.9 207.9h0M653.1 208.4h0M653.2 205.8h0M653.4 208.6h0M653.5 207.9h0M653.7 207.1h0M653.8 206.7h0M654 210.4h0M654.1 208.8h0M654.3 206.3h0M654.4 207.1h0M654.6 208.1h0M654.7 205.7h0M654.9 206.8h0M655 207.6h0M655.2 206.3h0M655.3 206.8h0M655.5 206.4h0M655.6 205.6h0M655.8 207.2h0M655.9 205.6h0M656.1 205.6h0M656.2 205.9h0M656.4 207.8h0M656.5 205.1h0M656.7 203.5h0M656.8 205.4h0M657 205.7h0M657.1 204.8h0M657.3 206.5h0M657.4 203.6h0M657.6 204.9h0M657.7 205.6h0M657.9 202h0M658 204h0M658.2 202.5h0M658.3 203.9h0" stroke="#e0404a"/>
<path d="M390.5 205h0M390.6 166h0M390.8 152h0M390.9 142h0M391.1 137.5h0M391.2 133h0M391.4 127h0M391.5 124.9h0M391.7 120.9h0M391.8 120h0M392 119.6h0M392.1 120.5h0M392.3 117.9h0M392.4 117.7h0M392.6 116.6h0M392.7 117.4h0M392.9 116h0M393 116.2h0M393.2 114.2h0M393.3 113.6h0M393.5 113.7h0M393.6 112.8h0M393.8 112.4h0M393.9 110.1h0M394.1 111.9h0M394.2 110.4h0M394.4 107.9h0M394.5 108.5h0M394.7 109.6h0M394.8 108.5h0M395 108.1h0M395.1 108.4h0M395.3 105h0M395.4 104.7h0M395.6 104.8h0M395.7 105.4h0M395.9 105.3h0M396 104.4h0M396.2 103.6h0M396.3 103.7h0M396.5 103.6h0M396.6 102.5h0M396.7 102.4h0M396.9 103.6h0M397 102.6h0M397.2 102.5h0M397.3 102.6h0M397.5 102h0M397.6 101.5h0M397.8 101.6h0M397.9 100h0M398.1 101h0M398.2 100.9h0M398.4 100.8h0M398.5 100.1h0M398.7 99.7h0M398.8 99.9h0M399 101.2h0M399.1 99.4h0M399.3 97.2h0M399.4 100.1h0M399.6 100.5h0M399.7 100h0M399.9 100.6h0M400 101.6h0M400.2 98.9h0M400.3 99.3h0M400.5 97.7h0M400.6 98.1h0M400.8 99.7h0M400.9 99h0M401.1 100.4h0M401.2 99.9h0M401.4 100.3h0M401.5 99.4h0M401.7 98.2h0M401.8 100.5h0M402 100.1h0M402.1 100.6h0M402.3 99h0M402.4 99.8h0M402.6 100.3h0M402.7 99.6h0M402.8 101.2h0M403 98.2h0M403.1 101h0M403.3 100h0M403.4 100.5h0M403.6 101h0M403.7 99.5h0M403.9 99.3h0M404 101.7h0M404.2 101.3h0M404.3 100.8h0M404.5 100.8h0M404.6 101.7h0M404.8 99.9h0M404.9 100.5h0M405.1 100.5h0M405.2 102.3h0M405.4 105h0M405.5 129h0M405.7 155h0M405.8 163h0M406 168h0M406.1 172h0M406.3 176.4h0M406.4 180.1h0M406.6 183h0M406.7 185h0M406.9 188.3h0M407 190.9h0M407.2 193h0M407.3 198.9h0M407.5 199.9h0M407.6 200.7h0M407.8 197.4h0M407.9 200.1h0M408.1 199.4h0M408.2 202.6h0M408.4 206.3h0M408.5 200.8h0M408.7 206.6h0M408.8 204.3h0M408.9 204h0M409.1 204.2h0M409.2 205.7h0M409.4 206.2h0M409.5 204h0M409.7 205.6h0M409.8 205.3h0M410 207.6h0M410.1 206.8h0M410.3 206.3h0M410.4 204.6h0M410.6 209.4h0M410.7 205.7h0M410.9 207.5h0M411 207.4h0M411.2 209.3h0M411.3 207.7h0M411.5 210h0M411.6 208h0M411.8 208.2h0M411.9 208.2h0M412.1 209h0M412.2 209.8h0M412.4 209.4h0M412.5 209.8h0M412.7 210.8h0M412.8 209.7h0M413 206.4h0M413.1 210.9h0M413.3 207.5h0M413.4 211.8h0M413.6 206.9h0M413.7 206.8h0M413.9 207h0M414 208.9h0M414.2 210.3h0M414.3 212.3h0M414.5 208.8h0M414.6 209.5h0M414.8 206.8h0M414.9 209h0M415 207.9h0M415.2 208.9h0M415.3 204.3h0M415.5 206.2h0M415.6 206.2h0M415.8 209.1h0M415.9 206.7h0M416.1 209.2h0M416.2 205.4h0M416.4 205.6h0M416.5 207.4h0M416.7 210.9h0M416.8 207h0M417 205.2h0M417.1 210.2h0M417.3 207.3h0M417.4 205.5h0M417.6 207.5h0M417.7 208.8h0M417.9 206.9h0M418 205.1h0M418.2 203.1h0M418.3 204.2h0M418.5 206.3h0M418.6 202.8h0M418.8 205.6h0M418.9 204.5h0M419.1 205.4h0M419.2 206.5h0M419.4 201.2h0M419.5 205.1h0M419.7 199.3h0M419.8 200.9h0M420 201.2h0M420.1 198.8h0M420.3 201h0M420.4 166h0M420.6 152h0M420.7 142h0M420.9 137.5h0M421 133h0M421.1 128.8h0M421.3 126.4h0M421.4 124.7h0M421.6 120.2h0M421.7 116.2h0M421.9 112.7h0M422 107.5h0M422.2 106.5h0M422.3 105.1h0M422.5 103h0M422.6 102.2h0M422.8 101.2h0M422.9 101.1h0M423.1 98.2h0M423.2 98.1h0M423.4 96.3h0M423.5 96.3h0M423.7 94.5h0M423.8 92.5h0M424 92.7h0M424.1 91.4h0M424.3 92.3h0M424.4 90.9h0M424.6 91.3h0M424.7 90.6h0M424.9 89.7h0M425 89.4h0M425.2 90h0M425.3 89.5h0M425.5 89.1h0M425.6 88.1h0M425.8 87.9h0M425.9 86.7h0M426.1 87.7h0M426.2 87.1h0M426.4 85.7h0M426.5 87.8h0M426.7 86.3h0M426.8 86.2h0M427 86.8h0M427.1 85.6h0M427.2 87.4h0M427.4 86.9h0M427.5 87h0M427.7 86.4h0M427.8 86.4h0M428 86.8h0M428.1 86.1h0M428.3 87h0M428.4 87.9h0M428.6 87.8h0M428.7 88.6h0M428.9 88.4h0M429 89h0M429.2 87.9h0M429.3 88.8h0M429.5 88.4h0M429.6 88h0M429.8 88.1h0M429.9 88.4h0M430.1 88.6h0M430.2 89.2h0M430.4 89.6h0M430.5 90.7h0M430.7 89.4h0M430.8 90.6h0M431 90.9h0M431.1 89.3h0M431.3 90.7h0M431.4 91h0M431.6 91.6h0M431.7 92.2h0M431.9 94.2h0M432 93h0M432.2 92.7h0M432.3 94.2h0M432.5 93.6h0M432.6 93.6h0M432.8 93.5h0M432.9 94.1h0M433.1 96.2h0M433.2 95.1h0M433.3 95.2h0M433.5 95h0M433.6 95h0M433.8 95.4h0M433.9 97.9h0M434.1 97.7h0M434.2 99h0M434.4 100.3h0M434.5 98.2h0M434.7 100.5h0M434.8 100.1h0M435 100.1h0M435.1 100.8h0M435.3 124.8h0M435.4 155h0M435.6 163h0M435.7 168h0M435.9 172h0M436 177h0M436.2 179.7h0M436.3 181.2h0M436.5 186.4h0M436.6 187.4h0M436.8 190h0M436.9 191.1h0M437.1 198.4h0M437.2 200.6h0M437.4 197.1h0M437.5 199.8h0M437.7 203.4h0M437.8 204.8h0M438 200.1h0M438.1 209.5h0M438.3 206.1h0M438.4 208.8h0M438.6 206.7h0M438.7 205.6h0M438.9 208h0M439 207.8h0M439.2 210.9h0M439.3 212.6h0M439.4 210.5h0M439.6 209.6h0M439.7 210.7h0M439.9 209.8h0M440 212.9h0M440.2 211.3h0M440.3 209.9h0M440.5 212.3h0M440.6 214.7h0M440.8 213.1h0M440.9 213.3h0M441.1 213.5h0M441.2 214.3h0M441.4 218.1h0M441.5 211.6h0M441.7 210.7h0M441.8 214.6h0M442 216.7h0M442.1 214.4h0M442.3 215.9h0M442.4 215.6h0M442.6 214.3h0M442.7 216.1h0M442.9 214.4h0M443 218.6h0M443.2 214.9h0M443.3 214.5h0M443.5 220.2h0M443.6 214.7h0M443.8 218.2h0M443.9 218.1h0M444.1 215.9h0M444.2 214.7h0M444.4 213.6h0M444.5 215.8h0M444.7 214.3h0M444.8 215.3h0M445 215.3h0M445.1 215.4h0M445.3 215.6h0M445.4 214.6h0M445.5 217.7h0M445.7 215.9h0M445.8 216.9h0M446 215.5h0M446.1 213.1h0M446.3 213h0M446.4 214.4h0M446.6 214.8h0M446.7 216.8h0M446.9 214.1h0M447 214.5h0M447.2 213.5h0M447.3 213h0M447.5 214.4h0M447.6 216.5h0M447.8 211.1h0M447.9 213h0M448.1 213.2h0M448.2 211.5h0M448.4 211.1h0M448.5 212.8h0M448.7 214.6h0M448.8 212.2h0M449 213.1h0M449.1 211.7h0M449.3 210.6h0M449.4 209.7h0M449.6 207.3h0M449.7 210.1h0M449.9 212.2h0M450 211h0M450.2 166h0M450.3 152h0M450.5 142h0M450.6 137.5h0M450.8 133h0M450.9 128h0M451.1 123.1h0M451.2 120.8h0M451.4 118.3h0M451.5 120.5h0M451.6 118h0M451.8 117.4h0M451.9 113.4h0M452.1 113.3h0M452.2 110.8h0M452.4 110.6h0M452.5 109.9h0M452.7 108.3h0M452.8 105h0M453 103.5h0M453.1 105h0M453.3 103.2h0M453.4 101.5h0M453.6 101.4h0M453.7 100.5h0M453.9 100.1h0M454 100.5h0M454.2 98.3h0M454.3 96.9h0M454.5 98.8h0M454.6 95.4h0M454.8 95.7h0M454.9 95.8h0M455.1 95.9h0M455.2 94.7h0M455.4 95.2h0M455.5 94.5h0M455.7 94.1h0M455.8 95.8h0M456 94.6h0M456.1 92.8h0M456.3 94.3h0M456.4 94.4h0M456.6 93.9h0M456.7 94.3h0M456.9 93.1h0M457 93.1h0M457.2 94h0M457.3 93.1h0M457.4 93.7h0M457.6 93.7h0M457.7 92h0M457.9 92.4h0M458 94.2h0M458.2 94.3h0M458.3 92.2h0M458.5 93.9h0M458.6 93.9h0M458.8 92.7h0M458.9 93.4h0M459.1 94.6h0M459.2 93.7h0M459.4 94.7h0M459.5 93.5h0M459.7 95.8h0M459.8 92.3h0M460 95.2h0M460.1 96.1h0M460.3 95.9h0M460.4 94.1h0M460.6 94.7h0M460.7 96.2h0M460.9 97h0M461 96h0M461.2 97.4h0M461.3 95.5h0M461.5 97.5h0M461.6 98.2h0M461.8 99h0M461.9 98.7h0M462.1 96.7h0M462.2 98.5h0M462.4 99.4h0M462.5 97.9h0M462.7 98.8h0M462.8 99.6h0M463 100h0M463.1 101.2h0M463.3 100.7h0M463.4 99.2h0M463.5 99.9h0M463.7 102.5h0M463.8 100.4h0M464 101.5h0M464.1 102.1h0M464.3 102.6h0M464.4 104.1h0M464.6 104.2h0M464.7 104.9h0M464.9 103.3h0M465 127.3h0M465.2 155h0M465.3 163h0M465.5 168h0M465.6 172h0M465.8 175.6h0M465.9 178.3h0M466.1 182.2h0M466.2 181.8h0M466.4 188.4h0M466.5 189.6h0M466.7 195.4h0M466.8 195.1h0M467 199.1h0M467.1 197.7h0M467.3 200.8h0M467.4 201.3h0M467.6 205.5h0M467.7 200.4h0M467.9 205.8h0M468 205.3h0M468.2 203.7h0M468.3 201.1h0M468.5 203.7h0M468.6 206h0M468.8 204.8h0M468.9 209.1h0M469.1 208.2h0M469.2 210.2h0M469.4 205.9h0M469.5 207h0M469.6 206.8h0M469.8 208.3h0M469.9 208.7h0M470.1 210.4h0M470.2 208.7h0M470.4 209.1h0M470.5 212.2h0M470.7 208.3h0M470.8 211.8h0M471 212.1h0M471.1 210.6h0M471.3 208.3h0M471.4 211.6h0M471.6 211.3h0M471.7 212.5h0M471.9 215.6h0M472 214.3h0M472.2 212.4h0M472.3 211.7h0M472.5 212.1h0M472.6 212.2h0M472.8 209.1h0M472.9 217.4h0M473.1 215.5h0M473.2 212.4h0M473.4 214.7h0M473.5 213h0M473.7 210.6h0M473.8 215.3h0M474 211.7h0M474.1 214.8h0M474.3 211.5h0M474.4 214.4h0M474.6 211.5h0M474.7 212.1h0M474.9 209.3h0M475 214.2h0M475.2 212.8h0M475.3 212.3h0M475.5 213.6h0M475.6 212.9h0M475.7 210.8h0M475.9 209.4h0M476 211.4h0M476.2 210.7h0M476.3 212.7h0M476.5 209.9h0M476.6 211.2h0M476.8 209.4h0M476.9 211.3h0M477.1 209.2h0M477.2 208.6h0M477.4 211.8h0M477.5 209.2h0M477.7 211.7h0M477.8 212h0M478 211.8h0M478.1 208.9h0M478.3 210h0M478.4 211.2h0M478.6 209.3h0M478.7 212.4h0M478.9 205.6h0M479 209.8h0M479.2 209.7h0M479.3 205.3h0M479.5 208.9h0M479.6 212.2h0M479.8 209h0M479.9 166h0M480.1 152h0M480.2 142h0M480.4 137.5h0M480.5 133h0M480.7 129.3h0M480.8 124.6h0M481 120.7h0M481.1 120.5h0M481.3 115.7h0M481.4 114.4h0M481.6 114h0M481.7 112.1h0M481.8 112.4h0M482 111h0M482.1 110.8h0M482.3 110.9h0M482.4 109.7h0M482.6 108.9h0M482.7 107.8h0M482.9 106.6h0M483 106.6h0M483.2 106.9h0M483.3 106.1h0M483.5 105.1h0M483.6 105h0M483.8 105.4h0M483.9 103.7h0M484.1 101.9h0M484.2 102.7h0M484.4 103.7h0M484.5 101.7h0M484.7 100.7h0M484.8 100.4h0M485 100.1h0M485.1 98.8h0M485.3 99.9h0M485.4 98.8h0M485.6 98.6h0M485.7 98.6h0M485.9 98h0M486 96.9h0M486.2 97.7h0M486.3 96.4h0M486.5 97.4h0M486.6 95.4h0M486.8 97.6h0M486.9 96h0M487.1 96h0M487.2 97h0M487.4 95h0M487.5 96.8h0M487.7 95.1h0M487.8 96.6h0M487.9 96.5h0M488.1 95.3h0M488.2 95.9h0M488.4 95.6h0M488.5 95.6h0M488.7 94.6h0M488.8 94.1h0M489 94.6h0M489.1 95.5h0M489.3 95h0M489.4 94.6h0M489.6 94h0M489.7 95h0M489.9 93.2h0M490 95.7h0M490.2 96.4h0M490.3 95.2h0M490.5 96.2h0M490.6 96h0M490.8 95.7h0M490.9 95.5h0M491.1 94.9h0M491.2 94.7h0M491.4 95.8h0M491.5 97.1h0M491.7 94.3h0M491.8 95.7h0M492 95.6h0M492.1 95.9h0M492.3 96.5h0M492.4 96.3h0M492.6 97.7h0M492.7 97h0M492.9 97.2h0M493 97.2h0M493.2 98.3h0M493.3 98.5h0M493.5 97.5h0M493.6 97.2h0M493.8 97.9h0M493.9 99h0M494 99.8h0M494.2 99.7h0M494.3 99.1h0M494.5 99.3h0M494.6 100h0M494.8 124h0M494.9 155h0M495.1 163h0M495.2 168h0M495.4 172h0M495.5 176.9h0M495.7 176.5h0M495.8 180.1h0M496 185.2h0M496.1 185.7h0M496.3 191.5h0M496.4 192h0M496.6 195.2h0M496.7 195.3h0M496.9 198.2h0M497 199.4h0M497.2 200.5h0M497.3 199.1h0M497.5 203.6h0M497.6 205.3h0M497.8 205.5h0M497.9 201.9h0M498.1 201.8h0M498.2 205.6h0M498.4 208.5h0M498.5 204.8h0M498.7 205.9h0M498.8 208.7h0M499 206.3h0M499.1 208.4h0M499.3 204.6h0M499.4 207.6h0M499.6 209.8h0M499.7 207.9h0M499.9 211.9h0M500 209h0M500.1 211.5h0M500.3 208.4h0M500.4 207.8h0M500.6 211h0M500.7 207h0M500.9 210.1h0M501 209.7h0M501.2 210.9h0M501.3 210.5h0M501.5 211.2h0M501.6 205.7h0M501.8 210.7h0M501.9 211.7h0M502.1 212.3h0M502.2 209.5h0M502.4 212h0M502.5 211.6h0M502.7 213.2h0M502.8 210.6h0M503 212.5h0M503.1 208.2h0M503.3 212.8h0M503.4 214.9h0M503.6 215.2h0M503.7 208.3h0M503.9 211.8h0M504 211.4h0M504.2 214.7h0M504.3 211.4h0M504.5 212.1h0M504.6 210.4h0M504.8 210.6h0M504.9 213.1h0M505.1 211.7h0M505.2 210.6h0M505.4 209h0M505.5 211.3h0M505.7 209.3h0M505.8 210.2h0M506 211.8h0M506.1 210.6h0M506.2 209.2h0M506.4 208.7h0M506.5 207.5h0M506.7 207.8h0M506.8 207.8h0M507 207.9h0M507.1 209.7h0M507.3 207.3h0M507.4 210.6h0M507.6 209.1h0M507.7 208.8h0M507.9 206.6h0M508 208.7h0M508.2 209.1h0M508.3 204.2h0M508.5 208.8h0M508.6 204.7h0M508.8 205.5h0M508.9 204.4h0M509.1 208.3h0M509.2 202.7h0M509.4 205.8h0M509.5 205h0M509.7 166h0M509.8 152h0M510 142h0M510.1 137.5h0M510.3 133h0M510.4 128.5h0M510.6 124.4h0M510.7 120.9h0M510.9 121.2h0M511 120.6h0M511.2 117.3h0M511.3 114.8h0M511.5 116.5h0M511.6 114.1h0M511.8 113.1h0M511.9 113.4h0M512.1 112.5h0M512.2 111h0M512.3 110.4h0M512.5 109.5h0M512.6 109.8h0M512.8 108.6h0M512.9 107.2h0M513.1 107.6h0M513.2 107h0M513.4 107.4h0M513.5 104.2h0M513.7 104h0M513.8 103.1h0M514 101.7h0M514.1 102.4h0M514.3 102.6h0M514.4 101.4h0M514.6 102.3h0M514.7 101.1h0M514.9 100.5h0M515 101.3h0M515.2 100.4h0M515.3 99.3h0M515.5 98.4h0M515.6 98.3h0M515.8 98.9h0M515.9 98.5h0M516.1 99h0M516.2 98.4h0M516.4 96.1h0M516.5 97.5h0M516.7 97.8h0M516.8 96.8h0M517 96.1h0M517.1 98.2h0M517.3 96.3h0M517.4 95.9h0M517.6 95.6h0M517.7 96.2h0M517.9 96.1h0M518 96.8h0M518.2 94.9h0M518.3 94.9h0M518.4 96.6h0M518.6 96.3h0M518.7 96.8h0M518.9 96h0M519 96.8h0M519.2 97.6h0M519.3 95.8h0M519.5 95.6h0M519.6 97.4h0M519.8 95.9h0M519.9 98.1h0M520.1 96.3h0M520.2 97.5h0M520.4 96.1h0M520.5 96.9h0M520.7 98.3h0M520.8 98.8h0M521 97.2h0M521.1 98.2h0M521.3 99.2h0M521.4 98.5h0M521.6 97.3h0M521.7 98.8h0M521.9 101h0M522 100.9h0M522.2 101.4h0M522.3 100.1h0M522.5 101h0M522.6 101.4h0M522.8 101.5h0M522.9 101.3h0M523.1 104.1h0M523.2 104.2h0M523.4 102.7h0M523.5 104.4h0M523.7 104.2h0M523.8 104.5h0M524 106.8h0M524.1 105.1h0M524.3 106.8h0M524.4 106.7h0M524.5 130.7h0M524.7 155h0M524.8 163h0M525 168h0M525.1 172h0M525.3 172.7h0M525.4 178.4h0M525.6 182h0M525.7 186.3h0M525.9 186.6h0M526 192h0M526.2 192.2h0M526.3 197.1h0M526.5 198.2h0M526.6 197.8h0M526.8 202.2h0M526.9 202.2h0M527.1 204.7h0M527.2 203.9h0M527.4 207.5h0M527.5 202.2h0M527.7 207.2h0M527.8 210.1h0M528 207h0M528.1 210.4h0M528.3 209.1h0M528.4 210.5h0M528.6 210h0M528.7 213h0M528.9 216.6h0M529 212.4h0M529.2 213.4h0M529.3 211.2h0M529.5 212.7h0M529.6 213.1h0M529.8 211.7h0M529.9 216.1h0M530.1 214.8h0M530.2 212.7h0M530.4 216.3h0M530.5 216.1h0M530.6 215.6h0M530.8 215.1h0M530.9 216.3h0M531.1 215.1h0M531.2 211.6h0M531.4 217.4h0M531.5 217h0M531.7 218.1h0M531.8 215.9h0M532 215.5h0M532.1 215.2h0M532.3 218.9h0M532.4 218.4h0M532.6 216.4h0M532.7 215.7h0M532.9 214.6h0M533 217.3h0M533.2 216.6h0M533.3 214.8h0M533.5 214h0M533.6 215.3h0M533.8 215.4h0M533.9 214.5h0M534.1 214.4h0M534.2 215h0M534.4 212.9h0M534.5 213.6h0M534.7 215h0M534.8 214.9h0M535 213.5h0M535.1 213.6h0M535.3 213.7h0M535.4 214h0M535.6 215.4h0M535.7 211.9h0M535.9 211.2h0M536 214.3h0M536.2 209.5h0M536.3 212.7h0M536.5 213.9h0M536.6 212.6h0M536.7 211.1h0M536.9 208.2h0M537 210.8h0M537.2 212.9h0M537.3 209.8h0M537.5 210.9h0M537.6 210.5h0M537.8 207.7h0M537.9 209.4h0M538.1 210.5h0M538.2 211.5h0M538.4 208h0M538.5 211h0M538.7 209.3h0M538.8 206.5h0M539 209.7h0M539.1 206.7h0M539.3 206h0M539.4 166h0M539.6 152h0M539.7 142h0M539.9 137.5h0M540 133h0M540.2 129.2h0M540.3 125.1h0M540.5 123.2h0M540.6 119.4h0M540.8 117.4h0M540.9 116.7h0M541.1 114.1h0M541.2 112.8h0M541.4 110.8h0M541.5 108.2h0M541.7 107.1h0M541.8 107.2h0M542 105.6h0M542.1 103.5h0M542.3 103.5h0M542.4 100.8h0M542.6 102.9h0M542.7 101.1h0M542.8 99.1h0M543 99.6h0M543.1 98.4h0M543.3 100.4h0M543.4 97.6h0M543.6 98.2h0M543.7 96.9h0M543.9 96.3h0M544 96.5h0M544.2 97.2h0M544.3 98.7h0M544.5 95.6h0M544.6 96.9h0M544.8 95.2h0M544.9 95.6h0M545.1 94.8h0M545.2 94.3h0M545.4 94.7h0M545.5 95.5h0M545.7 96.5h0M545.8 94.8h0M546 93.4h0M546.1 94.9h0M546.3 95.8h0M546.4 95h0M546.6 95.3h0M546.7 96h0M546.9 96.4h0M547 95.3h0M547.2 96.2h0M547.3 94.7h0M547.5 96.5h0M547.6 96.4h0M547.8 96.1h0M547.9 97.1h0M548.1 95.6h0M548.2 96.3h0M548.4 95.7h0M548.5 97h0M548.7 95.8h0M548.8 96.1h0M548.9 96.1h0M549.1 96.4h0M549.2 96.3h0M549.4 97.3h0M549.5 97.3h0M549.7 96.6h0M549.8 98.3h0M550 98.7h0M550.1 98.1h0M550.3 98.7h0M550.4 99.7h0M550.6 99.1h0M550.7 99h0M550.9 99.8h0M551 98.9h0M551.2 99.8h0M551.3 98.4h0M551.5 99.7h0M551.6 100.1h0M551.8 100.1h0M551.9 99h0M552.1 99.7h0M552.2 101.4h0M552.4 100.8h0M552.5 100h0M552.7 102.5h0M552.8 101.5h0M553 101.9h0M553.1 102.4h0M553.3 101.5h0M553.4 101.4h0M553.6 101.5h0M553.7 101.7h0M553.9 103.1h0M554 103.2h0M554.2 103.3h0M554.3 127.3h0M554.5 155h0M554.6 163h0M554.8 168h0M554.9 172h0M555 176.4h0M555.2 177.6h0M555.3 181.6h0M555.5 185.6h0M555.6 183.7h0M555.8 189.6h0M555.9 196.4h0M556.1 196.5h0M556.2 198h0M556.4 205h0M556.5 200h0M556.7 201.6h0M556.8 201.9h0M557 201.2h0M557.1 204h0M557.3 204.7h0M557.4 204.3h0M557.6 202.6h0M557.7 204.9h0M557.9 205.7h0M558 208.7h0M558.2 205.6h0M558.3 205.7h0M558.5 208.9h0M558.6 208.6h0M558.8 206.5h0M558.9 206.8h0M559.1 206.4h0M559.2 206.8h0M559.4 209.1h0M559.5 208.8h0M559.7 210.1h0M559.8 209.1h0M560 209.7h0M560.1 213.1h0M560.3 214h0M560.4 210.4h0M560.6 210.7h0M560.7 211.6h0M560.9 209.3h0M561 210.4h0M561.1 208.6h0M561.3 210.6h0M561.4 211.8h0M561.6 209.7h0M561.7 212.2h0M561.9 211.5h0M562 211h0M562.2 214.5h0M562.3 211.2h0M562.5 212.8h0M562.6 214.7h0M562.8 211.9h0M562.9 211.6h0M563.1 213.8h0M563.2 213.7h0M563.4 212.2h0M563.5 211.3h0M563.7 207.7h0M563.8 212.6h0M564 210h0M564.1 211.9h0M564.3 210.2h0M564.4 213.5h0M564.6 213.7h0M564.7 209.1h0M564.9 210.3h0M565 207.7h0M565.2 207.3h0M565.3 209h0M565.5 206.8h0M565.6 210.8h0M565.8 209.1h0M565.9 209.6h0M566.1 207.6h0M566.2 206.5h0M566.4 207.4h0M566.5 207.6h0M566.7 205.3h0M566.8 210.8h0M567 208.8h0M567.1 207.9h0M567.2 204.8h0M567.4 208.9h0M567.5 206.7h0M567.7 206.5h0M567.8 210h0M568 206.2h0M568.1 207.3h0M568.3 203h0M568.4 204.1h0M568.6 201.5h0M568.7 207.2h0M568.9 202.6h0M569 205h0M569.2 166h0M569.3 152h0M569.5 142h0M569.6 137.5h0M569.8 133h0M569.9 128.3h0M570.1 126.3h0M570.2 122.8h0M570.4 118.8h0M570.5 118.1h0M570.7 116.7h0M570.8 116.3h0M571 114.1h0M571.1 113.8h0M571.3 113h0M571.4 113h0M571.6 113.6h0M571.7 112h0M571.9 111.7h0M572 110.9h0M572.2 111.4h0M572.3 111.2h0M572.5 109.1h0M572.6 109.1h0M572.8 107.1h0M572.9 107.1h0M573.1 107.8h0M573.2 106.8h0M573.3 105.5h0M573.5 106.3h0M573.6 106h0M573.8 104.5h0M573.9 105.1h0M574.1 105.3h0M574.2 103h0M574.4 104.5h0M574.5 102.8h0M574.7 102.5h0M574.8 102.5h0M575 101.9h0M575.1 101.3h0M575.3 100.4h0M575.4 102.7h0M575.6 101.5h0M575.7 100.3h0M575.9 102.8h0M576 101.6h0M576.2 99.5h0M576.3 100.3h0M576.5 98.7h0M576.6 99.7h0M576.8 100.2h0M576.9 99.6h0M577.1 99.9h0M577.2 99.6h0M577.4 98.9h0M577.5 100.4h0M577.7 99.5h0M577.8 97.3h0M578 99.2h0M578.1 98.1h0M578.3 99.6h0M578.4 99h0M578.6 97.4h0M578.7 99.5h0M578.9 98.5h0M579 97.6h0M579.2 98.2h0M579.3 99.9h0M579.4 98.1h0M579.6 97.8h0M579.7 98.7h0M579.9 98h0M580 98.8h0M580.2 97.4h0M580.3 99.8h0M580.5 97.2h0M580.6 98.3h0M580.8 98.4h0M580.9 99h0M581.1 98.6h0M581.2 99.8h0M581.4 99.8h0M581.5 99.3h0M581.7 99.6h0M581.8 99.7h0M582 96.8h0M582.1 98.8h0M582.3 100.1h0M582.4 99.6h0M582.6 102.1h0M582.7 98.2h0M582.9 100.4h0M583 99.1h0M583.2 101.2h0M583.3 101.2h0M583.5 101.1h0M583.6 100.8h0M583.8 100.5h0M583.9 105h0M584.1 129h0M584.2 155h0M584.4 163h0M584.5 168h0M584.7 172h0M584.8 175.6h0M585 179.2h0M585.1 180.3h0M585.3 182.7h0M585.4 187.5h0M585.5 194.1h0M585.7 194.4h0M585.8 198.2h0M586 196.7h0M586.1 200.2h0M586.3 201.6h0M586.4 206h0M586.6 205.3h0M586.7 203.3h0M586.9 204.8h0M587 205.1h0M587.2 207.4h0M587.3 208.8h0M587.5 210.9h0M587.6 207.1h0M587.8 206.2h0M587.9 209.4h0M588.1 209.4h0M588.2 209.6h0M588.4 209.5h0M588.5 209.8h0M588.7 213.1h0M588.8 211.9h0M589 212h0M589.1 212.9h0M589.3 208.4h0M589.4 212.2h0M589.6 211.8h0M589.7 212.6h0M589.9 210.8h0M590 210.3h0M590.2 213.4h0M590.3 210.7h0M590.5 215.6h0M590.6 215h0M590.8 213.4h0M590.9 215.4h0M591.1 217.2h0M591.2 210h0M591.3 214.8h0M591.5 215h0M591.6 213.5h0M591.8 211.4h0M591.9 217.5h0M592.1 217.2h0M592.2 216h0M592.4 214.5h0M592.5 211.8h0M592.7 210.7h0M592.8 214h0M593 214.8h0M593.1 215.5h0M593.3 212.1h0M593.4 214.4h0M593.6 214.7h0M593.7 216.5h0M593.9 212.7h0M594 213.7h0M594.2 213.8h0M594.3 215h0M594.5 212.8h0M594.6 213.5h0M594.8 214.6h0M594.9 212.6h0M595.1 211.9h0M595.2 212.9h0M595.4 209.7h0M595.5 213h0M595.7 211.1h0M595.8 210.9h0M596 211.8h0M596.1 209.7h0M596.3 211.3h0M596.4 213.5h0M596.6 212.3h0M596.7 210h0M596.9 209.7h0M597 209.2h0M597.2 208.1h0M597.3 207.9h0M597.4 207.4h0M597.6 207h0M597.7 208.8h0M597.9 205.6h0M598 208.4h0M598.2 208h0M598.3 208h0M598.5 209.4h0M598.6 207.7h0M598.8 207h0M598.9 166h0M599.1 152h0M599.2 142h0M599.4 137.5h0M599.5 133h0M599.7 129.4h0M599.8 124.1h0M600 121.9h0M600.1 120.3h0M600.3 120.1h0M600.4 119.4h0M600.6 120.4h0M600.7 121h0M600.9 120.4h0M601 118.4h0M601.2 118.9h0M601.3 119.1h0M601.5 117.5h0M601.6 117.1h0M601.8 114.6h0M601.9 116.8h0M602.1 115.7h0M602.2 115h0M602.4 114.3h0M602.5 113.9h0M602.7 114.3h0M602.8 114.4h0M603 114.1h0M603.1 114.3h0M603.3 112.5h0M603.4 111.7h0M603.5 113.6h0M603.7 112h0M603.8 111.5h0M604 111.6h0M604.1 109.1h0M604.3 108.9h0M604.4 111.1h0M604.6 110.6h0M604.7 109.5h0M604.9 109.1h0M605 110.2h0M605.2 108.2h0M605.3 108.2h0M605.5 106.8h0M605.6 110.2h0M605.8 108.1h0M605.9 108.2h0M606.1 107.8h0M606.2 107.1h0M606.4 106.3h0M606.5 107h0M606.7 107h0M606.8 107.5h0M607 107.1h0M607.1 107.7h0M607.3 106.2h0M607.4 107.5h0M607.6 107.6h0M607.7 106.1h0M607.9 107.4h0M608 105.9h0M608.2 107h0M608.3 106.5h0M608.5 108.4h0M608.6 105.9h0M608.8 104.4h0M608.9 106.5h0M609.1 105.6h0M609.2 106.2h0M609.4 106.9h0M609.5 106.9h0M609.6 108.1h0M609.8 106.7h0M609.9 106.9h0M610.1 107.5h0M610.2 108h0M610.4 106.5h0M610.5 107.4h0M610.7 106.3h0M610.8 109h0M611 106.9h0M611.1 107.1h0M611.3 107.4h0M611.4 107.2h0M611.6 109h0M611.7 109.5h0M611.9 108.3h0M612 107.5h0M612.2 108.2h0M612.3 108.3h0M612.5 107.5h0M612.6 109.4h0M612.8 108.4h0M612.9 108.2h0M613.1 109.3h0M613.2 110.4h0M613.4 109.6h0M613.5 109.6h0M613.7 116.7h0M613.8 140.7h0M614 155h0M614.1 163h0M614.3 168h0M614.4 172h0M614.6 175.6h0M614.7 178.5h0M614.9 181.2h0M615 183.7h0M615.2 187h0M615.3 190.3h0M615.5 195.1h0M615.6 195.7h0M615.7 199h0M615.9 203.7h0M616 202.7h0M616.2 205.1h0M616.3 202h0M616.5 208.5h0M616.6 206.4h0M616.8 207.5h0M616.9 209.7h0M617.1 210.1h0M617.2 210.3h0M617.4 211.2h0M617.5 213.9h0M617.7 207.5h0M617.8 211.5h0M618 212.7h0M618.1 217.3h0M618.3 213h0M618.4 215.9h0M618.6 215.2h0M618.7 217.1h0M618.9 212.1h0M619 213.4h0M619.2 212.5h0M619.3 215.2h0M619.5 215.7h0M619.6 217.2h0M619.8 216.9h0M619.9 217.8h0M620.1 216.9h0M620.2 212h0M620.4 217.6h0M620.5 215.9h0M620.7 215.9h0M620.8 216.1h0M621 218.3h0M621.1 216.7h0M621.3 221.1h0M621.4 217.4h0M621.6 218.7h0M621.7 219.5h0M621.8 217.8h0M622 216.8h0M622.1 217.9h0M622.3 218.3h0M622.4 217h0M622.6 216.6h0M622.7 216.4h0M622.9 217.3h0M623 215.6h0M623.2 219.2h0M623.3 216.2h0M623.5 216.5h0M623.6 219.2h0M623.8 218h0M623.9 213.6h0M624.1 215h0M624.2 216.7h0M624.4 212.6h0M624.5 215h0M624.7 217.1h0M624.8 216.4h0M625 215.3h0M625.1 217.3h0M625.3 213.8h0M625.4 214.9h0M625.6 217.4h0M625.7 210.6h0M625.9 211.5h0M626 212.9h0M626.2 211.2h0M626.3 213.2h0M626.5 214h0M626.6 214.3h0M626.8 209.8h0M626.9 211.3h0M627.1 209.9h0M627.2 211.3h0M627.4 209h0M627.5 211.9h0M627.7 210.6h0M627.8 211.7h0M627.9 212.2h0M628.1 209.1h0M628.2 211.5h0M628.4 209.1h0M628.5 210h0M628.7 166h0M628.8 152h0M629 142h0M629.1 137.5h0M629.3 133h0M629.4 128.6h0M629.6 124.7h0M629.7 119.7h0M629.9 119.3h0M630 117.5h0M630.2 116.8h0M630.3 114.3h0M630.5 114.6h0M630.6 112.6h0M630.8 110.6h0M630.9 110.1h0M631.1 107h0M631.2 108.7h0M631.4 105.9h0M631.5 103.7h0M631.7 102.6h0M631.8 104.1h0M632 102.9h0M632.1 101h0M632.3 100.2h0M632.4 99.9h0M632.6 97.9h0M632.7 99.4h0M632.9 97.9h0M633 97.3h0M633.2 96.8h0M633.3 94.2h0M633.5 93.2h0M633.6 95.8h0M633.8 94.3h0M633.9 94.2h0M634 91.6h0M634.2 93.3h0M634.3 92.6h0M634.5 93h0M634.6 91.3h0M634.8 94.1h0M634.9 92h0M635.1 91.3h0M635.2 91.8h0M635.4 92.6h0M635.5 91.2h0M635.7 91.8h0M635.8 92h0M636 91.8h0M636.1 91.9h0M636.3 91.3h0M636.4 92.5h0M636.6 89.8h0M636.7 89.7h0M636.9 90.2h0M637 92.8h0M637.2 90.3h0M637.3 92.2h0M637.5 89.3h0M637.6 90.3h0M637.8 92.2h0M637.9 90.3h0M638.1 91h0M638.2 92.1h0M638.4 90.4h0M638.5 91.8h0M638.7 91.1h0M638.8 92.3h0M639 91.1h0M639.1 92.7h0M639.3 91.4h0M639.4 90.8h0M639.6 91.2h0M639.7 93h0M639.9 93.1h0M640 92.4h0M640.1 92.5h0M640.3 94.3h0M640.4 92.9h0M640.6 93.6h0M640.7 94h0M640.9 94.1h0M641 94.4h0M641.2 93.2h0M641.3 95h0M641.5 95.2h0M641.6 95.5h0M641.8 95.4h0M641.9 95.2h0M642.1 97.3h0M642.2 95.2h0M642.4 97.9h0M642.5 95.2h0M642.7 95.1h0M642.8 96.5h0M643 96.4h0M643.1 98h0M643.3 97.7h0M643.4 98.3h0M643.6 122.3h0M643.7 155h0M643.9 163h0M644 168h0M644.2 172h0M644.3 175.2h0M644.5 179.9h0M644.6 180.4h0M644.8 182.3h0M644.9 186.5h0M645.1 189.6h0M645.2 198.1h0M645.4 196.6h0M645.5 198.1h0M645.7 201.3h0M645.8 197.7h0M646 202.4h0M646.1 204h0M646.2 204.3h0M646.4 207.3h0M646.5 207.5h0M646.7 210.1h0M646.8 207.6h0M647 208.6h0M647.1 209.2h0M647.3 205.9h0M647.4 210.5h0M647.6 213h0M647.7 214h0M647.9 211.2h0M648 210.1h0M648.2 213.6h0M648.3 210.4h0M648.5 215h0M648.6 211.7h0M648.8 213.9h0M648.9 214.1h0M649.1 213.2h0M649.2 213.4h0M649.4 213.6h0M649.5 213.1h0M649.7 214.2h0M649.8 216.8h0M650 216.9h0M650.1 211.8h0M650.3 217h0M650.4 218.4h0M650.6 216.7h0M650.7 217.8h0M650.9 218.4h0M651 216.1h0M651.2 213.9h0M651.3 215.8h0M651.5 216.1h0M651.6 217h0M651.8 217.4h0M651.9 216h0M652.1 215.6h0M652.2 215.7h0M652.3 217.5h0M652.5 218.1h0M652.6 216.5h0M652.8 216.8h0M652.9 215h0M653.1 215.2h0M653.2 213.6h0M653.4 218.5h0M653.5 215h0M653.7 213.2h0M653.8 217.6h0M654 214.5h0M654.1 215.2h0M654.3 216.6h0M654.4 217.7h0M654.6 212.8h0M654.7 214.5h0M654.9 215.8h0M655 212.5h0M655.2 216.3h0M655.3 213h0M655.5 212h0M655.6 214.8h0M655.8 212.8h0M655.9 212.9h0M656.1 211.4h0M656.2 209.9h0M656.4 212.4h0M656.5 212h0M656.7 211.1h0M656.8 212h0M657 210.6h0M657.1 213.6h0M657.3 211.5h0M657.4 208.9h0M657.6 210.7h0M657.7 211h0M657.9 208.3h0M658 209.2h0M658.2 210.9h0M658.3 210.1h0" stroke="#1f6cbf"/>
<path d="M390.1 165.5h0M390.3 151.5h0M390.4 141.5h0M390.6 137h0M390.7 132.5h0M398.8 96.7h0M402.5 97.7h0M404.9 104.5h0M405 128.5h0M405.2 154.5h0M405.3 162.5h0M405.5 167.5h0M405.6 171.5h0M405.8 175.9h0M405.9 179.6h0M406.4 187.8h0M407.3 196.9h0M407.7 202.1h0M407.9 205.8h0M408 200.3h0M408.2 206.1h0M410.1 208.9h0M412.5 205.9h0M412.6 210.4h0M412.8 207h0M412.9 211.3h0M414.3 206.3h0M415.3 208.6h0M415.4 206.2h0M415.6 208.7h0M416.2 210.4h0M416.6 209.7h0M418.1 202.3h0M418.9 200.7h0M419 204.6h0M419.6 198.3h0M419.8 200.5h0M419.9 165.5h0M420.1 151.5h0M420.2 141.5h0M420.4 137h0M420.5 132.5h0M420.6 128.3h0M421.1 119.7h0M421.2 115.7h0M421.4 112.2h0M434.8 124.3h0M434.9 154.5h0M435.1 162.5h0M435.2 167.5h0M435.4 171.5h0M435.5 176.5h0M436.6 197.9h0M436.7 200.1h0M436.9 196.6h0M437 199.3h0M437.5 199.6h0M437.6 209h0M437.8 205.6h0M440 211.8h0M440.9 217.6h0M442.5 218.1h0M443 219.7h0M443.1 214.2h0M449.1 206.8h0M449.7 165.5h0M449.8 151.5h0M450 141.5h0M450.1 137h0M450.3 132.5h0M450.4 127.5h0M450.6 122.6h0M450.7 120.3h0M450.9 117.8h0M451 120h0M459.2 95.3h0M459.3 91.8h0M464.5 126.8h0M464.7 154.5h0M464.8 162.5h0M465 167.5h0M465.1 171.5h0M465.3 175.1h0M465.4 177.8h0M467.1 205h0M467.2 199.9h0M467.8 200.6h0M468 203.2h0M470 211.7h0M470.2 207.8h0M470.8 207.8h0M472.3 208.6h0M472.7 211.9h0M473.2 210.1h0M473.3 214.8h0M473.5 211.2h0M473.6 214.3h0M473.8 211h0M473.9 213.9h0M474.4 208.8h0M476.9 211.3h0M477 208.7h0M478.2 211.9h0M478.4 205.1h0M478.8 204.8h0M479 208.4h0M479.1 211.7h0M479.3 208.5h0M479.4 165.5h0M479.6 151.5h0M479.7 141.5h0M479.9 137h0M480 132.5h0M480.2 128.8h0M480.3 124.1h0M494.3 123.5h0M494.4 154.5h0M494.6 162.5h0M494.7 167.5h0M494.9 171.5h0M495.3 179.6h0M497.7 205.1h0M497.9 208h0M498.3 208.2h0M498.8 204.1h0M498.9 207.1h0M499.4 211.4h0M499.5 208.5h0M499.6 211h0M500.1 210.5h0M500.2 206.5h0M501.1 205.2h0M501.7 209h0M502.6 207.7h0M503.2 207.8h0M503.7 214.2h0M506.8 206.8h0M507.8 203.7h0M508 208.3h0M508.6 207.8h0M508.7 202.2h0M509.2 165.5h0M509.3 151.5h0M509.5 141.5h0M509.6 137h0M509.8 132.5h0M509.9 128h0M510.1 123.9h0M510.7 116.8h0M524 130.2h0M524.2 154.5h0M524.3 162.5h0M524.5 167.5h0M524.9 177.9h0M525.1 181.5h0M526.9 207h0M527 201.7h0M527.2 206.7h0M527.3 209.6h0M527.5 206.5h0M528.2 212.5h0M528.4 216.1h0M530.7 211.1h0M535.5 213.8h0M535.7 209h0M536.4 207.7h0M537.9 207.5h0M538.3 206h0M538.5 209.2h0M538.9 165.5h0M539.1 151.5h0M539.2 141.5h0M539.4 137h0M539.5 132.5h0M539.7 128.7h0M553.8 126.8h0M554 154.5h0M554.1 162.5h0M554.3 167.5h0M554.4 171.5h0M554.8 181.1h0M555.3 189.1h0M555.9 204.5h0M557.5 208.2h0M561.7 214h0M563.2 207.2h0M563.3 212.1h0M565 206.3h0M566.2 204.8h0M566.7 204.3h0M566.9 208.4h0M567.3 209.5h0M568.1 201h0M568.2 206.7h0M568.4 202.1h0M568.5 204.5h0M568.7 165.5h0M568.8 151.5h0M569 141.5h0M569.1 137h0M569.3 132.5h0M569.7 122.3h0M579.8 99.3h0M582.1 101.6h0M583.4 104.5h0M583.6 128.5h0M583.7 154.5h0M583.9 162.5h0M584 167.5h0M584.2 171.5h0M584.3 175.1h0M584.8 182.2h0M584.9 187h0M588.8 207.9h0M589.7 212.9h0M589.8 210.2h0M590.7 209.5h0M592.8 211.6h0M594.9 209.2h0M597.4 205.1h0M598.4 165.5h0M598.6 151.5h0M598.7 141.5h0M598.9 137h0M599 132.5h0M599.2 128.9h0M599.3 123.6h0M613.2 116.2h0M613.3 140.2h0M613.5 154.5h0M613.6 162.5h0M613.8 167.5h0M613.9 171.5h0M614.1 175.1h0M614.2 178h0M614.4 180.7h0M614.5 183.2h0M614.7 186.5h0M614.8 189.8h0M615.2 198.5h0M615.7 204.6h0M615.8 201.5h0M617 213.4h0M617.2 207h0M617.6 216.8h0M617.8 212.5h0M619.7 211.5h0M620.8 220.6h0M622.7 218.7h0M623.9 212.1h0M625.1 216.9h0M626.9 208.5h0M627.6 208.6h0M627.7 211h0M628.2 165.5h0M628.3 151.5h0M628.5 141.5h0M628.6 137h0M628.8 132.5h0M628.9 128.1h0M629.1 124.2h0M630.9 105.4h0M636.5 92.3h0M641.9 97.4h0M643.1 121.8h0M643.2 154.5h0M643.4 162.5h0M643.5 167.5h0M643.7 171.5h0M643.8 174.7h0M644.4 186h0M644.6 189.1h0M645.2 200.8h0M645.3 197.2h0M646.2 209.6h0M646.8 205.4h0M646.9 210h0M647.7 213.1h0M647.8 209.9h0M648 214.5h0M649.6 211.3h0M650.5 215.6h0M652.9 218h0M653.3 217.1h0M654.5 212h0M654.7 215.8h0" stroke="#fff" stroke-opacity="0.55" stroke-width="1.3"/>
</g>
<rect x="390.5" y="8.7" width="267.8" height="228.5" fill="none" stroke="#231f20" stroke-width="1.55"/>
<path d="M390.5 237.2L390.5 241.2" stroke="#231f20" stroke-width="1.4"/>
<path d="M405.4 237.2L405.4 239.7" stroke="#231f20" stroke-width="1.4"/>
<path d="M420.3 237.2L420.3 241.2" stroke="#231f20" stroke-width="1.4"/>
<path d="M435.1 237.2L435.1 239.7" stroke="#231f20" stroke-width="1.4"/>
<path d="M450 237.2L450 241.2" stroke="#231f20" stroke-width="1.4"/>
<path d="M464.9 237.2L464.9 239.7" stroke="#231f20" stroke-width="1.4"/>
<path d="M479.8 237.2L479.8 241.2" stroke="#231f20" stroke-width="1.4"/>
<path d="M494.6 237.2L494.6 239.7" stroke="#231f20" stroke-width="1.4"/>
<path d="M509.5 237.2L509.5 241.2" stroke="#231f20" stroke-width="1.4"/>
<path d="M524.4 237.2L524.4 239.7" stroke="#231f20" stroke-width="1.4"/>
<path d="M539.3 237.2L539.3 241.2" stroke="#231f20" stroke-width="1.4"/>
<path d="M554.2 237.2L554.2 239.7" stroke="#231f20" stroke-width="1.4"/>
<path d="M569 237.2L569 241.2" stroke="#231f20" stroke-width="1.4"/>
<path d="M583.9 237.2L583.9 239.7" stroke="#231f20" stroke-width="1.4"/>
<path d="M598.8 237.2L598.8 241.2" stroke="#231f20" stroke-width="1.4"/>
<path d="M613.7 237.2L613.7 239.7" stroke="#231f20" stroke-width="1.4"/>
<path d="M628.5 237.2L628.5 241.2" stroke="#231f20" stroke-width="1.4"/>
<path d="M643.4 237.2L643.4 239.7" stroke="#231f20" stroke-width="1.4"/>
<path d="M658.3 237.2L658.3 241.2" stroke="#231f20" stroke-width="1.4"/>
<text x="390.5" y="258.7" font-size="12.8" font-weight="bold" text-anchor="middle" fill="#231f20">20</text>
<text x="420.3" y="258.7" font-size="12.8" font-weight="bold" text-anchor="middle" fill="#231f20">40</text>
<text x="450" y="258.7" font-size="12.8" font-weight="bold" text-anchor="middle" fill="#231f20">60</text>
<text x="479.8" y="258.7" font-size="12.8" font-weight="bold" text-anchor="middle" fill="#231f20">80</text>
<text x="509.5" y="258.7" font-size="12.8" font-weight="bold" text-anchor="middle" fill="#231f20">100</text>
<text x="539.3" y="258.7" font-size="12.8" font-weight="bold" text-anchor="middle" fill="#231f20">120</text>
<text x="569" y="258.7" font-size="12.8" font-weight="bold" text-anchor="middle" fill="#231f20">140</text>
<text x="598.8" y="258.7" font-size="12.8" font-weight="bold" text-anchor="middle" fill="#231f20">160</text>
<text x="628.5" y="258.7" font-size="12.8" font-weight="bold" text-anchor="middle" fill="#231f20">180</text>
<text x="658.3" y="258.7" font-size="12.8" font-weight="bold" text-anchor="middle" fill="#231f20">200</text>
<text x="524.6" y="279.2" font-size="12.8" font-weight="bold" text-anchor="middle" fill="#231f20" textLength="49" lengthAdjust="spacingAndGlyphs">Time (s)</text>
<text transform="translate(380.4 120.6) rotate(-90)" x="0" y="0" font-size="12.8" font-weight="bold" text-anchor="middle" fill="#231f20" textLength="196" lengthAdjust="spacingAndGlyphs">Photocurrent density (mA/cm)<tspan dy="-5" font-size="8.5">2</tspan></text>
<text x="331.8" y="13.7" font-size="19" font-weight="bold" text-anchor="start" fill="#231f20">b</text>
<defs><radialGradient id="g9" cx="0.4" cy="0.35" r="0.65"><stop offset="0" stop-color="#aeaeae"/><stop offset="0.45" stop-color="#4d4d4d"/><stop offset="1" stop-color="#3d3d3d"/></radialGradient></defs>
<circle cx="571.2" cy="31.3" r="2.2" fill="url(#g9)"/>
<text x="577.8" y="34.8" font-size="9.3" font-weight="bold" text-anchor="start" fill="#231f20">Cu<tspan dy="2.8" font-size="6.7">2</tspan><tspan dy="-2.8">O MCs</tspan></text>
<defs><radialGradient id="g10" cx="0.4" cy="0.35" r="0.65"><stop offset="0" stop-color="#f1a9ad"/><stop offset="0.45" stop-color="#e0404a"/><stop offset="1" stop-color="#b3333b"/></radialGradient></defs>
<circle cx="571.2" cy="45.5" r="2.2" fill="url(#g10)"/>
<text x="577.8" y="49" font-size="9.3" font-weight="bold" text-anchor="start" fill="#231f20">g-C<tspan dy="2.8" font-size="6.7">3</tspan><tspan dy="-2.8">N<tspan dy="2.8" font-size="6.7">4</tspan><tspan dy="-2.8"> NSs</tspan></tspan></text>
<defs><radialGradient id="g11" cx="0.4" cy="0.35" r="0.65"><stop offset="0" stop-color="#9abce2"/><stop offset="0.45" stop-color="#1f6cbf"/><stop offset="1" stop-color="#185698"/></radialGradient></defs>
<circle cx="571.2" cy="59.7" r="2.2" fill="url(#g11)"/>
<text x="577.8" y="63.2" font-size="9.3" font-weight="bold" text-anchor="start" fill="#231f20">Cu<tspan dy="2.8" font-size="6.7">2</tspan><tspan dy="-2.8">O/g-C<tspan dy="2.8" font-size="6.7">3</tspan><tspan dy="-2.8">N<tspan dy="2.8" font-size="6.7">4</tspan><tspan dy="-2.8">-0.2</tspan></tspan></tspan></text>
<defs><clipPath id="cc"><rect x="21.2" y="313.4" width="286.1" height="230"/></clipPath></defs>
<g clip-path="url(#cc)" fill="none" stroke-width="1.7" stroke-linejoin="round">
<path d="M21.2 529.7L307.3 529.7" stroke="#555"/>
<path d="M21.2 528.7C21.8 528.5 23.5 528.4 25 527.5C26.5 526.6 28.3 525.7 30 523.3C31.7 520.9 33.7 516.8 35 513.3C36.3 509.7 36.9 507.9 38 502C39.1 496.1 40.8 483.3 41.7 478C42.6 472.7 42.8 473.8 43.3 470C43.8 466.2 43.9 464.5 45 455C46.1 445.5 48.6 424.2 50 413C51.4 401.8 52.4 394 53.3 388C54.2 382 54.7 380.7 55.5 377C56.3 373.3 57.5 368.3 58.3 366C59 363.7 59.2 364.1 60 363.1C60.8 362.1 61.9 360.9 63 360C64.1 359.1 65.4 357.9 66.4 357.6C67.4 357.3 68.1 358.2 68.8 358C69.5 357.8 68.8 356.7 70.5 356.4C72.2 356.1 76.9 356 78.7 356.4C80.5 356.8 80.8 358 81.6 359C82.4 360 82.6 360.9 83.4 362.5C84.2 364.1 85.3 366.4 86.3 368.4C87.3 370.3 88.2 372.3 89.2 374.2C90.2 376.1 90.7 377.2 92 379.5C93.3 381.8 94.6 384 96.8 388C99 392 102.3 398.1 105 403.4C107.7 408.7 110.4 414.3 113.1 419.7C115.8 425.1 118.9 431.2 121.3 436C123.7 440.8 125.6 444.6 127.4 448.3C129.2 452 130.1 454.3 132.3 458.4C134.5 462.5 137.3 467.9 140.4 472.7C143.5 477.5 147.3 482.8 150.7 487C154.1 491.2 157.2 494.8 160.9 498.2C164.6 501.6 168.7 504.7 173.1 507.4C177.5 510.1 182.6 512.5 187.4 514.6C192.2 516.7 195.9 518.2 201.7 519.7C207.5 521.2 215.4 522.6 222.2 523.8C229 525 236 526.2 242.6 526.9C249.2 527.6 251.2 527.7 262 528C272.8 528.3 299.8 528.7 307.3 528.8" stroke="#e8444d"/>
<path d="M21.2 529.7C22.7 529.6 27.7 529.6 30 529.2C32.3 528.8 33.3 528.4 35 527.5C36.7 526.6 38.3 525.5 40 523.8C41.7 522.1 43.3 519.9 45 517.5C46.7 515.1 48.5 511.6 50 509.5C51.5 507.4 52.6 506 54 505C55.4 504 56.3 503.7 58.3 503.3C60.3 502.9 63.2 502.8 66 502.8C68.8 502.8 72.4 502.8 75 503.1C77.6 503.4 79.2 503.9 81.7 504.6C84.2 505.3 87 506.3 90 507.3C93 508.3 96.7 509.6 100 510.6C103.3 511.7 106.7 512.7 110 513.6C113.3 514.5 114.9 515.1 120 516.3C125.1 517.5 133.6 519.4 140.4 520.8C147.2 522.2 154.1 523.6 160.9 524.6C167.7 525.6 172.8 526.2 181.3 526.8C189.8 527.4 198.9 527.9 212 528.3C225.1 528.7 244.1 528.8 260 529C275.9 529.2 299.4 529.2 307.3 529.3" stroke="#2a78c6"/>
</g>
<rect x="21.2" y="313.4" width="286.1" height="230" fill="none" stroke="#231f20" stroke-width="1.55"/>
<path d="M21.2 543.4L21.2 547.4" stroke="#231f20" stroke-width="1.4"/>
<path d="M68.9 543.4L68.9 545.9" stroke="#231f20" stroke-width="1.4"/>
<path d="M116.6 543.4L116.6 547.4" stroke="#231f20" stroke-width="1.4"/>
<path d="M164.2 543.4L164.2 545.9" stroke="#231f20" stroke-width="1.4"/>
<path d="M211.9 543.4L211.9 547.4" stroke="#231f20" stroke-width="1.4"/>
<path d="M259.6 543.4L259.6 545.9" stroke="#231f20" stroke-width="1.4"/>
<path d="M307.3 543.4L307.3 547.4" stroke="#231f20" stroke-width="1.4"/>
<text x="21.2" y="564.5" font-size="12.8" font-weight="bold" text-anchor="middle" fill="#231f20">400</text>
<text x="116.6" y="564.5" font-size="12.8" font-weight="bold" text-anchor="middle" fill="#231f20">500</text>
<text x="211.9" y="564.5" font-size="12.8" font-weight="bold" text-anchor="middle" fill="#231f20">600</text>
<text x="307.3" y="564.5" font-size="12.8" font-weight="bold" text-anchor="middle" fill="#231f20">700</text>
<text x="164.5" y="584.5" font-size="12.8" font-weight="bold" text-anchor="middle" fill="#231f20" textLength="107" lengthAdjust="spacingAndGlyphs">Wavelength (nm)</text>
<text transform="translate(10.9 417) rotate(-90)" x="0" y="0" font-size="13.2" font-weight="bold" text-anchor="middle" fill="#231f20">Intensity (arb.u.)</text>
<text x="-0.8" y="315.3" font-size="19.5" font-weight="bold" text-anchor="start" fill="#231f20">c</text>
<path d="M204.5 479.6L227.7 479.6" stroke="#555" stroke-width="1.5"/>
<text x="231.6" y="483.3" font-size="9.3" font-weight="bold" text-anchor="start" fill="#231f20">Cu<tspan dy="2.8" font-size="6.7">2</tspan><tspan dy="-2.8">O MCs</tspan></text>
<path d="M204.5 493.8L227.7 493.8" stroke="#e8444d" stroke-width="1.5"/>
<text x="231.6" y="497.5" font-size="9.3" font-weight="bold" text-anchor="start" fill="#231f20">g-C<tspan dy="2.8" font-size="6.7">3</tspan><tspan dy="-2.8">N<tspan dy="2.8" font-size="6.7">4</tspan><tspan dy="-2.8"> NSs</tspan></tspan></text>
<path d="M204.5 508L227.7 508" stroke="#2a78c6" stroke-width="1.5"/>
<text x="231.6" y="511.7" font-size="9.3" font-weight="bold" text-anchor="start" fill="#231f20">Cu<tspan dy="2.8" font-size="6.7">2</tspan><tspan dy="-2.8">O/g-C<tspan dy="2.8" font-size="6.7">3</tspan><tspan dy="-2.8">N<tspan dy="2.8" font-size="6.7">4</tspan><tspan dy="-2.8">-0.2</tspan></tspan></tspan></text>
<rect x="168.7" y="318.9" width="126.6" height="109.4" fill="#fff" stroke="#231f20" stroke-width="1.1"/>
<path d="M168.7 407.7L169.7 404.1L170.7 399.6L171.7 395.8L172.7 391.6L173.9 384.2L175.1 377.7L176.3 372.8L177.5 365.4L178.7 359L179.9 354L180.9 346.6L182 340.9L183 333.8L184.7 333.8L185.9 332.3L187.1 333L188.3 334.8L189.5 336.4L190.7 339.3L191.9 341.5L193.1 343.7L194.3 346.5L195.5 349.1L196.7 351.4L197.9 353.8L199.1 358.8L200.3 359.6L201.5 362L203.1 364.8L204.1 368L205.1 372L206.3 373.6L207.5 377.3L208.7 379.3L209.9 382.4L211 384.3L212.2 384.5L213.4 386.6L214.6 388.9L215.8 392.8L217 393.7L218.2 395.2L219.4 395.8L220.6 397.4L221.8 398.4L223 399.2L224.2 400.6L225.4 401.5L226.6 402.9L227.8 403.1L229 404.2L230.2 404.6L231.4 405.5L232.6 405.5L233.8 405.2L235 407L236.2 407.8L237.2 408.2L238.3 408L239.3 408.7L240.3 408.3L241.3 409.8L242.4 409.8L243.4 409.7L244.4 409.4L245.5 410.9L246.5 411.2L247.5 409.6L248.5 411L249.6 410.4L250.6 410L251.7 410.2L252.7 411L253.8 411.1L254.8 409.6L255.9 410.5L256.9 409.4L258 410.6L259 409.9L260.1 410.8L261.1 411.2L262.2 410.6L263.2 411.7L264.2 410.7L265.2 410.5L266.3 411.7L267.3 410.9L268.3 411.3L269.4 411.9L270.4 412.4L271.4 411.8L272.4 411.7L273.5 413.4L274.5 412.6L275.6 413.9L276.6 413.9L277.7 413.1L278.8 413.4L279.8 413.6L280.9 414L282 414L283 414.1L284.1 414.3L285.2 415L286.2 414.4L287.3 414.3L288.4 415L289.5 414.2L290.5 414.5L291.6 415.8L292.7 415.1L293.7 415.3L294.8 415.3" fill="none" stroke="#111" stroke-width="1.1" stroke-linejoin="round"/>
<path d="M168.7 428.3L168.7 430.8" stroke="#231f20" stroke-width="0.9"/>
<path d="M189.8 428.3L189.8 429.8" stroke="#231f20" stroke-width="0.9"/>
<path d="M210.9 428.3L210.9 430.8" stroke="#231f20" stroke-width="0.9"/>
<path d="M232 428.3L232 429.8" stroke="#231f20" stroke-width="0.9"/>
<path d="M253.1 428.3L253.1 430.8" stroke="#231f20" stroke-width="0.9"/>
<path d="M274.2 428.3L274.2 429.8" stroke="#231f20" stroke-width="0.9"/>
<path d="M295.3 428.3L295.3 430.8" stroke="#231f20" stroke-width="0.9"/>
<text x="168.7" y="440.8" font-size="7.6" font-weight="normal" text-anchor="middle" fill="#231f20" stroke="#231f20" stroke-width="0.3">400</text>
<text x="210.9" y="440.8" font-size="7.6" font-weight="normal" text-anchor="middle" fill="#231f20" stroke="#231f20" stroke-width="0.3">500</text>
<text x="253.1" y="440.8" font-size="7.6" font-weight="normal" text-anchor="middle" fill="#231f20" stroke="#231f20" stroke-width="0.3">600</text>
<text x="295.3" y="440.8" font-size="7.6" font-weight="normal" text-anchor="middle" fill="#231f20" stroke="#231f20" stroke-width="0.3">700</text>
<text x="232" y="455.5" font-size="7.6" font-weight="normal" text-anchor="middle" fill="#231f20" textLength="61" lengthAdjust="spacingAndGlyphs" stroke="#231f20" stroke-width="0.3">Wavelength (nm)</text>
<text transform="translate(162.8 375.3) rotate(-90)" x="0" y="0" font-size="7.6" text-anchor="middle" fill="#231f20" stroke="#231f20" stroke-width="0.3" textLength="58.6" lengthAdjust="spacingAndGlyphs">Intensity (arb.u.)</text>
<path d="M231.4 331.1L247 331.1" stroke="#111" stroke-width="1.4"/>
<text x="251.7" y="334" font-size="7.6" font-weight="bold" text-anchor="start" fill="#231f20">Cu<tspan dy="2.3" font-size="5.5">2</tspan><tspan dy="-2.3">O MCs</tspan></text>
<defs><radialGradient id="gg" cx="0.4" cy="0.35" r="0.65"><stop offset="0" stop-color="#9a9a9a"/><stop offset="0.5" stop-color="#505050"/><stop offset="1" stop-color="#3a3a3a"/></radialGradient><radialGradient id="gr" cx="0.4" cy="0.35" r="0.65"><stop offset="0" stop-color="#f6a0a6"/><stop offset="0.5" stop-color="#e23a46"/><stop offset="1" stop-color="#c72a35"/></radialGradient><radialGradient id="gb" cx="0.4" cy="0.35" r="0.65"><stop offset="0" stop-color="#8cbcec"/><stop offset="0.5" stop-color="#1e6cc0"/><stop offset="1" stop-color="#155aa5"/></radialGradient></defs>
<circle cx="404.5" cy="517.5" r="1.95" fill="url(#gg)"/>
<circle cx="404.6" cy="515.1" r="1.95" fill="url(#gg)"/>
<circle cx="404.8" cy="512.7" r="1.95" fill="url(#gg)"/>
<circle cx="405.1" cy="510.4" r="1.95" fill="url(#gg)"/>
<circle cx="405.5" cy="508.1" r="1.95" fill="url(#gg)"/>
<circle cx="406" cy="505.8" r="1.95" fill="url(#gg)"/>
<circle cx="406.5" cy="503.6" r="1.95" fill="url(#gg)"/>
<circle cx="407" cy="501.4" r="1.95" fill="url(#gg)"/>
<circle cx="407.6" cy="499.2" r="1.95" fill="url(#gg)"/>
<circle cx="408.2" cy="497.1" r="1.95" fill="url(#gg)"/>
<circle cx="408.9" cy="495" r="1.95" fill="url(#gg)"/>
<circle cx="409.7" cy="493" r="1.95" fill="url(#gg)"/>
<circle cx="410.4" cy="491" r="1.95" fill="url(#gg)"/>
<circle cx="411.2" cy="489.1" r="1.95" fill="url(#gg)"/>
<circle cx="412.1" cy="487.3" r="1.95" fill="url(#gg)"/>
<circle cx="413" cy="485.5" r="1.95" fill="url(#gg)"/>
<circle cx="413.9" cy="483.7" r="1.95" fill="url(#gg)"/>
<circle cx="414.9" cy="482.1" r="1.95" fill="url(#gg)"/>
<circle cx="415.8" cy="480.5" r="1.95" fill="url(#gg)"/>
<circle cx="416.9" cy="479" r="1.95" fill="url(#gg)"/>
<circle cx="417.9" cy="477.6" r="1.95" fill="url(#gg)"/>
<circle cx="419" cy="476.4" r="1.95" fill="url(#gg)"/>
<circle cx="420.1" cy="475.3" r="1.95" fill="url(#gg)"/>
<circle cx="421.3" cy="474.6" r="1.95" fill="url(#gg)"/>
<circle cx="421.3" cy="474.6" r="1.95" fill="url(#gg)"/>
<circle cx="424.2" cy="470.1" r="1.95" fill="url(#gg)"/>
<circle cx="428.5" cy="465.7" r="1.95" fill="url(#gg)"/>
<circle cx="433" cy="461.3" r="1.95" fill="url(#gg)"/>
<circle cx="438.2" cy="457.6" r="1.95" fill="url(#gg)"/>
<circle cx="443.8" cy="454.1" r="1.95" fill="url(#gg)"/>
<circle cx="449.7" cy="450.9" r="1.95" fill="url(#gg)"/>
<circle cx="455.8" cy="448.1" r="1.95" fill="url(#gg)"/>
<circle cx="461.9" cy="446.1" r="1.95" fill="url(#gg)"/>
<circle cx="468.2" cy="444.5" r="1.95" fill="url(#gg)"/>
<circle cx="474.6" cy="443.3" r="1.95" fill="url(#gg)"/>
<circle cx="481.1" cy="442.8" r="1.95" fill="url(#gg)"/>
<circle cx="488" cy="442.8" r="1.95" fill="url(#gg)"/>
<circle cx="494.5" cy="443.7" r="1.95" fill="url(#gg)"/>
<circle cx="501.2" cy="444.9" r="1.95" fill="url(#gg)"/>
<circle cx="507.7" cy="447.3" r="1.95" fill="url(#gg)"/>
<circle cx="514.1" cy="450.6" r="1.95" fill="url(#gg)"/>
<circle cx="519.4" cy="454.4" r="1.95" fill="url(#gg)"/>
<circle cx="524" cy="457.6" r="1.95" fill="url(#gg)"/>
<circle cx="528.9" cy="461" r="1.95" fill="url(#gg)"/>
<circle cx="533" cy="464" r="1.95" fill="url(#gg)"/>
<circle cx="536.6" cy="466.6" r="1.95" fill="url(#gg)"/>
<circle cx="540.1" cy="469.3" r="1.95" fill="url(#gg)"/>
<circle cx="543.5" cy="471" r="1.95" fill="url(#gg)"/>
<circle cx="546.5" cy="472.2" r="1.95" fill="url(#gg)"/>
<circle cx="549.5" cy="473" r="1.95" fill="url(#gg)"/>
<circle cx="552.5" cy="473.4" r="1.95" fill="url(#gg)"/>
<circle cx="555.5" cy="473.6" r="1.95" fill="url(#gg)"/>
<circle cx="558.5" cy="473.8" r="1.95" fill="url(#gg)"/>
<circle cx="561.5" cy="473.8" r="1.95" fill="url(#gg)"/>
<circle cx="564.5" cy="474" r="1.95" fill="url(#gg)"/>
<circle cx="567.5" cy="474.3" r="1.95" fill="url(#gg)"/>
<circle cx="570.5" cy="474.8" r="1.95" fill="url(#gg)"/>
<circle cx="573.5" cy="475.8" r="1.95" fill="url(#gg)"/>
<circle cx="576.7" cy="477.4" r="1.95" fill="url(#gg)"/>
<circle cx="579" cy="478.6" r="1.95" fill="url(#gg)"/>
<circle cx="581.5" cy="479.8" r="1.95" fill="url(#gg)"/>
<circle cx="584" cy="482" r="1.95" fill="url(#gg)"/>
<circle cx="586.4" cy="484.6" r="1.95" fill="url(#gg)"/>
<circle cx="400.8" cy="517.5" r="1.95" fill="url(#gr)"/>
<circle cx="401.6" cy="513" r="1.95" fill="url(#gr)"/>
<circle cx="402.6" cy="508.5" r="1.95" fill="url(#gr)"/>
<circle cx="403.8" cy="503.5" r="1.95" fill="url(#gr)"/>
<circle cx="405.2" cy="498.5" r="1.95" fill="url(#gr)"/>
<circle cx="406.8" cy="493.5" r="1.95" fill="url(#gr)"/>
<circle cx="408.6" cy="488.5" r="1.95" fill="url(#gr)"/>
<circle cx="410.5" cy="484" r="1.95" fill="url(#gr)"/>
<circle cx="412.5" cy="482.2" r="1.95" fill="url(#gr)"/>
<circle cx="414.4" cy="477.5" r="1.95" fill="url(#gr)"/>
<circle cx="416.8" cy="472.2" r="1.95" fill="url(#gr)"/>
<circle cx="419.4" cy="466.1" r="1.95" fill="url(#gr)"/>
<circle cx="422.4" cy="458.7" r="1.95" fill="url(#gr)"/>
<circle cx="426.1" cy="451.7" r="1.95" fill="url(#gr)"/>
<circle cx="430.1" cy="443.2" r="1.95" fill="url(#gr)"/>
<circle cx="434.9" cy="434" r="1.95" fill="url(#gr)"/>
<circle cx="440.8" cy="423.7" r="1.95" fill="url(#gr)"/>
<circle cx="447.8" cy="412.8" r="1.95" fill="url(#gr)"/>
<circle cx="456.1" cy="400.7" r="1.95" fill="url(#gr)"/>
<circle cx="465.8" cy="388.7" r="1.95" fill="url(#gr)"/>
<circle cx="477.6" cy="377.1" r="1.95" fill="url(#gr)"/>
<circle cx="490.1" cy="365.7" r="1.95" fill="url(#gr)"/>
<circle cx="506" cy="354.3" r="1.95" fill="url(#gr)"/>
<circle cx="522.5" cy="345.5" r="1.95" fill="url(#gr)"/>
<circle cx="539.5" cy="340.3" r="1.95" fill="url(#gr)"/>
<circle cx="557.3" cy="339.3" r="1.95" fill="url(#gr)"/>
<circle cx="574.6" cy="341.7" r="1.95" fill="url(#gr)"/>
<circle cx="591.1" cy="348" r="1.95" fill="url(#gr)"/>
<circle cx="605.9" cy="355.7" r="1.95" fill="url(#gr)"/>
<circle cx="618.9" cy="365.8" r="1.95" fill="url(#gr)"/>
<circle cx="631.3" cy="376.1" r="1.95" fill="url(#gr)"/>
<circle cx="641.6" cy="387.4" r="1.95" fill="url(#gr)"/>
<circle cx="650.4" cy="398.8" r="1.95" fill="url(#gr)"/>
<circle cx="657.4" cy="410" r="1.95" fill="url(#gr)"/>
<circle cx="663.7" cy="420.7" r="1.95" fill="url(#gr)"/>
<circle cx="668.3" cy="430.6" r="1.95" fill="url(#gr)"/>
<circle cx="672.3" cy="439.3" r="1.95" fill="url(#gr)"/>
<circle cx="400.4" cy="518.3" r="1.95" fill="url(#gb)"/>
<circle cx="400.5" cy="516.8" r="1.95" fill="url(#gb)"/>
<circle cx="400.7" cy="515.3" r="1.95" fill="url(#gb)"/>
<circle cx="400.9" cy="513.8" r="1.95" fill="url(#gb)"/>
<circle cx="401.2" cy="512.3" r="1.95" fill="url(#gb)"/>
<circle cx="401.5" cy="510.9" r="1.95" fill="url(#gb)"/>
<circle cx="401.8" cy="509.4" r="1.95" fill="url(#gb)"/>
<circle cx="402.2" cy="508" r="1.95" fill="url(#gb)"/>
<circle cx="402.6" cy="506.5" r="1.95" fill="url(#gb)"/>
<circle cx="403" cy="505.1" r="1.95" fill="url(#gb)"/>
<circle cx="403.5" cy="503.7" r="1.95" fill="url(#gb)"/>
<circle cx="404" cy="502.4" r="1.95" fill="url(#gb)"/>
<circle cx="404.5" cy="501" r="1.95" fill="url(#gb)"/>
<circle cx="405" cy="499.6" r="1.95" fill="url(#gb)"/>
<circle cx="405.5" cy="498.3" r="1.95" fill="url(#gb)"/>
<circle cx="406.1" cy="497" r="1.95" fill="url(#gb)"/>
<circle cx="406.6" cy="495.7" r="1.95" fill="url(#gb)"/>
<circle cx="407.2" cy="494.4" r="1.95" fill="url(#gb)"/>
<circle cx="407.9" cy="493.2" r="1.95" fill="url(#gb)"/>
<circle cx="408.5" cy="491.9" r="1.95" fill="url(#gb)"/>
<circle cx="409.1" cy="490.7" r="1.95" fill="url(#gb)"/>
<circle cx="409.8" cy="489.5" r="1.95" fill="url(#gb)"/>
<circle cx="410.5" cy="488.4" r="1.95" fill="url(#gb)"/>
<circle cx="411.2" cy="487.2" r="1.95" fill="url(#gb)"/>
<circle cx="411.9" cy="486.1" r="1.95" fill="url(#gb)"/>
<circle cx="412.6" cy="485" r="1.95" fill="url(#gb)"/>
<circle cx="413.3" cy="484" r="1.95" fill="url(#gb)"/>
<circle cx="414.1" cy="483" r="1.95" fill="url(#gb)"/>
<circle cx="414.9" cy="482" r="1.95" fill="url(#gb)"/>
<circle cx="415.6" cy="481.1" r="1.95" fill="url(#gb)"/>
<circle cx="416.4" cy="480.2" r="1.95" fill="url(#gb)"/>
<circle cx="417.2" cy="479.4" r="1.95" fill="url(#gb)"/>
<circle cx="418.1" cy="478.7" r="1.95" fill="url(#gb)"/>
<circle cx="418.9" cy="478.2" r="1.95" fill="url(#gb)"/>
<circle cx="418.9" cy="478.2" r="1.95" fill="url(#gb)"/>
<circle cx="422.9" cy="475" r="1.95" fill="url(#gb)"/>
<circle cx="426.1" cy="471.4" r="1.95" fill="url(#gb)"/>
<circle cx="430.1" cy="468.2" r="1.95" fill="url(#gb)"/>
<circle cx="434.6" cy="464.8" r="1.95" fill="url(#gb)"/>
<circle cx="439.5" cy="461.8" r="1.95" fill="url(#gb)"/>
<circle cx="444.6" cy="459.2" r="1.95" fill="url(#gb)"/>
<circle cx="449.9" cy="457.3" r="1.95" fill="url(#gb)"/>
<circle cx="455.8" cy="456" r="1.95" fill="url(#gb)"/>
<circle cx="461.8" cy="455.7" r="1.95" fill="url(#gb)"/>
<circle cx="467.9" cy="456.8" r="1.95" fill="url(#gb)"/>
<circle cx="473.5" cy="458.4" r="1.95" fill="url(#gb)"/>
<circle cx="479.1" cy="460.8" r="1.95" fill="url(#gb)"/>
<circle cx="484.3" cy="463.7" r="1.95" fill="url(#gb)"/>
<circle cx="489.6" cy="466.6" r="1.95" fill="url(#gb)"/>
<circle cx="493.6" cy="469.7" r="1.95" fill="url(#gb)"/>
<circle cx="496.8" cy="473" r="1.95" fill="url(#gb)"/>
<circle cx="500" cy="476.6" r="1.95" fill="url(#gb)"/>
<circle cx="503.2" cy="480.3" r="1.95" fill="url(#gb)"/>
<circle cx="506.1" cy="484.1" r="1.95" fill="url(#gb)"/>
<circle cx="509" cy="488.6" r="1.95" fill="url(#gb)"/>
<circle cx="512" cy="493.4" r="1.95" fill="url(#gb)"/>
<circle cx="514.4" cy="498.3" r="1.95" fill="url(#gb)"/>
<circle cx="515.4" cy="501.5" r="1.95" fill="url(#gb)"/>
<circle cx="515.7" cy="504.5" r="1.95" fill="url(#gb)"/>
<circle cx="515.7" cy="507.1" r="1.95" fill="url(#gb)"/>
<rect x="390.5" y="315.3" width="283.6" height="228.1" fill="none" stroke="#231f20" stroke-width="1.55"/>
<path d="M398.2 543.4L398.2 547.4" stroke="#231f20" stroke-width="1.4"/>
<path d="M417.9 543.4L417.9 545.9" stroke="#231f20" stroke-width="1.4"/>
<path d="M437.6 543.4L437.6 547.4" stroke="#231f20" stroke-width="1.4"/>
<path d="M457.3 543.4L457.3 545.9" stroke="#231f20" stroke-width="1.4"/>
<path d="M477 543.4L477 547.4" stroke="#231f20" stroke-width="1.4"/>
<path d="M496.7 543.4L496.7 545.9" stroke="#231f20" stroke-width="1.4"/>
<path d="M516.4 543.4L516.4 547.4" stroke="#231f20" stroke-width="1.4"/>
<path d="M536 543.4L536 545.9" stroke="#231f20" stroke-width="1.4"/>
<path d="M555.7 543.4L555.7 547.4" stroke="#231f20" stroke-width="1.4"/>
<path d="M575.4 543.4L575.4 545.9" stroke="#231f20" stroke-width="1.4"/>
<path d="M595.1 543.4L595.1 547.4" stroke="#231f20" stroke-width="1.4"/>
<path d="M614.8 543.4L614.8 545.9" stroke="#231f20" stroke-width="1.4"/>
<path d="M634.5 543.4L634.5 547.4" stroke="#231f20" stroke-width="1.4"/>
<path d="M654.2 543.4L654.2 545.9" stroke="#231f20" stroke-width="1.4"/>
<path d="M673.9 543.4L673.9 547.4" stroke="#231f20" stroke-width="1.4"/>
<text x="398.2" y="564.5" font-size="12.8" font-weight="bold" text-anchor="middle" fill="#231f20">0</text>
<text x="437.6" y="564.5" font-size="12.8" font-weight="bold" text-anchor="middle" fill="#231f20">50</text>
<text x="477" y="564.5" font-size="12.8" font-weight="bold" text-anchor="middle" fill="#231f20">100</text>
<text x="516.4" y="564.5" font-size="12.8" font-weight="bold" text-anchor="middle" fill="#231f20">150</text>
<text x="555.7" y="564.5" font-size="12.8" font-weight="bold" text-anchor="middle" fill="#231f20">200</text>
<text x="595.1" y="564.5" font-size="12.8" font-weight="bold" text-anchor="middle" fill="#231f20">250</text>
<text x="634.5" y="564.5" font-size="12.8" font-weight="bold" text-anchor="middle" fill="#231f20">300</text>
<text x="673.9" y="564.5" font-size="12.8" font-weight="bold" text-anchor="middle" fill="#231f20">350</text>
<path d="M388 543.3L390.5 543.3" stroke="#231f20" stroke-width="1.4"/>
<path d="M386.5 518L390.5 518" stroke="#231f20" stroke-width="1.4"/>
<path d="M388 492.7L390.5 492.7" stroke="#231f20" stroke-width="1.4"/>
<path d="M386.5 467.3L390.5 467.3" stroke="#231f20" stroke-width="1.4"/>
<path d="M388 442L390.5 442" stroke="#231f20" stroke-width="1.4"/>
<path d="M386.5 416.6L390.5 416.6" stroke="#231f20" stroke-width="1.4"/>
<path d="M388 391.3L390.5 391.3" stroke="#231f20" stroke-width="1.4"/>
<path d="M386.5 366L390.5 366" stroke="#231f20" stroke-width="1.4"/>
<path d="M388 340.6L390.5 340.6" stroke="#231f20" stroke-width="1.4"/>
<path d="M386.5 315.3L390.5 315.3" stroke="#231f20" stroke-width="1.4"/>
<text x="379.8" y="522.6" font-size="12.8" font-weight="bold" text-anchor="end" fill="#231f20">0</text>
<text x="379.8" y="471.9" font-size="12.8" font-weight="bold" text-anchor="end" fill="#231f20">40</text>
<text x="379.8" y="421.2" font-size="12.8" font-weight="bold" text-anchor="end" fill="#231f20">80</text>
<text x="379.8" y="370.6" font-size="12.8" font-weight="bold" text-anchor="end" fill="#231f20">120</text>
<text x="379.8" y="319.9" font-size="12.8" font-weight="bold" text-anchor="end" fill="#231f20">160</text>
<text x="532.5" y="585.6" font-size="12.8" font-weight="bold" text-anchor="middle" fill="#231f20">Z' (<tspan font-weight="normal">&#937;</tspan>)</text>
<text transform="translate(343.4 429.8) rotate(-90)" x="0" y="0" font-size="12.8" font-weight="bold" text-anchor="middle" fill="#231f20" textLength="44" lengthAdjust="spacingAndGlyphs">&#8722;Z'' (&#937;)</text>
<text x="332" y="314.5" font-size="19" font-weight="bold" text-anchor="start" fill="#231f20">d</text>
<circle cx="585.8" cy="498.5" r="2.1" fill="url(#gg)"/>
<text x="592.8" y="502.2" font-size="9.3" font-weight="bold" text-anchor="start" fill="#231f20">Cu<tspan dy="2.8" font-size="6.7">2</tspan><tspan dy="-2.8">O MCs</tspan></text>
<circle cx="585.8" cy="512.9" r="2.1" fill="url(#gr)"/>
<text x="592.8" y="516.6" font-size="9.3" font-weight="bold" text-anchor="start" fill="#231f20">g-C<tspan dy="2.8" font-size="6.7">3</tspan><tspan dy="-2.8">N<tspan dy="2.8" font-size="6.7">4</tspan><tspan dy="-2.8"> NSs</tspan></tspan></text>
<circle cx="585.8" cy="527.2" r="2.1" fill="url(#gb)"/>
<text x="592.8" y="530.9" font-size="9.3" font-weight="bold" text-anchor="start" fill="#231f20">Cu<tspan dy="2.8" font-size="6.7">2</tspan><tspan dy="-2.8">O/g-C<tspan dy="2.8" font-size="6.7">3</tspan><tspan dy="-2.8">N<tspan dy="2.8" font-size="6.7">4</tspan><tspan dy="-2.8">-0.2</tspan></tspan></tspan></text>
</svg></body></html>
